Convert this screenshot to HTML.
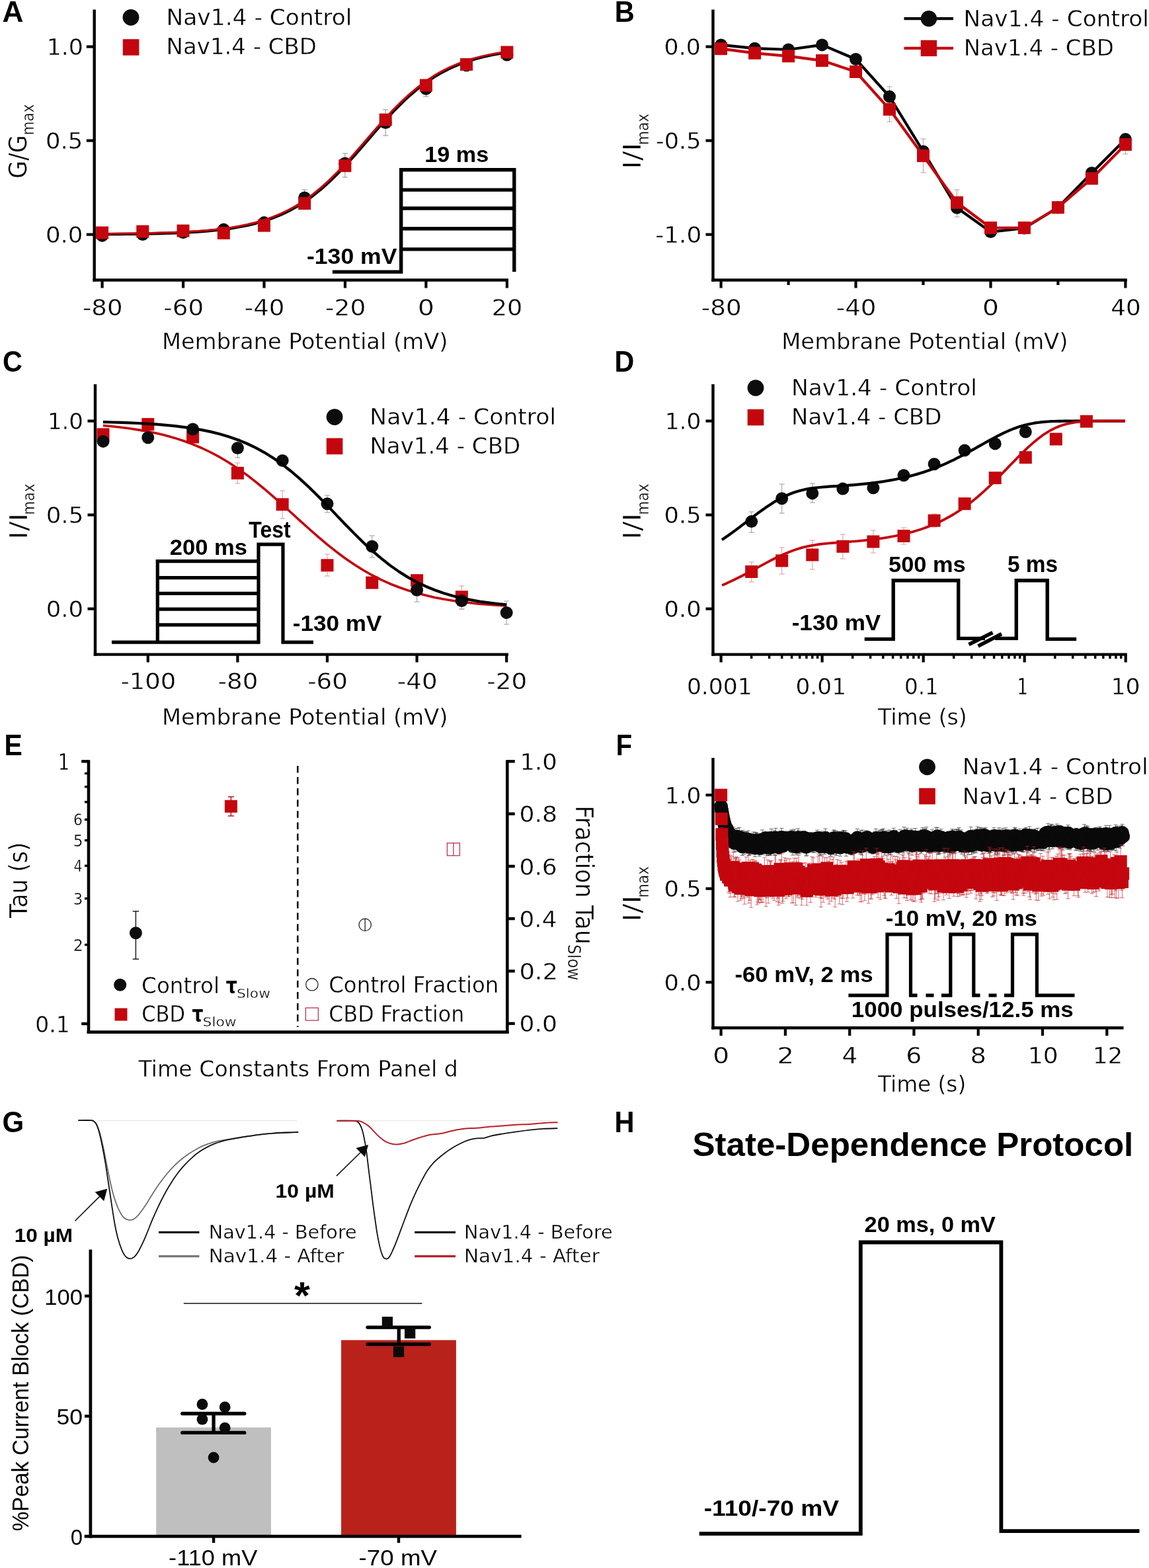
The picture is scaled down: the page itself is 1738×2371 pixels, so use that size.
<!DOCTYPE html>
<html lang="en"><head><meta charset="utf-8"><title>Figure</title>
<style>html,body{margin:0;padding:0;background:#fff}svg{display:block}text{white-space:pre}</style>
</head><body>
<svg width="1738" height="2371" viewBox="0 0 1738 2371">
<rect width="1738" height="2371" fill="#fff"/>
<text x="3.6" y="33.1" font-family='"Liberation Sans",sans-serif' font-size="43.93" font-weight="bold" textLength="31.9" lengthAdjust="spacingAndGlyphs" fill="#000">A</text>
<line x1="142.7" y1="14.5" x2="142.7" y2="425.7" stroke="#000" stroke-width="4.4" stroke-linecap="butt"/>
<line x1="140.5" y1="423.5" x2="769.0" y2="423.5" stroke="#000" stroke-width="4.4" stroke-linecap="butt"/>
<line x1="130.8" y1="70.6" x2="142.7" y2="70.6" stroke="#000" stroke-width="4.2" stroke-linecap="butt"/>
<line x1="130.8" y1="212.6" x2="142.7" y2="212.6" stroke="#000" stroke-width="4.2" stroke-linecap="butt"/>
<line x1="130.8" y1="354.6" x2="142.7" y2="354.6" stroke="#000" stroke-width="4.2" stroke-linecap="butt"/>
<line x1="154.6" y1="423.5" x2="154.6" y2="435.5" stroke="#000" stroke-width="4.2" stroke-linecap="butt"/>
<line x1="277.1" y1="423.5" x2="277.1" y2="435.5" stroke="#000" stroke-width="4.2" stroke-linecap="butt"/>
<line x1="399.5" y1="423.5" x2="399.5" y2="435.5" stroke="#000" stroke-width="4.2" stroke-linecap="butt"/>
<line x1="522.0" y1="423.5" x2="522.0" y2="435.5" stroke="#000" stroke-width="4.2" stroke-linecap="butt"/>
<line x1="644.4" y1="423.5" x2="644.4" y2="435.5" stroke="#000" stroke-width="4.2" stroke-linecap="butt"/>
<line x1="766.9" y1="423.5" x2="766.9" y2="435.5" stroke="#000" stroke-width="4.2" stroke-linecap="butt"/>
<text x="70.7" y="83.2" font-family='"DejaVu Sans","Liberation Sans",sans-serif' font-size="34.5" textLength="55.3" lengthAdjust="spacingAndGlyphs" fill="#000" stroke="#fff" stroke-width="0.4">1.0</text>
<text x="68.9" y="225.2" font-family='"DejaVu Sans","Liberation Sans",sans-serif' font-size="34.5" textLength="56.3" lengthAdjust="spacingAndGlyphs" fill="#000" stroke="#fff" stroke-width="0.4">0.5</text>
<text x="68.9" y="367.2" font-family='"DejaVu Sans","Liberation Sans",sans-serif' font-size="34.5" textLength="56.6" lengthAdjust="spacingAndGlyphs" fill="#000" stroke="#fff" stroke-width="0.4">0.0</text>
<text x="125.0" y="476.8" font-family='"DejaVu Sans","Liberation Sans",sans-serif' font-size="34.5" textLength="60.5" lengthAdjust="spacingAndGlyphs" fill="#000" stroke="#fff" stroke-width="0.4">-80</text>
<text x="247.3" y="476.8" font-family='"DejaVu Sans","Liberation Sans",sans-serif' font-size="34.5" textLength="60.8" lengthAdjust="spacingAndGlyphs" fill="#000" stroke="#fff" stroke-width="0.4">-60</text>
<text x="369.7" y="476.8" font-family='"DejaVu Sans","Liberation Sans",sans-serif' font-size="34.5" textLength="60.9" lengthAdjust="spacingAndGlyphs" fill="#000" stroke="#fff" stroke-width="0.4">-40</text>
<text x="491.9" y="476.8" font-family='"DejaVu Sans","Liberation Sans",sans-serif' font-size="34.5" textLength="61.5" lengthAdjust="spacingAndGlyphs" fill="#000" stroke="#fff" stroke-width="0.4">-20</text>
<text x="632.0" y="476.8" font-family='"DejaVu Sans","Liberation Sans",sans-serif' font-size="34.5" textLength="24.9" lengthAdjust="spacingAndGlyphs" fill="#000" stroke="#fff" stroke-width="0.4">0</text>
<text x="743.7" y="476.8" font-family='"DejaVu Sans","Liberation Sans",sans-serif' font-size="34.5" textLength="46.6" lengthAdjust="spacingAndGlyphs" fill="#000" stroke="#fff" stroke-width="0.4">20</text>
<text x="244.9" y="528.3" font-family='"DejaVu Sans","Liberation Sans",sans-serif' font-size="34" textLength="432.5" lengthAdjust="spacingAndGlyphs" fill="#000" stroke="#fff" stroke-width="0.4">Membrane Potential (mV)</text>
<text transform="translate(39.9 269.9) rotate(-90)" font-family='"DejaVu Sans","Liberation Sans",sans-serif' font-size="37.00" font-weight="normal" textLength="65.8" lengthAdjust="spacingAndGlyphs" fill="#000" stroke="#fff" stroke-width="0.4">G/G</text>
<text transform="translate(50.8 204.5) rotate(-90)" font-family='"DejaVu Sans","Liberation Sans",sans-serif' font-size="24.70" font-weight="normal" textLength="47.2" lengthAdjust="spacingAndGlyphs" fill="#000" stroke="#fff" stroke-width="0.4">max</text>
<circle cx="198.0" cy="26.3" r="12.4" fill="#0d0d0d" stroke="none" stroke-width="0"/>
<rect x="185.8" y="59.2" width="24.6" height="24.6" fill="#c4060e" stroke="none" stroke-width="0"/>
<text x="251.5" y="38.0" font-family='"DejaVu Sans","Liberation Sans",sans-serif' font-size="33.5" textLength="280.8" lengthAdjust="spacingAndGlyphs" fill="#000" stroke="#fff" stroke-width="0.4">Nav1.4 - Control</text>
<text x="251.6" y="82.2" font-family='"DejaVu Sans","Liberation Sans",sans-serif' font-size="33.5" textLength="227.4" lengthAdjust="spacingAndGlyphs" fill="#000" stroke="#fff" stroke-width="0.4">Nav1.4 - CBD</text>
<line x1="460.7" y1="287.0" x2="460.7" y2="311.0" stroke="#8a8a9a" stroke-width="1" stroke-linecap="butt"/>
<line x1="456.7" y1="287.0" x2="464.7" y2="287.0" stroke="#8a8a9a" stroke-width="1" stroke-linecap="butt"/>
<line x1="456.7" y1="311.0" x2="464.7" y2="311.0" stroke="#8a8a9a" stroke-width="1" stroke-linecap="butt"/>
<line x1="521.9" y1="232.0" x2="521.9" y2="268.0" stroke="#8a8a9a" stroke-width="1" stroke-linecap="butt"/>
<line x1="517.9" y1="232.0" x2="525.9" y2="232.0" stroke="#8a8a9a" stroke-width="1" stroke-linecap="butt"/>
<line x1="517.9" y1="268.0" x2="525.9" y2="268.0" stroke="#8a8a9a" stroke-width="1" stroke-linecap="butt"/>
<line x1="583.2" y1="166.0" x2="583.2" y2="205.0" stroke="#8a8a9a" stroke-width="1" stroke-linecap="butt"/>
<line x1="579.2" y1="166.0" x2="587.2" y2="166.0" stroke="#8a8a9a" stroke-width="1" stroke-linecap="butt"/>
<line x1="579.2" y1="205.0" x2="587.2" y2="205.0" stroke="#8a8a9a" stroke-width="1" stroke-linecap="butt"/>
<line x1="644.4" y1="124.0" x2="644.4" y2="146.0" stroke="#8a8a9a" stroke-width="1" stroke-linecap="butt"/>
<line x1="640.4" y1="124.0" x2="648.4" y2="124.0" stroke="#8a8a9a" stroke-width="1" stroke-linecap="butt"/>
<line x1="640.4" y1="146.0" x2="648.4" y2="146.0" stroke="#8a8a9a" stroke-width="1" stroke-linecap="butt"/>
<polyline points="154.6,354.2 166.8,354.1 179.1,354.0 191.3,353.9 203.6,353.7 215.8,353.5 228.1,353.3 240.3,353.0 252.6,352.6 264.8,352.2 277.0,351.6 289.3,351.0 301.5,350.2 313.8,349.2 326.0,348.1 338.3,346.7 350.5,345.0 362.8,342.9 375.0,340.5 387.3,337.5 399.5,334.0 411.7,329.9 424.0,325.0 436.2,319.2 448.5,312.6 460.7,304.9 473.0,296.1 485.2,286.3 497.5,275.4 509.7,263.5 521.9,250.7 534.2,237.2 546.4,223.2 558.7,209.1 570.9,194.9 583.2,181.2 595.4,168.0 607.7,155.6 619.9,144.2 632.2,133.8 644.4,124.6 656.6,116.4 668.9,109.2 681.1,103.0 693.4,97.7 705.6,93.2 717.9,89.3 730.1,86.1 742.4,83.4 754.6,81.2 766.9,79.3" fill="none" stroke="#000" stroke-width="4.4" stroke-linejoin="round" stroke-linecap="butt"/>
<circle cx="154.6" cy="356.4" r="9.5" fill="#0d0d0d" stroke="none" stroke-width="0"/>
<circle cx="215.8" cy="354.5" r="9.5" fill="#0d0d0d" stroke="none" stroke-width="0"/>
<circle cx="277.0" cy="351.6" r="9.5" fill="#0d0d0d" stroke="none" stroke-width="0"/>
<circle cx="338.3" cy="347.1" r="9.5" fill="#0d0d0d" stroke="none" stroke-width="0"/>
<circle cx="399.5" cy="336.6" r="9.5" fill="#0d0d0d" stroke="none" stroke-width="0"/>
<circle cx="460.7" cy="299.0" r="9.5" fill="#0d0d0d" stroke="none" stroke-width="0"/>
<circle cx="521.9" cy="247.0" r="9.5" fill="#0d0d0d" stroke="none" stroke-width="0"/>
<circle cx="583.2" cy="185.6" r="9.5" fill="#0d0d0d" stroke="none" stroke-width="0"/>
<circle cx="644.4" cy="134.3" r="9.5" fill="#0d0d0d" stroke="none" stroke-width="0"/>
<circle cx="705.6" cy="98.7" r="9.5" fill="#0d0d0d" stroke="none" stroke-width="0"/>
<circle cx="766.9" cy="83.0" r="9.5" fill="#0d0d0d" stroke="none" stroke-width="0"/>
<polyline points="154.6,353.4 166.8,353.3 179.1,353.2 191.3,353.0 203.6,352.9 215.8,352.7 228.1,352.4 240.3,352.1 252.6,351.7 264.8,351.3 277.0,350.7 289.3,350.1 301.5,349.3 313.8,348.3 326.0,347.1 338.3,345.6 350.5,343.9 362.8,341.8 375.0,339.3 387.3,336.2 399.5,332.7 411.7,328.4 424.0,323.4 436.2,317.5 448.5,310.7 460.7,302.8 473.0,293.9 485.2,283.9 497.5,272.9 509.7,260.8 521.9,247.9 534.2,234.3 546.4,220.3 558.7,206.1 570.9,192.0 583.2,178.4 595.4,165.3 607.7,153.1 619.9,141.8 632.2,131.6 644.4,122.5 656.6,114.4 668.9,107.4 681.1,101.3 693.4,96.2 705.6,91.7 717.9,88.0 730.1,84.9 742.4,82.3 754.6,80.1 766.9,78.3" fill="none" stroke="#c4060e" stroke-width="3" stroke-linejoin="round" stroke-linecap="butt"/>
<rect x="145.1" y="342.4" width="19" height="19" fill="#c4060e" stroke="none" stroke-width="0"/>
<rect x="206.3" y="340.5" width="19" height="19" fill="#c4060e" stroke="none" stroke-width="0"/>
<rect x="267.5" y="339.5" width="19" height="19" fill="#c4060e" stroke="none" stroke-width="0"/>
<rect x="328.8" y="342.9" width="19" height="19" fill="#c4060e" stroke="none" stroke-width="0"/>
<rect x="390.0" y="331.6" width="19" height="19" fill="#c4060e" stroke="none" stroke-width="0"/>
<rect x="451.2" y="298.1" width="19" height="19" fill="#c4060e" stroke="none" stroke-width="0"/>
<rect x="512.4" y="241.2" width="19" height="19" fill="#c4060e" stroke="none" stroke-width="0"/>
<rect x="573.7" y="171.6" width="19" height="19" fill="#c4060e" stroke="none" stroke-width="0"/>
<rect x="634.9" y="119.5" width="19" height="19" fill="#c4060e" stroke="none" stroke-width="0"/>
<rect x="696.1" y="87.9" width="19" height="19" fill="#c4060e" stroke="none" stroke-width="0"/>
<rect x="757.4" y="69.5" width="19" height="19" fill="#c4060e" stroke="none" stroke-width="0"/>
<polyline points="502.9,411.1 606.7,411.1 606.7,256.7 777.8,256.7 777.8,411.0" fill="none" stroke="#000" stroke-width="5.4" stroke-linejoin="miter" stroke-linecap="butt"/>
<line x1="606.7" y1="287.1" x2="777.8" y2="287.1" stroke="#000" stroke-width="5.4" stroke-linecap="butt"/>
<line x1="606.7" y1="315.0" x2="777.8" y2="315.0" stroke="#000" stroke-width="5.4" stroke-linecap="butt"/>
<line x1="606.7" y1="345.8" x2="777.8" y2="345.8" stroke="#000" stroke-width="5.4" stroke-linecap="butt"/>
<line x1="606.7" y1="376.9" x2="777.8" y2="376.9" stroke="#000" stroke-width="5.4" stroke-linecap="butt"/>
<text x="642.2" y="244.9" font-family='"Liberation Sans",sans-serif' font-size="33.98" font-weight="bold" textLength="97.0" lengthAdjust="spacingAndGlyphs" fill="#000">19 ms</text>
<text x="463.9" y="399.0" font-family='"Liberation Sans",sans-serif' font-size="33.98" font-weight="bold" textLength="136.7" lengthAdjust="spacingAndGlyphs" fill="#000">-130 mV</text>
<text x="929.7" y="33.1" font-family='"Liberation Sans",sans-serif' font-size="43.93" font-weight="bold" textLength="30.0" lengthAdjust="spacingAndGlyphs" fill="#000">B</text>
<line x1="1078.5" y1="14.5" x2="1078.5" y2="425.7" stroke="#000" stroke-width="4.4" stroke-linecap="butt"/>
<line x1="1076.3" y1="423.5" x2="1704.8" y2="423.5" stroke="#000" stroke-width="4.4" stroke-linecap="butt"/>
<line x1="1067.5" y1="70.6" x2="1078.5" y2="70.6" stroke="#000" stroke-width="4.2" stroke-linecap="butt"/>
<line x1="1067.5" y1="212.6" x2="1078.5" y2="212.6" stroke="#000" stroke-width="4.2" stroke-linecap="butt"/>
<line x1="1067.5" y1="354.6" x2="1078.5" y2="354.6" stroke="#000" stroke-width="4.2" stroke-linecap="butt"/>
<line x1="1090.6" y1="423.5" x2="1090.6" y2="435.5" stroke="#000" stroke-width="4.2" stroke-linecap="butt"/>
<line x1="1294.5" y1="423.5" x2="1294.5" y2="435.5" stroke="#000" stroke-width="4.2" stroke-linecap="butt"/>
<line x1="1498.5" y1="423.5" x2="1498.5" y2="435.5" stroke="#000" stroke-width="4.2" stroke-linecap="butt"/>
<line x1="1702.4" y1="423.5" x2="1702.4" y2="435.5" stroke="#000" stroke-width="4.2" stroke-linecap="butt"/>
<line x1="1192.6" y1="423.5" x2="1192.6" y2="431.0" stroke="#000" stroke-width="4.2" stroke-linecap="butt"/>
<line x1="1396.5" y1="423.5" x2="1396.5" y2="431.0" stroke="#000" stroke-width="4.2" stroke-linecap="butt"/>
<line x1="1600.4" y1="423.5" x2="1600.4" y2="431.0" stroke="#000" stroke-width="4.2" stroke-linecap="butt"/>
<text x="1004.6" y="83.2" font-family='"DejaVu Sans","Liberation Sans",sans-serif' font-size="34.5" textLength="55.1" lengthAdjust="spacingAndGlyphs" fill="#000" stroke="#fff" stroke-width="0.4">0.0</text>
<text x="992.0" y="225.2" font-family='"DejaVu Sans","Liberation Sans",sans-serif' font-size="34.5" textLength="68.5" lengthAdjust="spacingAndGlyphs" fill="#000" stroke="#fff" stroke-width="0.4">-0.5</text>
<text x="991.3" y="367.2" font-family='"DejaVu Sans","Liberation Sans",sans-serif' font-size="34.5" textLength="70.1" lengthAdjust="spacingAndGlyphs" fill="#000" stroke="#fff" stroke-width="0.4">-1.0</text>
<text x="1060.8" y="476.8" font-family='"DejaVu Sans","Liberation Sans",sans-serif' font-size="34.5" textLength="60.8" lengthAdjust="spacingAndGlyphs" fill="#000" stroke="#fff" stroke-width="0.4">-80</text>
<text x="1264.7" y="476.8" font-family='"DejaVu Sans","Liberation Sans",sans-serif' font-size="34.5" textLength="60.9" lengthAdjust="spacingAndGlyphs" fill="#000" stroke="#fff" stroke-width="0.4">-40</text>
<text x="1486.0" y="476.8" font-family='"DejaVu Sans","Liberation Sans",sans-serif' font-size="34.5" textLength="24.9" lengthAdjust="spacingAndGlyphs" fill="#000" stroke="#fff" stroke-width="0.4">0</text>
<text x="1680.3" y="476.8" font-family='"DejaVu Sans","Liberation Sans",sans-serif' font-size="34.5" textLength="45.4" lengthAdjust="spacingAndGlyphs" fill="#000" stroke="#fff" stroke-width="0.4">40</text>
<text x="1182.2" y="528.3" font-family='"DejaVu Sans","Liberation Sans",sans-serif' font-size="34" textLength="433.2" lengthAdjust="spacingAndGlyphs" fill="#000" stroke="#fff" stroke-width="0.4">Membrane Potential (mV)</text>
<text transform="translate(968.5 255.7) rotate(-90)" font-family='"DejaVu Sans","Liberation Sans",sans-serif' font-size="37.00" font-weight="normal" textLength="40.0" lengthAdjust="spacingAndGlyphs" fill="#000" stroke="#fff" stroke-width="0.4">I/I</text>
<text transform="translate(980.6 219.3) rotate(-90)" font-family='"DejaVu Sans","Liberation Sans",sans-serif' font-size="24.70" font-weight="normal" textLength="47.5" lengthAdjust="spacingAndGlyphs" fill="#000" stroke="#fff" stroke-width="0.4">max</text>
<line x1="1367.5" y1="28.2" x2="1442.0" y2="28.2" stroke="#000" stroke-width="4.2" stroke-linecap="butt"/>
<circle cx="1404.9" cy="28.2" r="12.2" fill="#0d0d0d" stroke="none" stroke-width="0"/>
<line x1="1367.5" y1="72.9" x2="1442.0" y2="72.9" stroke="#c4060e" stroke-width="4.2" stroke-linecap="butt"/>
<rect x="1392.7" y="60.7" width="24.4" height="24.4" fill="#c4060e" stroke="none" stroke-width="0"/>
<text x="1457.6" y="39.5" font-family='"DejaVu Sans","Liberation Sans",sans-serif' font-size="33.5" textLength="280.3" lengthAdjust="spacingAndGlyphs" fill="#000" stroke="#fff" stroke-width="0.4">Nav1.4 - Control</text>
<text x="1457.7" y="84.3" font-family='"DejaVu Sans","Liberation Sans",sans-serif' font-size="33.5" textLength="227.3" lengthAdjust="spacingAndGlyphs" fill="#000" stroke="#fff" stroke-width="0.4">Nav1.4 - CBD</text>
<line x1="1345.5" y1="131.0" x2="1345.5" y2="184.0" stroke="#b99" stroke-width="1" stroke-linecap="butt"/>
<line x1="1341.5" y1="131.0" x2="1349.5" y2="131.0" stroke="#b99" stroke-width="1" stroke-linecap="butt"/>
<line x1="1341.5" y1="184.0" x2="1349.5" y2="184.0" stroke="#b99" stroke-width="1" stroke-linecap="butt"/>
<line x1="1396.5" y1="210.0" x2="1396.5" y2="261.0" stroke="#b99" stroke-width="1" stroke-linecap="butt"/>
<line x1="1392.5" y1="210.0" x2="1400.5" y2="210.0" stroke="#b99" stroke-width="1" stroke-linecap="butt"/>
<line x1="1392.5" y1="261.0" x2="1400.5" y2="261.0" stroke="#b99" stroke-width="1" stroke-linecap="butt"/>
<line x1="1447.5" y1="287.0" x2="1447.5" y2="328.0" stroke="#b99" stroke-width="1" stroke-linecap="butt"/>
<line x1="1443.5" y1="287.0" x2="1451.5" y2="287.0" stroke="#b99" stroke-width="1" stroke-linecap="butt"/>
<line x1="1443.5" y1="328.0" x2="1451.5" y2="328.0" stroke="#b99" stroke-width="1" stroke-linecap="butt"/>
<line x1="1702.4" y1="205.0" x2="1702.4" y2="233.0" stroke="#b99" stroke-width="1" stroke-linecap="butt"/>
<line x1="1698.4" y1="205.0" x2="1706.4" y2="205.0" stroke="#b99" stroke-width="1" stroke-linecap="butt"/>
<line x1="1698.4" y1="233.0" x2="1706.4" y2="233.0" stroke="#b99" stroke-width="1" stroke-linecap="butt"/>
<polyline points="1090.6,67.9 1141.6,73.2 1192.6,75.0 1243.5,67.9 1294.5,89.5 1345.5,146.1 1396.5,229.0 1447.5,314.2 1498.5,350.6 1549.4,345.0 1600.4,313.7 1651.4,261.4 1702.4,210.6" fill="none" stroke="#000" stroke-width="4.2" stroke-linejoin="round" stroke-linecap="butt"/>
<circle cx="1090.6" cy="67.9" r="9.5" fill="#0d0d0d" stroke="none" stroke-width="0"/>
<circle cx="1141.6" cy="73.2" r="9.5" fill="#0d0d0d" stroke="none" stroke-width="0"/>
<circle cx="1192.6" cy="75.0" r="9.5" fill="#0d0d0d" stroke="none" stroke-width="0"/>
<circle cx="1243.5" cy="67.9" r="9.5" fill="#0d0d0d" stroke="none" stroke-width="0"/>
<circle cx="1294.5" cy="89.5" r="9.5" fill="#0d0d0d" stroke="none" stroke-width="0"/>
<circle cx="1345.5" cy="146.1" r="9.5" fill="#0d0d0d" stroke="none" stroke-width="0"/>
<circle cx="1396.5" cy="229.0" r="9.5" fill="#0d0d0d" stroke="none" stroke-width="0"/>
<circle cx="1447.5" cy="314.2" r="9.5" fill="#0d0d0d" stroke="none" stroke-width="0"/>
<circle cx="1498.5" cy="350.6" r="9.5" fill="#0d0d0d" stroke="none" stroke-width="0"/>
<circle cx="1549.4" cy="345.0" r="9.5" fill="#0d0d0d" stroke="none" stroke-width="0"/>
<circle cx="1600.4" cy="313.7" r="9.5" fill="#0d0d0d" stroke="none" stroke-width="0"/>
<circle cx="1651.4" cy="261.4" r="9.5" fill="#0d0d0d" stroke="none" stroke-width="0"/>
<circle cx="1702.4" cy="210.6" r="9.5" fill="#0d0d0d" stroke="none" stroke-width="0"/>
<polyline points="1090.6,73.7 1141.6,80.3 1192.6,84.8 1243.5,91.6 1294.5,108.5 1345.5,165.3 1396.5,235.6 1447.5,306.3 1498.5,344.5 1549.4,344.5 1600.4,313.7 1651.4,269.9 1702.4,218.5" fill="none" stroke="#c4060e" stroke-width="4.2" stroke-linejoin="round" stroke-linecap="butt"/>
<rect x="1081.1" y="64.2" width="19" height="19" fill="#c4060e" stroke="none" stroke-width="0"/>
<rect x="1132.1" y="70.8" width="19" height="19" fill="#c4060e" stroke="none" stroke-width="0"/>
<rect x="1183.1" y="75.3" width="19" height="19" fill="#c4060e" stroke="none" stroke-width="0"/>
<rect x="1234.0" y="82.1" width="19" height="19" fill="#c4060e" stroke="none" stroke-width="0"/>
<rect x="1285.0" y="99.0" width="19" height="19" fill="#c4060e" stroke="none" stroke-width="0"/>
<rect x="1336.0" y="155.8" width="19" height="19" fill="#c4060e" stroke="none" stroke-width="0"/>
<rect x="1387.0" y="226.1" width="19" height="19" fill="#c4060e" stroke="none" stroke-width="0"/>
<rect x="1438.0" y="296.8" width="19" height="19" fill="#c4060e" stroke="none" stroke-width="0"/>
<rect x="1489.0" y="335.0" width="19" height="19" fill="#c4060e" stroke="none" stroke-width="0"/>
<rect x="1539.9" y="335.0" width="19" height="19" fill="#c4060e" stroke="none" stroke-width="0"/>
<rect x="1590.9" y="304.2" width="19" height="19" fill="#c4060e" stroke="none" stroke-width="0"/>
<rect x="1641.9" y="260.4" width="19" height="19" fill="#c4060e" stroke="none" stroke-width="0"/>
<rect x="1692.9" y="209.0" width="19" height="19" fill="#c4060e" stroke="none" stroke-width="0"/>
<text x="4.1" y="561.9" font-family='"Liberation Sans",sans-serif' font-size="43.9" font-weight="bold" textLength="29.9" lengthAdjust="spacingAndGlyphs" fill="#000">C</text>
<line x1="144.0" y1="581.1" x2="144.0" y2="991.8" stroke="#000" stroke-width="4.4" stroke-linecap="butt"/>
<line x1="141.8" y1="989.6" x2="769.0" y2="989.6" stroke="#000" stroke-width="4.4" stroke-linecap="butt"/>
<line x1="132.5" y1="636.6" x2="144.0" y2="636.6" stroke="#000" stroke-width="4.2" stroke-linecap="butt"/>
<line x1="132.5" y1="778.6" x2="144.0" y2="778.6" stroke="#000" stroke-width="4.2" stroke-linecap="butt"/>
<line x1="132.5" y1="920.6" x2="144.0" y2="920.6" stroke="#000" stroke-width="4.2" stroke-linecap="butt"/>
<line x1="223.8" y1="989.6" x2="223.8" y2="1001.5" stroke="#000" stroke-width="4.2" stroke-linecap="butt"/>
<line x1="359.4" y1="989.6" x2="359.4" y2="1001.5" stroke="#000" stroke-width="4.2" stroke-linecap="butt"/>
<line x1="495.0" y1="989.6" x2="495.0" y2="1001.5" stroke="#000" stroke-width="4.2" stroke-linecap="butt"/>
<line x1="630.6" y1="989.6" x2="630.6" y2="1001.5" stroke="#000" stroke-width="4.2" stroke-linecap="butt"/>
<line x1="766.2" y1="989.6" x2="766.2" y2="1001.5" stroke="#000" stroke-width="4.2" stroke-linecap="butt"/>
<text x="71.9" y="649.2" font-family='"DejaVu Sans","Liberation Sans",sans-serif' font-size="34.5" textLength="54.1" lengthAdjust="spacingAndGlyphs" fill="#000" stroke="#fff" stroke-width="0.4">1.0</text>
<text x="69.7" y="791.2" font-family='"DejaVu Sans","Liberation Sans",sans-serif' font-size="34.5" textLength="56.7" lengthAdjust="spacingAndGlyphs" fill="#000" stroke="#fff" stroke-width="0.4">0.5</text>
<text x="69.7" y="933.2" font-family='"DejaVu Sans","Liberation Sans",sans-serif' font-size="34.5" textLength="56.4" lengthAdjust="spacingAndGlyphs" fill="#000" stroke="#fff" stroke-width="0.4">0.0</text>
<text x="182.4" y="1042.4" font-family='"DejaVu Sans","Liberation Sans",sans-serif' font-size="34.5" textLength="84.0" lengthAdjust="spacingAndGlyphs" fill="#000" stroke="#fff" stroke-width="0.4">-100</text>
<text x="329.6" y="1042.4" font-family='"DejaVu Sans","Liberation Sans",sans-serif' font-size="34.5" textLength="60.8" lengthAdjust="spacingAndGlyphs" fill="#000" stroke="#fff" stroke-width="0.4">-80</text>
<text x="465.2" y="1042.4" font-family='"DejaVu Sans","Liberation Sans",sans-serif' font-size="34.5" textLength="60.8" lengthAdjust="spacingAndGlyphs" fill="#000" stroke="#fff" stroke-width="0.4">-60</text>
<text x="600.8" y="1042.4" font-family='"DejaVu Sans","Liberation Sans",sans-serif' font-size="34.5" textLength="60.8" lengthAdjust="spacingAndGlyphs" fill="#000" stroke="#fff" stroke-width="0.4">-40</text>
<text x="736.3" y="1042.4" font-family='"DejaVu Sans","Liberation Sans",sans-serif' font-size="34.5" textLength="61.0" lengthAdjust="spacingAndGlyphs" fill="#000" stroke="#fff" stroke-width="0.4">-20</text>
<text x="244.9" y="1095.7" font-family='"DejaVu Sans","Liberation Sans",sans-serif' font-size="34" textLength="432.5" lengthAdjust="spacingAndGlyphs" fill="#000" stroke="#fff" stroke-width="0.4">Membrane Potential (mV)</text>
<text transform="translate(40.8 815.7) rotate(-90)" font-family='"DejaVu Sans","Liberation Sans",sans-serif' font-size="37.00" font-weight="normal" textLength="40.0" lengthAdjust="spacingAndGlyphs" fill="#000" stroke="#fff" stroke-width="0.4">I/I</text>
<text transform="translate(52.3 778.7) rotate(-90)" font-family='"DejaVu Sans","Liberation Sans",sans-serif' font-size="24.70" font-weight="normal" textLength="47.4" lengthAdjust="spacingAndGlyphs" fill="#000" stroke="#fff" stroke-width="0.4">max</text>
<circle cx="506.1" cy="630.6" r="12.4" fill="#0d0d0d" stroke="none" stroke-width="0"/>
<rect x="493.8" y="662.5" width="24.6" height="24.6" fill="#c4060e" stroke="none" stroke-width="0"/>
<text x="559.3" y="641.7" font-family='"DejaVu Sans","Liberation Sans",sans-serif' font-size="33.5" textLength="281.7" lengthAdjust="spacingAndGlyphs" fill="#000" stroke="#fff" stroke-width="0.4">Nav1.4 - Control</text>
<text x="559.4" y="686.4" font-family='"DejaVu Sans","Liberation Sans",sans-serif' font-size="33.5" textLength="227.8" lengthAdjust="spacingAndGlyphs" fill="#000" stroke="#fff" stroke-width="0.4">Nav1.4 - CBD</text>
<line x1="359.4" y1="664.0" x2="359.4" y2="692.0" stroke="#999" stroke-width="1" stroke-linecap="butt"/>
<line x1="355.4" y1="664.0" x2="363.4" y2="664.0" stroke="#999" stroke-width="1" stroke-linecap="butt"/>
<line x1="355.4" y1="692.0" x2="363.4" y2="692.0" stroke="#999" stroke-width="1" stroke-linecap="butt"/>
<line x1="495.0" y1="749.0" x2="495.0" y2="775.0" stroke="#999" stroke-width="1" stroke-linecap="butt"/>
<line x1="491.0" y1="749.0" x2="499.0" y2="749.0" stroke="#999" stroke-width="1" stroke-linecap="butt"/>
<line x1="491.0" y1="775.0" x2="499.0" y2="775.0" stroke="#999" stroke-width="1" stroke-linecap="butt"/>
<line x1="562.8" y1="810.0" x2="562.8" y2="843.0" stroke="#999" stroke-width="1" stroke-linecap="butt"/>
<line x1="558.8" y1="810.0" x2="566.8" y2="810.0" stroke="#999" stroke-width="1" stroke-linecap="butt"/>
<line x1="558.8" y1="843.0" x2="566.8" y2="843.0" stroke="#999" stroke-width="1" stroke-linecap="butt"/>
<line x1="630.6" y1="875.0" x2="630.6" y2="910.0" stroke="#999" stroke-width="1" stroke-linecap="butt"/>
<line x1="626.6" y1="875.0" x2="634.6" y2="875.0" stroke="#999" stroke-width="1" stroke-linecap="butt"/>
<line x1="626.6" y1="910.0" x2="634.6" y2="910.0" stroke="#999" stroke-width="1" stroke-linecap="butt"/>
<line x1="698.4" y1="896.0" x2="698.4" y2="921.0" stroke="#999" stroke-width="1" stroke-linecap="butt"/>
<line x1="694.4" y1="896.0" x2="702.4" y2="896.0" stroke="#999" stroke-width="1" stroke-linecap="butt"/>
<line x1="694.4" y1="921.0" x2="702.4" y2="921.0" stroke="#999" stroke-width="1" stroke-linecap="butt"/>
<line x1="766.2" y1="909.0" x2="766.2" y2="944.0" stroke="#999" stroke-width="1" stroke-linecap="butt"/>
<line x1="762.2" y1="909.0" x2="770.2" y2="909.0" stroke="#999" stroke-width="1" stroke-linecap="butt"/>
<line x1="762.2" y1="944.0" x2="770.2" y2="944.0" stroke="#999" stroke-width="1" stroke-linecap="butt"/>
<line x1="359.4" y1="700.0" x2="359.4" y2="731.0" stroke="#d99" stroke-width="1" stroke-linecap="butt"/>
<line x1="355.4" y1="700.0" x2="363.4" y2="700.0" stroke="#d99" stroke-width="1" stroke-linecap="butt"/>
<line x1="355.4" y1="731.0" x2="363.4" y2="731.0" stroke="#d99" stroke-width="1" stroke-linecap="butt"/>
<line x1="427.2" y1="742.0" x2="427.2" y2="784.0" stroke="#d99" stroke-width="1" stroke-linecap="butt"/>
<line x1="423.2" y1="742.0" x2="431.2" y2="742.0" stroke="#d99" stroke-width="1" stroke-linecap="butt"/>
<line x1="423.2" y1="784.0" x2="431.2" y2="784.0" stroke="#d99" stroke-width="1" stroke-linecap="butt"/>
<line x1="495.0" y1="838.0" x2="495.0" y2="871.0" stroke="#d99" stroke-width="1" stroke-linecap="butt"/>
<line x1="491.0" y1="838.0" x2="499.0" y2="838.0" stroke="#d99" stroke-width="1" stroke-linecap="butt"/>
<line x1="491.0" y1="871.0" x2="499.0" y2="871.0" stroke="#d99" stroke-width="1" stroke-linecap="butt"/>
<line x1="698.4" y1="886.0" x2="698.4" y2="921.0" stroke="#d99" stroke-width="1" stroke-linecap="butt"/>
<line x1="694.4" y1="886.0" x2="702.4" y2="886.0" stroke="#d99" stroke-width="1" stroke-linecap="butt"/>
<line x1="694.4" y1="921.0" x2="702.4" y2="921.0" stroke="#d99" stroke-width="1" stroke-linecap="butt"/>
<rect x="146.5" y="647.4" width="19" height="19" fill="#c4060e" stroke="none" stroke-width="0"/>
<rect x="214.3" y="632.1" width="19" height="19" fill="#c4060e" stroke="none" stroke-width="0"/>
<rect x="282.1" y="651.4" width="19" height="19" fill="#c4060e" stroke="none" stroke-width="0"/>
<rect x="349.9" y="705.9" width="19" height="19" fill="#c4060e" stroke="none" stroke-width="0"/>
<rect x="417.7" y="753.3" width="19" height="19" fill="#c4060e" stroke="none" stroke-width="0"/>
<rect x="485.5" y="845.3" width="19" height="19" fill="#c4060e" stroke="none" stroke-width="0"/>
<rect x="553.3" y="871.6" width="19" height="19" fill="#c4060e" stroke="none" stroke-width="0"/>
<rect x="621.1" y="868.2" width="19" height="19" fill="#c4060e" stroke="none" stroke-width="0"/>
<rect x="688.9" y="893.2" width="19" height="19" fill="#c4060e" stroke="none" stroke-width="0"/>
<polyline points="156.0,643.5 169.6,644.8 183.1,646.2 196.7,648.0 210.2,650.1 223.8,652.5 237.4,655.3 250.9,658.6 264.5,662.4 278.0,666.8 291.6,671.8 305.2,677.5 318.7,684.0 332.3,691.2 345.8,699.3 359.4,708.2 373.0,717.9 386.5,728.4 400.1,739.5 413.6,751.2 427.2,763.2 440.8,775.5 454.3,787.8 467.9,800.0 481.4,811.9 495.0,823.3 508.6,834.1 522.1,844.2 535.7,853.5 549.2,862.0 562.8,869.7 576.4,876.6 589.9,882.7 603.5,888.0 617.0,892.7 630.6,896.8 644.2,900.3 657.7,903.4 671.3,906.0 684.8,908.2 698.4,910.1 712.0,911.7 725.5,913.1 739.1,914.3 752.6,915.3 766.2,916.1" fill="none" stroke="#c4060e" stroke-width="3.6" stroke-linejoin="round" stroke-linecap="butt"/>
<circle cx="156.0" cy="667.4" r="9.5" fill="#0d0d0d" stroke="none" stroke-width="0"/>
<circle cx="223.8" cy="661.7" r="9.5" fill="#0d0d0d" stroke="none" stroke-width="0"/>
<circle cx="291.6" cy="649.0" r="9.5" fill="#0d0d0d" stroke="none" stroke-width="0"/>
<circle cx="359.4" cy="677.5" r="9.5" fill="#0d0d0d" stroke="none" stroke-width="0"/>
<circle cx="427.2" cy="696.4" r="9.5" fill="#0d0d0d" stroke="none" stroke-width="0"/>
<circle cx="495.0" cy="761.7" r="9.5" fill="#0d0d0d" stroke="none" stroke-width="0"/>
<circle cx="562.8" cy="826.3" r="9.5" fill="#0d0d0d" stroke="none" stroke-width="0"/>
<circle cx="630.6" cy="892.2" r="9.5" fill="#0d0d0d" stroke="none" stroke-width="0"/>
<circle cx="698.4" cy="908.5" r="9.5" fill="#0d0d0d" stroke="none" stroke-width="0"/>
<circle cx="766.2" cy="926.4" r="9.5" fill="#0d0d0d" stroke="none" stroke-width="0"/>
<polyline points="156.0,638.2 169.6,638.5 183.1,638.9 196.7,639.4 210.2,640.0 223.8,640.8 237.4,641.7 250.9,642.8 264.5,644.2 278.0,645.8 291.6,647.7 305.2,650.1 318.7,652.9 332.3,656.2 345.8,660.2 359.4,664.9 373.0,670.5 386.5,676.9 400.1,684.3 413.6,692.8 427.2,702.3 440.8,713.0 454.3,724.6 467.9,737.2 481.4,750.6 495.0,764.4 508.6,778.6 522.1,792.8 535.7,806.6 549.2,820.0 562.8,832.6 576.4,844.2 589.9,854.9 603.5,864.4 617.0,872.9 630.6,880.3 644.2,886.7 657.7,892.3 671.3,897.0 684.8,901.0 698.4,904.3 712.0,907.1 725.5,909.5 739.1,911.4 752.6,913.0 766.2,914.4" fill="none" stroke="#000" stroke-width="4.2" stroke-linejoin="round" stroke-linecap="butt"/>
<polyline points="169.0,971.1 389.7,971.1" fill="none" stroke="#000" stroke-width="5.2" stroke-linejoin="miter" stroke-linecap="butt"/>
<polyline points="238.3,971.1 238.3,848.7 391.0,848.7" fill="none" stroke="#000" stroke-width="5.2" stroke-linejoin="miter" stroke-linecap="butt"/>
<line x1="238.3" y1="873.7" x2="391.0" y2="873.7" stroke="#000" stroke-width="5.2" stroke-linecap="butt"/>
<line x1="238.3" y1="897.4" x2="391.0" y2="897.4" stroke="#000" stroke-width="5.2" stroke-linecap="butt"/>
<line x1="238.3" y1="921.1" x2="391.0" y2="921.1" stroke="#000" stroke-width="5.2" stroke-linecap="butt"/>
<line x1="238.3" y1="944.8" x2="391.0" y2="944.8" stroke="#000" stroke-width="5.2" stroke-linecap="butt"/>
<polyline points="391.0,973.7 391.0,823.2 428.0,823.2 428.0,971.1 474.0,971.1" fill="none" stroke="#000" stroke-width="5.2" stroke-linejoin="miter" stroke-linecap="butt"/>
<text x="256.8" y="839.0" font-family='"Liberation Sans",sans-serif' font-size="33.98" font-weight="bold" textLength="117.3" lengthAdjust="spacingAndGlyphs" fill="#000">200 ms</text>
<text x="376.3" y="812.8" font-family='"Liberation Sans",sans-serif' font-size="34.47" font-weight="bold" textLength="63.5" lengthAdjust="spacingAndGlyphs" fill="#000">Test</text>
<text x="442.8" y="953.5" font-family='"Liberation Sans",sans-serif' font-size="33.98" font-weight="bold" textLength="134.7" lengthAdjust="spacingAndGlyphs" fill="#000">-130 mV</text>
<text x="929.6" y="561.9" font-family='"Liberation Sans",sans-serif' font-size="43.9" font-weight="bold" textLength="29.8" lengthAdjust="spacingAndGlyphs" fill="#000">D</text>
<line x1="1078.5" y1="581.1" x2="1078.5" y2="991.8" stroke="#000" stroke-width="4.4" stroke-linecap="butt"/>
<line x1="1076.3" y1="989.6" x2="1704.8" y2="989.6" stroke="#000" stroke-width="4.4" stroke-linecap="butt"/>
<line x1="1067.5" y1="636.6" x2="1078.5" y2="636.6" stroke="#000" stroke-width="4.2" stroke-linecap="butt"/>
<line x1="1067.5" y1="778.6" x2="1078.5" y2="778.6" stroke="#000" stroke-width="4.2" stroke-linecap="butt"/>
<line x1="1067.5" y1="920.6" x2="1078.5" y2="920.6" stroke="#000" stroke-width="4.2" stroke-linecap="butt"/>
<line x1="1090.6" y1="989.6" x2="1090.6" y2="1001.5" stroke="#000" stroke-width="4.2" stroke-linecap="butt"/>
<line x1="1136.7" y1="989.6" x2="1136.7" y2="996.0" stroke="#000" stroke-width="3.4" stroke-linecap="butt"/>
<line x1="1163.6" y1="989.6" x2="1163.6" y2="996.0" stroke="#000" stroke-width="3.4" stroke-linecap="butt"/>
<line x1="1182.7" y1="989.6" x2="1182.7" y2="996.0" stroke="#000" stroke-width="3.4" stroke-linecap="butt"/>
<line x1="1197.6" y1="989.6" x2="1197.6" y2="996.0" stroke="#000" stroke-width="3.4" stroke-linecap="butt"/>
<line x1="1209.7" y1="989.6" x2="1209.7" y2="996.0" stroke="#000" stroke-width="3.4" stroke-linecap="butt"/>
<line x1="1219.9" y1="989.6" x2="1219.9" y2="996.0" stroke="#000" stroke-width="3.4" stroke-linecap="butt"/>
<line x1="1228.8" y1="989.6" x2="1228.8" y2="996.0" stroke="#000" stroke-width="3.4" stroke-linecap="butt"/>
<line x1="1236.6" y1="989.6" x2="1236.6" y2="996.0" stroke="#000" stroke-width="3.4" stroke-linecap="butt"/>
<line x1="1243.6" y1="989.6" x2="1243.6" y2="1001.5" stroke="#000" stroke-width="4.2" stroke-linecap="butt"/>
<line x1="1289.7" y1="989.6" x2="1289.7" y2="996.0" stroke="#000" stroke-width="3.4" stroke-linecap="butt"/>
<line x1="1316.6" y1="989.6" x2="1316.6" y2="996.0" stroke="#000" stroke-width="3.4" stroke-linecap="butt"/>
<line x1="1335.8" y1="989.6" x2="1335.8" y2="996.0" stroke="#000" stroke-width="3.4" stroke-linecap="butt"/>
<line x1="1350.6" y1="989.6" x2="1350.6" y2="996.0" stroke="#000" stroke-width="3.4" stroke-linecap="butt"/>
<line x1="1362.7" y1="989.6" x2="1362.7" y2="996.0" stroke="#000" stroke-width="3.4" stroke-linecap="butt"/>
<line x1="1373.0" y1="989.6" x2="1373.0" y2="996.0" stroke="#000" stroke-width="3.4" stroke-linecap="butt"/>
<line x1="1381.8" y1="989.6" x2="1381.8" y2="996.0" stroke="#000" stroke-width="3.4" stroke-linecap="butt"/>
<line x1="1389.7" y1="989.6" x2="1389.7" y2="996.0" stroke="#000" stroke-width="3.4" stroke-linecap="butt"/>
<line x1="1396.7" y1="989.6" x2="1396.7" y2="1001.5" stroke="#000" stroke-width="4.2" stroke-linecap="butt"/>
<line x1="1442.7" y1="989.6" x2="1442.7" y2="996.0" stroke="#000" stroke-width="3.4" stroke-linecap="butt"/>
<line x1="1469.7" y1="989.6" x2="1469.7" y2="996.0" stroke="#000" stroke-width="3.4" stroke-linecap="butt"/>
<line x1="1488.8" y1="989.6" x2="1488.8" y2="996.0" stroke="#000" stroke-width="3.4" stroke-linecap="butt"/>
<line x1="1503.6" y1="989.6" x2="1503.6" y2="996.0" stroke="#000" stroke-width="3.4" stroke-linecap="butt"/>
<line x1="1515.7" y1="989.6" x2="1515.7" y2="996.0" stroke="#000" stroke-width="3.4" stroke-linecap="butt"/>
<line x1="1526.0" y1="989.6" x2="1526.0" y2="996.0" stroke="#000" stroke-width="3.4" stroke-linecap="butt"/>
<line x1="1534.9" y1="989.6" x2="1534.9" y2="996.0" stroke="#000" stroke-width="3.4" stroke-linecap="butt"/>
<line x1="1542.7" y1="989.6" x2="1542.7" y2="996.0" stroke="#000" stroke-width="3.4" stroke-linecap="butt"/>
<line x1="1549.7" y1="989.6" x2="1549.7" y2="1001.5" stroke="#000" stroke-width="4.2" stroke-linecap="butt"/>
<line x1="1595.8" y1="989.6" x2="1595.8" y2="996.0" stroke="#000" stroke-width="3.4" stroke-linecap="butt"/>
<line x1="1622.7" y1="989.6" x2="1622.7" y2="996.0" stroke="#000" stroke-width="3.4" stroke-linecap="butt"/>
<line x1="1641.8" y1="989.6" x2="1641.8" y2="996.0" stroke="#000" stroke-width="3.4" stroke-linecap="butt"/>
<line x1="1656.7" y1="989.6" x2="1656.7" y2="996.0" stroke="#000" stroke-width="3.4" stroke-linecap="butt"/>
<line x1="1668.8" y1="989.6" x2="1668.8" y2="996.0" stroke="#000" stroke-width="3.4" stroke-linecap="butt"/>
<line x1="1679.0" y1="989.6" x2="1679.0" y2="996.0" stroke="#000" stroke-width="3.4" stroke-linecap="butt"/>
<line x1="1687.9" y1="989.6" x2="1687.9" y2="996.0" stroke="#000" stroke-width="3.4" stroke-linecap="butt"/>
<line x1="1695.7" y1="989.6" x2="1695.7" y2="996.0" stroke="#000" stroke-width="3.4" stroke-linecap="butt"/>
<line x1="1702.7" y1="989.6" x2="1702.7" y2="1001.5" stroke="#000" stroke-width="4.2" stroke-linecap="butt"/>
<text x="1005.7" y="649.2" font-family='"DejaVu Sans","Liberation Sans",sans-serif' font-size="34.5" textLength="54.8" lengthAdjust="spacingAndGlyphs" fill="#000" stroke="#fff" stroke-width="0.4">1.0</text>
<text x="1004.6" y="791.2" font-family='"DejaVu Sans","Liberation Sans",sans-serif' font-size="34.5" textLength="56.1" lengthAdjust="spacingAndGlyphs" fill="#000" stroke="#fff" stroke-width="0.4">0.5</text>
<text x="1004.6" y="933.2" font-family='"DejaVu Sans","Liberation Sans",sans-serif' font-size="34.5" textLength="56.0" lengthAdjust="spacingAndGlyphs" fill="#000" stroke="#fff" stroke-width="0.4">0.0</text>
<text x="1038.9" y="1050.3" font-family='"DejaVu Sans","Liberation Sans",sans-serif' font-size="34.5" textLength="98.9" lengthAdjust="spacingAndGlyphs" fill="#000" stroke="#fff" stroke-width="0.4">0.001</text>
<text x="1203.5" y="1050.3" font-family='"DejaVu Sans","Liberation Sans",sans-serif' font-size="34.5" textLength="76.5" lengthAdjust="spacingAndGlyphs" fill="#000" stroke="#fff" stroke-width="0.4">0.01</text>
<text x="1368.0" y="1050.3" font-family='"DejaVu Sans","Liberation Sans",sans-serif' font-size="34.5" textLength="51.6" lengthAdjust="spacingAndGlyphs" fill="#000" stroke="#fff" stroke-width="0.4">0.1</text>
<text x="1538.4" y="1050.3" font-family='"DejaVu Sans","Liberation Sans",sans-serif' font-size="34.5" textLength="16.5" lengthAdjust="spacingAndGlyphs" fill="#000" stroke="#fff" stroke-width="0.4">1</text>
<text x="1680.4" y="1050.3" font-family='"DejaVu Sans","Liberation Sans",sans-serif' font-size="34.5" textLength="44.1" lengthAdjust="spacingAndGlyphs" fill="#000" stroke="#fff" stroke-width="0.4">10</text>
<text x="1328.1" y="1095.7" font-family='"DejaVu Sans","Liberation Sans",sans-serif' font-size="34" textLength="134.7" lengthAdjust="spacingAndGlyphs" fill="#000" stroke="#fff" stroke-width="0.4">Time (s)</text>
<text transform="translate(968.5 815.7) rotate(-90)" font-family='"DejaVu Sans","Liberation Sans",sans-serif' font-size="37.00" font-weight="normal" textLength="40.0" lengthAdjust="spacingAndGlyphs" fill="#000" stroke="#fff" stroke-width="0.4">I/I</text>
<text transform="translate(980.6 778.7) rotate(-90)" font-family='"DejaVu Sans","Liberation Sans",sans-serif' font-size="24.70" font-weight="normal" textLength="47.4" lengthAdjust="spacingAndGlyphs" fill="#000" stroke="#fff" stroke-width="0.4">max</text>
<circle cx="1143.0" cy="586.6" r="12.4" fill="#0d0d0d" stroke="none" stroke-width="0"/>
<rect x="1130.7" y="618.8" width="24.6" height="24.6" fill="#c4060e" stroke="none" stroke-width="0"/>
<text x="1197.0" y="597.7" font-family='"DejaVu Sans","Liberation Sans",sans-serif' font-size="33.5" textLength="280.8" lengthAdjust="spacingAndGlyphs" fill="#000" stroke="#fff" stroke-width="0.4">Nav1.4 - Control</text>
<text x="1197.1" y="642.4" font-family='"DejaVu Sans","Liberation Sans",sans-serif' font-size="33.5" textLength="227.2" lengthAdjust="spacingAndGlyphs" fill="#000" stroke="#fff" stroke-width="0.4">Nav1.4 - CBD</text>
<line x1="1136.7" y1="774.0" x2="1136.7" y2="805.0" stroke="#999" stroke-width="1" stroke-linecap="butt"/>
<line x1="1132.7" y1="774.0" x2="1140.7" y2="774.0" stroke="#999" stroke-width="1" stroke-linecap="butt"/>
<line x1="1132.7" y1="805.0" x2="1140.7" y2="805.0" stroke="#999" stroke-width="1" stroke-linecap="butt"/>
<line x1="1182.7" y1="732.0" x2="1182.7" y2="776.0" stroke="#999" stroke-width="1" stroke-linecap="butt"/>
<line x1="1178.7" y1="732.0" x2="1186.7" y2="732.0" stroke="#999" stroke-width="1" stroke-linecap="butt"/>
<line x1="1178.7" y1="776.0" x2="1186.7" y2="776.0" stroke="#999" stroke-width="1" stroke-linecap="butt"/>
<line x1="1228.8" y1="731.0" x2="1228.8" y2="760.0" stroke="#999" stroke-width="1" stroke-linecap="butt"/>
<line x1="1224.8" y1="731.0" x2="1232.8" y2="731.0" stroke="#999" stroke-width="1" stroke-linecap="butt"/>
<line x1="1224.8" y1="760.0" x2="1232.8" y2="760.0" stroke="#999" stroke-width="1" stroke-linecap="butt"/>
<line x1="1136.7" y1="850.0" x2="1136.7" y2="880.0" stroke="#d99" stroke-width="1" stroke-linecap="butt"/>
<line x1="1132.7" y1="850.0" x2="1140.7" y2="850.0" stroke="#d99" stroke-width="1" stroke-linecap="butt"/>
<line x1="1132.7" y1="880.0" x2="1140.7" y2="880.0" stroke="#d99" stroke-width="1" stroke-linecap="butt"/>
<line x1="1182.7" y1="828.0" x2="1182.7" y2="868.0" stroke="#d99" stroke-width="1" stroke-linecap="butt"/>
<line x1="1178.7" y1="828.0" x2="1186.7" y2="828.0" stroke="#d99" stroke-width="1" stroke-linecap="butt"/>
<line x1="1178.7" y1="868.0" x2="1186.7" y2="868.0" stroke="#d99" stroke-width="1" stroke-linecap="butt"/>
<line x1="1228.8" y1="817.0" x2="1228.8" y2="861.0" stroke="#d99" stroke-width="1" stroke-linecap="butt"/>
<line x1="1224.8" y1="817.0" x2="1232.8" y2="817.0" stroke="#d99" stroke-width="1" stroke-linecap="butt"/>
<line x1="1224.8" y1="861.0" x2="1232.8" y2="861.0" stroke="#d99" stroke-width="1" stroke-linecap="butt"/>
<line x1="1274.9" y1="808.0" x2="1274.9" y2="845.0" stroke="#d99" stroke-width="1" stroke-linecap="butt"/>
<line x1="1270.9" y1="808.0" x2="1278.9" y2="808.0" stroke="#d99" stroke-width="1" stroke-linecap="butt"/>
<line x1="1270.9" y1="845.0" x2="1278.9" y2="845.0" stroke="#d99" stroke-width="1" stroke-linecap="butt"/>
<line x1="1320.9" y1="802.0" x2="1320.9" y2="836.0" stroke="#d99" stroke-width="1" stroke-linecap="butt"/>
<line x1="1316.9" y1="802.0" x2="1324.9" y2="802.0" stroke="#d99" stroke-width="1" stroke-linecap="butt"/>
<line x1="1316.9" y1="836.0" x2="1324.9" y2="836.0" stroke="#d99" stroke-width="1" stroke-linecap="butt"/>
<line x1="1367.0" y1="798.0" x2="1367.0" y2="823.0" stroke="#d99" stroke-width="1" stroke-linecap="butt"/>
<line x1="1363.0" y1="798.0" x2="1371.0" y2="798.0" stroke="#d99" stroke-width="1" stroke-linecap="butt"/>
<line x1="1363.0" y1="823.0" x2="1371.0" y2="823.0" stroke="#d99" stroke-width="1" stroke-linecap="butt"/>
<line x1="1413.1" y1="777.0" x2="1413.1" y2="797.0" stroke="#d99" stroke-width="1" stroke-linecap="butt"/>
<line x1="1409.1" y1="777.0" x2="1417.1" y2="777.0" stroke="#d99" stroke-width="1" stroke-linecap="butt"/>
<line x1="1409.1" y1="797.0" x2="1417.1" y2="797.0" stroke="#d99" stroke-width="1" stroke-linecap="butt"/>
<circle cx="1136.7" cy="788.6" r="9.5" fill="#0d0d0d" stroke="none" stroke-width="0"/>
<circle cx="1182.7" cy="753.8" r="9.5" fill="#0d0d0d" stroke="none" stroke-width="0"/>
<circle cx="1228.8" cy="745.9" r="9.5" fill="#0d0d0d" stroke="none" stroke-width="0"/>
<circle cx="1274.9" cy="739.1" r="9.5" fill="#0d0d0d" stroke="none" stroke-width="0"/>
<circle cx="1320.9" cy="737.7" r="9.5" fill="#0d0d0d" stroke="none" stroke-width="0"/>
<circle cx="1367.0" cy="718.8" r="9.5" fill="#0d0d0d" stroke="none" stroke-width="0"/>
<circle cx="1413.1" cy="701.7" r="9.5" fill="#0d0d0d" stroke="none" stroke-width="0"/>
<circle cx="1459.1" cy="681.1" r="9.5" fill="#0d0d0d" stroke="none" stroke-width="0"/>
<circle cx="1505.2" cy="670.9" r="9.5" fill="#0d0d0d" stroke="none" stroke-width="0"/>
<circle cx="1551.3" cy="653.0" r="9.5" fill="#0d0d0d" stroke="none" stroke-width="0"/>
<polyline points="1092.0,816.3 1097.1,812.8 1102.2,809.3 1107.2,805.6 1112.3,801.9 1117.4,798.1 1122.5,794.2 1127.6,790.3 1132.7,786.5 1137.7,782.6 1142.8,778.7 1147.9,774.9 1153.0,771.2 1158.1,767.6 1163.2,764.2 1168.2,760.9 1173.3,757.8 1178.4,754.9 1183.5,752.2 1188.6,749.7 1193.7,747.5 1198.7,745.5 1203.8,743.8 1208.9,742.3 1214.0,741.0 1219.1,739.8 1224.1,738.9 1229.2,738.1 1234.3,737.5 1239.4,737.0 1244.5,736.5 1249.6,736.1 1254.6,735.7 1259.7,735.4 1264.8,735.1 1269.9,734.7 1275.0,734.4 1280.1,734.1 1285.1,733.7 1290.2,733.3 1295.3,732.8 1300.4,732.4 1305.5,731.9 1310.5,731.4 1315.6,730.8 1320.7,730.2 1325.8,729.5 1330.9,728.8 1336.0,728.1 1341.0,727.3 1346.1,726.4 1351.2,725.5 1356.3,724.5 1361.4,723.4 1366.5,722.3 1371.5,721.1 1376.6,719.9 1381.7,718.5 1386.8,717.1 1391.9,715.6 1397.0,713.9 1402.0,712.3 1407.1,710.5 1412.2,708.6 1417.3,706.6 1422.4,704.5 1427.4,702.4 1432.5,700.1 1437.6,697.7 1442.7,695.3 1447.8,692.7 1452.9,690.1 1457.9,687.4 1463.0,684.7 1468.1,681.9 1473.2,679.1 1478.3,676.2 1483.4,673.3 1488.4,670.5 1493.5,667.6 1498.6,664.8 1503.7,662.1 1508.8,659.4 1513.8,656.8 1518.9,654.4 1524.0,652.1 1529.1,649.9 1534.2,647.9 1539.3,646.1 1544.3,644.5 1549.4,643.0 1554.5,641.8 1559.6,640.7 1564.7,639.7 1569.8,639.0 1574.8,638.4 1579.9,637.9 1585.0,637.5 1590.1,637.2 1595.2,637.0 1600.2,636.9 1605.3,636.8 1610.4,636.7 1615.5,636.7 1620.6,636.6 1625.7,636.6 1630.7,636.6 1635.8,636.6 1640.9,636.6 1646.0,636.6 1651.1,636.6 1656.2,636.6 1661.2,636.6 1666.3,636.6 1671.4,636.6 1676.5,636.6 1681.6,636.6 1686.7,636.6 1691.7,636.6 1696.8,636.6 1701.9,636.6" fill="none" stroke="#000" stroke-width="4.2" stroke-linejoin="round" stroke-linecap="butt"/>
<rect x="1127.2" y="855.0" width="19" height="19" fill="#c4060e" stroke="none" stroke-width="0"/>
<rect x="1173.2" y="838.4" width="19" height="19" fill="#c4060e" stroke="none" stroke-width="0"/>
<rect x="1219.3" y="829.5" width="19" height="19" fill="#c4060e" stroke="none" stroke-width="0"/>
<rect x="1265.4" y="816.8" width="19" height="19" fill="#c4060e" stroke="none" stroke-width="0"/>
<rect x="1311.4" y="809.5" width="19" height="19" fill="#c4060e" stroke="none" stroke-width="0"/>
<rect x="1357.5" y="801.0" width="19" height="19" fill="#c4060e" stroke="none" stroke-width="0"/>
<rect x="1403.6" y="777.7" width="19" height="19" fill="#c4060e" stroke="none" stroke-width="0"/>
<rect x="1449.6" y="752.2" width="19" height="19" fill="#c4060e" stroke="none" stroke-width="0"/>
<rect x="1495.7" y="713.2" width="19" height="19" fill="#c4060e" stroke="none" stroke-width="0"/>
<rect x="1541.8" y="682.2" width="19" height="19" fill="#c4060e" stroke="none" stroke-width="0"/>
<rect x="1587.8" y="654.5" width="19" height="19" fill="#c4060e" stroke="none" stroke-width="0"/>
<rect x="1633.9" y="627.7" width="19" height="19" fill="#c4060e" stroke="none" stroke-width="0"/>
<polyline points="1092.0,885.1 1097.1,882.9 1102.2,880.6 1107.2,878.3 1112.3,875.8 1117.4,873.3 1122.5,870.7 1127.6,868.0 1132.7,865.4 1137.7,862.6 1142.8,859.9 1147.9,857.1 1153.0,854.4 1158.1,851.6 1163.2,848.9 1168.2,846.3 1173.3,843.8 1178.4,841.3 1183.5,839.0 1188.6,836.7 1193.7,834.7 1198.7,832.7 1203.8,831.0 1208.9,829.4 1214.0,827.9 1219.1,826.7 1224.1,825.6 1229.2,824.6 1234.3,823.8 1239.4,823.0 1244.5,822.4 1249.6,821.9 1254.6,821.4 1259.7,821.0 1264.8,820.6 1269.9,820.2 1275.0,819.9 1280.1,819.5 1285.1,819.1 1290.2,818.7 1295.3,818.3 1300.4,817.9 1305.5,817.4 1310.5,816.9 1315.6,816.3 1320.7,815.7 1325.8,815.0 1330.9,814.3 1336.0,813.6 1341.0,812.8 1346.1,811.9 1351.2,811.0 1356.3,810.0 1361.4,808.9 1366.5,807.8 1371.5,806.6 1376.6,805.2 1381.7,803.8 1386.8,802.3 1391.9,800.7 1397.0,799.0 1402.0,797.1 1407.1,795.2 1412.2,793.1 1417.3,790.9 1422.4,788.5 1427.4,786.0 1432.5,783.3 1437.6,780.5 1442.7,777.5 1447.8,774.3 1452.9,771.0 1457.9,767.5 1463.0,763.8 1468.1,759.9 1473.2,755.9 1478.3,751.7 1483.4,747.3 1488.4,742.8 1493.5,738.1 1498.6,733.3 1503.7,728.3 1508.8,723.2 1513.8,718.1 1518.9,712.9 1524.0,707.6 1529.1,702.3 1534.2,697.1 1539.3,691.9 1544.3,686.8 1549.4,681.8 1554.5,676.9 1559.6,672.3 1564.7,667.9 1569.8,663.8 1574.8,659.9 1579.9,656.3 1585.0,653.1 1590.1,650.2 1595.2,647.6 1600.2,645.4 1605.3,643.5 1610.4,641.9 1615.5,640.6 1620.6,639.6 1625.7,638.7 1630.7,638.1 1635.8,637.6 1640.9,637.3 1646.0,637.0 1651.1,636.9 1656.2,636.8 1661.2,636.7 1666.3,636.6 1671.4,636.6 1676.5,636.6 1681.6,636.6 1686.7,636.6 1691.7,636.6 1696.8,636.6 1701.9,636.6" fill="none" stroke="#c4060e" stroke-width="3.8" stroke-linejoin="round" stroke-linecap="butt"/>
<polyline points="1307.7,966.4 1351.2,966.4 1351.2,877.7 1449.7,877.7 1449.7,965.4 1490.0,965.4" fill="none" stroke="#000" stroke-width="5.4" stroke-linejoin="miter" stroke-linecap="butt"/>
<polyline points="1505.0,965.4 1537.3,965.4 1537.3,877.7 1584.2,877.7 1584.2,966.4 1628.2,966.4" fill="none" stroke="#000" stroke-width="5.4" stroke-linejoin="miter" stroke-linecap="butt"/>
<line x1="1465.5" y1="974.5" x2="1501.5" y2="956.5" stroke="#000" stroke-width="5.5" stroke-linecap="butt"/>
<line x1="1479.5" y1="977.0" x2="1515.0" y2="958.5" stroke="#000" stroke-width="5.5" stroke-linecap="butt"/>
<text x="1197.7" y="952.7" font-family='"Liberation Sans",sans-serif' font-size="33.98" font-weight="bold" textLength="134.6" lengthAdjust="spacingAndGlyphs" fill="#000">-130 mV</text>
<text x="1344.1" y="865.3" font-family='"Liberation Sans",sans-serif' font-size="33.98" font-weight="bold" textLength="116.5" lengthAdjust="spacingAndGlyphs" fill="#000">500 ms</text>
<text x="1524.0" y="865.3" font-family='"Liberation Sans",sans-serif' font-size="34.47" font-weight="bold" textLength="76.1" lengthAdjust="spacingAndGlyphs" fill="#000">5 ms</text>
<text x="6.4" y="1141.5" font-family='"Liberation Sans",sans-serif' font-size="43.9" font-weight="bold" textLength="27.3" lengthAdjust="spacingAndGlyphs" fill="#000">E</text>
<line x1="134.0" y1="1149.2" x2="134.0" y2="1562.8" stroke="#000" stroke-width="4.6" stroke-linecap="butt"/>
<line x1="131.7" y1="1560.6" x2="769.6" y2="1560.6" stroke="#000" stroke-width="4.6" stroke-linecap="butt"/>
<line x1="767.3" y1="1149.2" x2="767.3" y2="1562.8" stroke="#000" stroke-width="4.6" stroke-linecap="butt"/>
<line x1="123.2" y1="1151.3" x2="134.0" y2="1151.3" stroke="#000" stroke-width="4.4" stroke-linecap="butt"/>
<line x1="123.2" y1="1548.0" x2="134.0" y2="1548.0" stroke="#000" stroke-width="4.4" stroke-linecap="butt"/>
<line x1="128.0" y1="1428.6" x2="134.0" y2="1428.6" stroke="#000" stroke-width="3.4" stroke-linecap="butt"/>
<line x1="128.0" y1="1358.7" x2="134.0" y2="1358.7" stroke="#000" stroke-width="3.4" stroke-linecap="butt"/>
<line x1="128.0" y1="1309.2" x2="134.0" y2="1309.2" stroke="#000" stroke-width="3.4" stroke-linecap="butt"/>
<line x1="128.0" y1="1270.7" x2="134.0" y2="1270.7" stroke="#000" stroke-width="3.4" stroke-linecap="butt"/>
<line x1="128.0" y1="1239.3" x2="134.0" y2="1239.3" stroke="#000" stroke-width="3.4" stroke-linecap="butt"/>
<line x1="128.0" y1="1212.7" x2="134.0" y2="1212.7" stroke="#000" stroke-width="3.4" stroke-linecap="butt"/>
<line x1="128.0" y1="1189.7" x2="134.0" y2="1189.7" stroke="#000" stroke-width="3.4" stroke-linecap="butt"/>
<line x1="128.0" y1="1169.5" x2="134.0" y2="1169.5" stroke="#000" stroke-width="3.4" stroke-linecap="butt"/>
<text x="87.8" y="1163.9" font-family='"DejaVu Sans","Liberation Sans",sans-serif' font-size="34.5" textLength="17.4" lengthAdjust="spacingAndGlyphs" fill="#000" stroke="#fff" stroke-width="0.4">1</text>
<text x="53.2" y="1560.6" font-family='"DejaVu Sans","Liberation Sans",sans-serif' font-size="34.5" textLength="52.5" lengthAdjust="spacingAndGlyphs" fill="#000" stroke="#fff" stroke-width="0.4">0.1</text>
<text x="111.0" y="1248.3" font-family='"DejaVu Sans","Liberation Sans",sans-serif' font-size="24.5" textLength="13.9" lengthAdjust="spacingAndGlyphs" fill="#000" stroke="#fff" stroke-width="0.4">6</text>
<text x="110.7" y="1279.7" font-family='"DejaVu Sans","Liberation Sans",sans-serif' font-size="24.5" textLength="14.8" lengthAdjust="spacingAndGlyphs" fill="#000" stroke="#fff" stroke-width="0.4">5</text>
<text x="111.5" y="1318.2" font-family='"DejaVu Sans","Liberation Sans",sans-serif' font-size="24.5" textLength="13.1" lengthAdjust="spacingAndGlyphs" fill="#000" stroke="#fff" stroke-width="0.4">4</text>
<text x="110.8" y="1367.7" font-family='"DejaVu Sans","Liberation Sans",sans-serif' font-size="24.5" textLength="14.5" lengthAdjust="spacingAndGlyphs" fill="#000" stroke="#fff" stroke-width="0.4">3</text>
<text x="110.8" y="1437.6" font-family='"DejaVu Sans","Liberation Sans",sans-serif' font-size="24.5" textLength="15.1" lengthAdjust="spacingAndGlyphs" fill="#000" stroke="#fff" stroke-width="0.4">2</text>
<line x1="767.3" y1="1547.7" x2="778.8" y2="1547.7" stroke="#000" stroke-width="4.4" stroke-linecap="butt"/>
<text x="785.5" y="1560.3" font-family='"DejaVu Sans","Liberation Sans",sans-serif' font-size="34.5" textLength="57.4" lengthAdjust="spacingAndGlyphs" fill="#000" stroke="#fff" stroke-width="0.4">0.0</text>
<line x1="767.3" y1="1468.4" x2="778.8" y2="1468.4" stroke="#000" stroke-width="4.4" stroke-linecap="butt"/>
<text x="785.4" y="1481.0" font-family='"DejaVu Sans","Liberation Sans",sans-serif' font-size="34.5" textLength="58.7" lengthAdjust="spacingAndGlyphs" fill="#000" stroke="#fff" stroke-width="0.4">0.2</text>
<line x1="767.3" y1="1389.1" x2="778.8" y2="1389.1" stroke="#000" stroke-width="4.4" stroke-linecap="butt"/>
<text x="785.5" y="1401.7" font-family='"DejaVu Sans","Liberation Sans",sans-serif' font-size="34.5" textLength="57.0" lengthAdjust="spacingAndGlyphs" fill="#000" stroke="#fff" stroke-width="0.4">0.4</text>
<line x1="767.3" y1="1309.9" x2="778.8" y2="1309.9" stroke="#000" stroke-width="4.4" stroke-linecap="butt"/>
<text x="785.5" y="1322.5" font-family='"DejaVu Sans","Liberation Sans",sans-serif' font-size="34.5" textLength="57.3" lengthAdjust="spacingAndGlyphs" fill="#000" stroke="#fff" stroke-width="0.4">0.6</text>
<line x1="767.3" y1="1230.6" x2="778.8" y2="1230.6" stroke="#000" stroke-width="4.4" stroke-linecap="butt"/>
<text x="785.4" y="1243.2" font-family='"DejaVu Sans","Liberation Sans",sans-serif' font-size="34.5" textLength="57.5" lengthAdjust="spacingAndGlyphs" fill="#000" stroke="#fff" stroke-width="0.4">0.8</text>
<line x1="767.3" y1="1151.3" x2="778.8" y2="1151.3" stroke="#000" stroke-width="4.4" stroke-linecap="butt"/>
<text x="786.6" y="1163.9" font-family='"DejaVu Sans","Liberation Sans",sans-serif' font-size="34.5" textLength="56.2" lengthAdjust="spacingAndGlyphs" fill="#000" stroke="#fff" stroke-width="0.4">1.0</text>
<text transform="translate(40.6 1387.9) rotate(-90)" font-family='"DejaVu Sans","Liberation Sans",sans-serif' font-size="37.00" font-weight="normal" textLength="114.5" lengthAdjust="spacingAndGlyphs" fill="#000" stroke="#fff" stroke-width="0.4">Tau (s)</text>
<text transform="translate(870.7 1217.9) rotate(90)" font-family='"DejaVu Sans","Liberation Sans",sans-serif' font-size="36.50" font-weight="normal" textLength="210.3" lengthAdjust="spacingAndGlyphs" fill="#000" stroke="#fff" stroke-width="0.4">Fraction Tau</text>
<text transform="translate(859.0 1428.2) rotate(90)" font-family='"DejaVu Sans","Liberation Sans",sans-serif' font-size="26.00" font-weight="normal" textLength="54.4" lengthAdjust="spacingAndGlyphs" fill="#000" stroke="#fff" stroke-width="0.4">Slow</text>
<text x="209.4" y="1627.5" font-family='"DejaVu Sans","Liberation Sans",sans-serif' font-size="34" textLength="483.5" lengthAdjust="spacingAndGlyphs" fill="#000" stroke="#fff" stroke-width="0.4">Time Constants From Panel d</text>
<line x1="450.3" y1="1157.9" x2="450.3" y2="1553.0" stroke="#111" stroke-width="2.6" stroke-linecap="butt" stroke-dasharray="10.5 6.6"/>
<line x1="205.4" y1="1378.0" x2="205.4" y2="1450.3" stroke="#111" stroke-width="1.4" stroke-linecap="butt"/>
<line x1="200.7" y1="1378.0" x2="210.1" y2="1378.0" stroke="#111" stroke-width="1.4" stroke-linecap="butt"/>
<line x1="200.7" y1="1450.3" x2="210.1" y2="1450.3" stroke="#111" stroke-width="1.4" stroke-linecap="butt"/>
<circle cx="205.4" cy="1410.8" r="9.5" fill="#0d0d0d" stroke="none" stroke-width="0"/>
<line x1="349.4" y1="1204.8" x2="349.4" y2="1233.8" stroke="#c4060e" stroke-width="1.4" stroke-linecap="butt"/>
<line x1="344.7" y1="1204.8" x2="354.1" y2="1204.8" stroke="#c4060e" stroke-width="1.4" stroke-linecap="butt"/>
<line x1="344.7" y1="1233.8" x2="354.1" y2="1233.8" stroke="#c4060e" stroke-width="1.4" stroke-linecap="butt"/>
<rect x="339.9" y="1209.8" width="19" height="19" fill="#c4060e" stroke="none" stroke-width="0"/>
<circle cx="552.2" cy="1398.4" r="9.2" fill="none" stroke="#222" stroke-width="1.3"/>
<line x1="552.2" y1="1389.0" x2="552.2" y2="1408.0" stroke="#222" stroke-width="1.3" stroke-linecap="butt"/>
<rect x="676.4" y="1274.8" width="19" height="19" fill="none" stroke="#c4304a" stroke-width="1.3"/>
<line x1="685.9" y1="1275.0" x2="685.9" y2="1294.0" stroke="#c4304a" stroke-width="1.3" stroke-linecap="butt"/>
<circle cx="181.7" cy="1489.3" r="9.5" fill="#0d0d0d" stroke="none" stroke-width="0"/>
<rect x="173.5" y="1524.5" width="19" height="19" fill="#c4060e" stroke="none" stroke-width="0"/>
<text x="214.1" y="1501.6" font-family='"DejaVu Sans","Liberation Sans",sans-serif' font-size="33" textLength="118.0" lengthAdjust="spacingAndGlyphs" fill="#000" stroke="#fff" stroke-width="0.4">Control</text>
<text x="341.8" y="1501.6" font-family='"DejaVu Sans","Liberation Sans",sans-serif' font-size="33" font-weight="bold" textLength="17.0" lengthAdjust="spacingAndGlyphs" fill="#000">τ</text>
<text x="358.0" y="1508.5" font-family='"DejaVu Sans","Liberation Sans",sans-serif' font-size="20" textLength="51.0" lengthAdjust="spacingAndGlyphs" fill="#000" stroke="#fff" stroke-width="0.4">Slow</text>
<text x="214.2" y="1545.3" font-family='"DejaVu Sans","Liberation Sans",sans-serif' font-size="33" textLength="65.9" lengthAdjust="spacingAndGlyphs" fill="#000" stroke="#fff" stroke-width="0.4">CBD</text>
<text x="290.4" y="1545.3" font-family='"DejaVu Sans","Liberation Sans",sans-serif' font-size="33" font-weight="bold" textLength="17.0" lengthAdjust="spacingAndGlyphs" fill="#000">τ</text>
<text x="306.6" y="1551.7" font-family='"DejaVu Sans","Liberation Sans",sans-serif' font-size="20" textLength="51.1" lengthAdjust="spacingAndGlyphs" fill="#000" stroke="#fff" stroke-width="0.4">Slow</text>
<circle cx="471.9" cy="1488.7" r="9.2" fill="none" stroke="#222" stroke-width="1.3"/>
<rect x="462.4" y="1524.0" width="19" height="19" fill="none" stroke="#c4304a" stroke-width="1.3"/>
<text x="497.2" y="1501.1" font-family='"DejaVu Sans","Liberation Sans",sans-serif' font-size="33" textLength="257.2" lengthAdjust="spacingAndGlyphs" fill="#000" stroke="#fff" stroke-width="0.4">Control Fraction</text>
<text x="497.3" y="1545.3" font-family='"DejaVu Sans","Liberation Sans",sans-serif' font-size="33" textLength="205.0" lengthAdjust="spacingAndGlyphs" fill="#000" stroke="#fff" stroke-width="0.4">CBD Fraction</text>
<text x="931.8" y="1141.5" font-family='"Liberation Sans",sans-serif' font-size="43.9" font-weight="bold" textLength="24.4" lengthAdjust="spacingAndGlyphs" fill="#000">F</text>
<line x1="1078.5" y1="1146.1" x2="1078.5" y2="1556.6" stroke="#000" stroke-width="4.4" stroke-linecap="butt"/>
<line x1="1076.3" y1="1554.3" x2="1699.5" y2="1554.3" stroke="#000" stroke-width="4.4" stroke-linecap="butt"/>
<line x1="1067.5" y1="1202.2" x2="1078.5" y2="1202.2" stroke="#000" stroke-width="4.2" stroke-linecap="butt"/>
<line x1="1067.5" y1="1343.7" x2="1078.5" y2="1343.7" stroke="#000" stroke-width="4.2" stroke-linecap="butt"/>
<line x1="1067.5" y1="1485.3" x2="1078.5" y2="1485.3" stroke="#000" stroke-width="4.2" stroke-linecap="butt"/>
<line x1="1090.6" y1="1554.3" x2="1090.6" y2="1566.2" stroke="#000" stroke-width="4.2" stroke-linecap="butt"/>
<line x1="1187.9" y1="1554.3" x2="1187.9" y2="1566.2" stroke="#000" stroke-width="4.2" stroke-linecap="butt"/>
<line x1="1285.2" y1="1554.3" x2="1285.2" y2="1566.2" stroke="#000" stroke-width="4.2" stroke-linecap="butt"/>
<line x1="1382.4" y1="1554.3" x2="1382.4" y2="1566.2" stroke="#000" stroke-width="4.2" stroke-linecap="butt"/>
<line x1="1479.7" y1="1554.3" x2="1479.7" y2="1566.2" stroke="#000" stroke-width="4.2" stroke-linecap="butt"/>
<line x1="1577.0" y1="1554.3" x2="1577.0" y2="1566.2" stroke="#000" stroke-width="4.2" stroke-linecap="butt"/>
<line x1="1674.3" y1="1554.3" x2="1674.3" y2="1566.2" stroke="#000" stroke-width="4.2" stroke-linecap="butt"/>
<text x="1005.7" y="1214.8" font-family='"DejaVu Sans","Liberation Sans",sans-serif' font-size="34.5" textLength="54.8" lengthAdjust="spacingAndGlyphs" fill="#000" stroke="#fff" stroke-width="0.4">1.0</text>
<text x="1004.6" y="1356.3" font-family='"DejaVu Sans","Liberation Sans",sans-serif' font-size="34.5" textLength="56.1" lengthAdjust="spacingAndGlyphs" fill="#000" stroke="#fff" stroke-width="0.4">0.5</text>
<text x="1004.6" y="1497.9" font-family='"DejaVu Sans","Liberation Sans",sans-serif' font-size="34.5" textLength="56.0" lengthAdjust="spacingAndGlyphs" fill="#000" stroke="#fff" stroke-width="0.4">0.0</text>
<text x="1078.2" y="1607.5" font-family='"DejaVu Sans","Liberation Sans",sans-serif' font-size="34.5" textLength="24.9" lengthAdjust="spacingAndGlyphs" fill="#000" stroke="#fff" stroke-width="0.4">0</text>
<text x="1175.6" y="1607.5" font-family='"DejaVu Sans","Liberation Sans",sans-serif' font-size="34.5" textLength="25.6" lengthAdjust="spacingAndGlyphs" fill="#000" stroke="#fff" stroke-width="0.4">2</text>
<text x="1273.5" y="1607.5" font-family='"DejaVu Sans","Liberation Sans",sans-serif' font-size="34.5" textLength="23.7" lengthAdjust="spacingAndGlyphs" fill="#000" stroke="#fff" stroke-width="0.4">4</text>
<text x="1370.3" y="1607.5" font-family='"DejaVu Sans","Liberation Sans",sans-serif' font-size="34.5" textLength="24.1" lengthAdjust="spacingAndGlyphs" fill="#000" stroke="#fff" stroke-width="0.4">6</text>
<text x="1467.5" y="1607.5" font-family='"DejaVu Sans","Liberation Sans",sans-serif' font-size="34.5" textLength="24.4" lengthAdjust="spacingAndGlyphs" fill="#000" stroke="#fff" stroke-width="0.4">8</text>
<text x="1554.8" y="1607.5" font-family='"DejaVu Sans","Liberation Sans",sans-serif' font-size="34.5" textLength="45.8" lengthAdjust="spacingAndGlyphs" fill="#000" stroke="#fff" stroke-width="0.4">10</text>
<text x="1652.7" y="1607.5" font-family='"DejaVu Sans","Liberation Sans",sans-serif' font-size="34.5" textLength="45.6" lengthAdjust="spacingAndGlyphs" fill="#000" stroke="#fff" stroke-width="0.4">12</text>
<text x="1328.1" y="1651.2" font-family='"DejaVu Sans","Liberation Sans",sans-serif' font-size="34" textLength="133.1" lengthAdjust="spacingAndGlyphs" fill="#000" stroke="#fff" stroke-width="0.4">Time (s)</text>
<text transform="translate(968.5 1393.8) rotate(-90)" font-family='"DejaVu Sans","Liberation Sans",sans-serif' font-size="37.00" font-weight="normal" textLength="40.0" lengthAdjust="spacingAndGlyphs" fill="#000" stroke="#fff" stroke-width="0.4">I/I</text>
<text transform="translate(980.6 1357.4) rotate(-90)" font-family='"DejaVu Sans","Liberation Sans",sans-serif' font-size="24.70" font-weight="normal" textLength="47.5" lengthAdjust="spacingAndGlyphs" fill="#000" stroke="#fff" stroke-width="0.4">max</text>
<circle cx="1402.5" cy="1159.8" r="12.4" fill="#0d0d0d" stroke="none" stroke-width="0"/>
<rect x="1390.2" y="1191.7" width="24.6" height="24.6" fill="#c4060e" stroke="none" stroke-width="0"/>
<text x="1455.7" y="1171.1" font-family='"DejaVu Sans","Liberation Sans",sans-serif' font-size="33.5" textLength="280.9" lengthAdjust="spacingAndGlyphs" fill="#000" stroke="#fff" stroke-width="0.4">Nav1.4 - Control</text>
<text x="1455.8" y="1215.8" font-family='"DejaVu Sans","Liberation Sans",sans-serif' font-size="33.5" textLength="227.6" lengthAdjust="spacingAndGlyphs" fill="#000" stroke="#fff" stroke-width="0.4">Nav1.4 - CBD</text>
<path d="M1090.6 1207.9V1230.2M1087.6 1207.9h6M1087.6 1230.2h6M1091.2 1212.8V1233.4M1088.2 1212.8h6M1088.2 1233.4h6M1091.8 1212.7V1240.5M1088.8 1212.7h6M1088.8 1240.5h6M1092.4 1220.5V1240.6M1089.4 1220.5h6M1089.4 1240.6h6M1093.0 1220.4V1245.9M1090.0 1220.4h6M1090.0 1245.9h6M1093.6 1221.7V1251.1M1090.6 1221.7h6M1090.6 1251.1h6M1094.2 1229.2V1250.6M1091.2 1229.2h6M1091.2 1250.6h6M1094.9 1230.4V1252.4M1091.9 1230.4h6M1091.9 1252.4h6M1095.5 1232.1V1258.2M1092.5 1232.1h6M1092.5 1258.2h6M1096.1 1233.7V1258.8M1093.1 1233.7h6M1093.1 1258.8h6M1096.7 1236.4V1262.8M1093.7 1236.4h6M1093.7 1262.8h6M1097.3 1237.5V1265.7M1094.3 1237.5h6M1094.3 1265.7h6M1097.9 1241.2V1262.9M1094.9 1241.2h6M1094.9 1262.9h6M1098.5 1240.2V1263.3M1095.5 1240.2h6M1095.5 1263.3h6M1099.1 1244.8V1267.8M1096.1 1244.8h6M1096.1 1267.8h6M1099.7 1243.6V1264.1M1096.7 1243.6h6M1096.7 1264.1h6M1100.3 1243.8V1272.7M1097.3 1243.8h6M1097.3 1272.7h6M1100.9 1247.8V1275.6M1097.9 1247.8h6M1097.9 1275.6h6M1101.5 1247.8V1274.9M1098.5 1247.8h6M1098.5 1274.9h6M1102.2 1253.7V1273.7M1099.2 1253.7h6M1099.2 1273.7h6M1102.8 1245.5V1273.9M1099.8 1245.5h6M1099.8 1273.9h6M1103.4 1248.6V1276.0M1100.4 1248.6h6M1100.4 1276.0h6M1104.0 1252.5V1277.1M1101.0 1252.5h6M1101.0 1277.1h6M1104.6 1254.6V1282.0M1101.6 1254.6h6M1101.6 1282.0h6M1105.2 1255.6V1280.2M1102.2 1255.6h6M1102.2 1280.2h6M1105.8 1255.5V1277.8M1102.8 1255.5h6M1102.8 1277.8h6M1106.4 1255.3V1276.3M1103.4 1255.3h6M1103.4 1276.3h6M1107.0 1258.1V1280.4M1104.0 1258.1h6M1104.0 1280.4h6M1107.6 1255.5V1275.9M1104.6 1255.5h6M1104.6 1275.9h6M1108.2 1255.8V1279.2M1105.2 1255.8h6M1105.2 1279.2h6M1108.8 1250.9V1278.4M1105.8 1250.9h6M1105.8 1278.4h6M1109.4 1258.2V1285.1M1106.4 1258.2h6M1106.4 1285.1h6M1110.1 1259.9V1288.4M1107.1 1259.9h6M1107.1 1288.4h6M1110.7 1253.4V1280.5M1107.7 1253.4h6M1107.7 1280.5h6M1111.3 1259.2V1281.9M1108.3 1259.2h6M1108.3 1281.9h6M1111.9 1255.8V1281.3M1108.9 1255.8h6M1108.9 1281.3h6M1112.5 1257.9V1282.3M1109.5 1257.9h6M1109.5 1282.3h6M1113.1 1259.9V1287.8M1110.1 1259.9h6M1110.1 1287.8h6M1113.7 1257.7V1282.9M1110.7 1257.7h6M1110.7 1282.9h6M1114.3 1261.2V1283.8M1111.3 1261.2h6M1111.3 1283.8h6M1114.9 1252.4V1278.8M1111.9 1252.4h6M1111.9 1278.8h6M1116.0 1255.3V1284.9M1113.0 1255.3h6M1113.0 1284.9h6M1117.2 1258.8V1281.0M1114.2 1258.8h6M1114.2 1281.0h6M1118.3 1251.5V1280.3M1115.3 1251.5h6M1115.3 1280.3h6M1119.4 1266.6V1286.7M1116.4 1266.6h6M1116.4 1286.7h6M1120.5 1259.9V1282.5M1117.5 1259.9h6M1117.5 1282.5h6M1121.7 1263.3V1285.7M1118.7 1263.3h6M1118.7 1285.7h6M1122.8 1266.0V1293.5M1119.8 1266.0h6M1119.8 1293.5h6M1123.9 1255.6V1285.1M1120.9 1255.6h6M1120.9 1285.1h6M1125.0 1264.4V1291.9M1122.0 1264.4h6M1122.0 1291.9h6M1126.1 1257.5V1280.7M1123.1 1257.5h6M1123.1 1280.7h6M1127.3 1261.0V1289.8M1124.3 1261.0h6M1124.3 1289.8h6M1128.4 1257.5V1280.8M1125.4 1257.5h6M1125.4 1280.8h6M1129.5 1258.3V1280.7M1126.5 1258.3h6M1126.5 1280.7h6M1130.6 1261.7V1290.8M1127.6 1261.7h6M1127.6 1290.8h6M1131.8 1256.2V1282.5M1128.8 1256.2h6M1128.8 1282.5h6M1132.9 1266.8V1293.7M1129.9 1266.8h6M1129.9 1293.7h6M1134.0 1265.8V1292.4M1131.0 1265.8h6M1131.0 1292.4h6M1135.1 1260.5V1290.3M1132.1 1260.5h6M1132.1 1290.3h6M1136.2 1266.4V1291.1M1133.2 1266.4h6M1133.2 1291.1h6M1137.4 1262.3V1290.7M1134.4 1262.3h6M1134.4 1290.7h6M1138.5 1260.8V1287.8M1135.5 1260.8h6M1135.5 1287.8h6M1139.6 1258.2V1286.8M1136.6 1258.2h6M1136.6 1286.8h6M1140.7 1261.4V1285.8M1137.7 1261.4h6M1137.7 1285.8h6M1141.9 1268.3V1295.5M1138.9 1268.3h6M1138.9 1295.5h6M1143.0 1258.4V1284.1M1140.0 1258.4h6M1140.0 1284.1h6M1144.1 1259.4V1282.5M1141.1 1259.4h6M1141.1 1282.5h6M1145.2 1265.8V1287.9M1142.2 1265.8h6M1142.2 1287.9h6M1146.3 1260.2V1286.5M1143.3 1260.2h6M1143.3 1286.5h6M1147.5 1271.3V1292.1M1144.5 1271.3h6M1144.5 1292.1h6M1148.6 1265.7V1294.8M1145.6 1265.7h6M1145.6 1294.8h6M1149.7 1271.1V1292.6M1146.7 1271.1h6M1146.7 1292.6h6M1150.8 1270.3V1290.5M1147.8 1270.3h6M1147.8 1290.5h6M1152.0 1266.7V1287.8M1149.0 1266.7h6M1149.0 1287.8h6M1153.1 1255.0V1284.3M1150.1 1255.0h6M1150.1 1284.3h6M1154.2 1268.6V1292.1M1151.2 1268.6h6M1151.2 1292.1h6M1155.3 1266.7V1288.1M1152.3 1266.7h6M1152.3 1288.1h6M1156.5 1270.5V1290.8M1153.5 1270.5h6M1153.5 1290.8h6M1157.6 1257.6V1278.0M1154.6 1257.6h6M1154.6 1278.0h6M1158.7 1261.8V1288.7M1155.7 1261.8h6M1155.7 1288.7h6M1159.8 1267.6V1294.0M1156.8 1267.6h6M1156.8 1294.0h6M1160.9 1264.9V1291.8M1157.9 1264.9h6M1157.9 1291.8h6M1162.1 1266.1V1293.5M1159.1 1266.1h6M1159.1 1293.5h6M1163.2 1257.8V1278.5M1160.2 1257.8h6M1160.2 1278.5h6M1164.3 1267.0V1292.9M1161.3 1267.0h6M1161.3 1292.9h6M1165.4 1269.8V1293.4M1162.4 1269.8h6M1162.4 1293.4h6M1166.6 1253.5V1281.6M1163.6 1253.5h6M1163.6 1281.6h6M1167.7 1257.5V1285.7M1164.7 1257.5h6M1164.7 1285.7h6M1168.8 1262.0V1290.9M1165.8 1262.0h6M1165.8 1290.9h6M1169.9 1260.1V1280.7M1166.9 1260.1h6M1166.9 1280.7h6M1171.0 1255.9V1284.6M1168.0 1255.9h6M1168.0 1284.6h6M1172.2 1263.8V1292.9M1169.2 1263.8h6M1169.2 1292.9h6M1173.3 1252.4V1281.8M1170.3 1252.4h6M1170.3 1281.8h6M1174.4 1259.1V1280.2M1171.4 1259.1h6M1171.4 1280.2h6M1175.5 1259.5V1281.6M1172.5 1259.5h6M1172.5 1281.6h6M1176.7 1263.2V1284.3M1173.7 1263.2h6M1173.7 1284.3h6M1177.8 1270.7V1291.1M1174.8 1270.7h6M1174.8 1291.1h6M1178.9 1262.9V1291.4M1175.9 1262.9h6M1175.9 1291.4h6M1180.0 1256.9V1285.1M1177.0 1256.9h6M1177.0 1285.1h6M1181.1 1261.4V1287.7M1178.1 1261.4h6M1178.1 1287.7h6M1182.3 1252.4V1280.7M1179.3 1252.4h6M1179.3 1280.7h6M1183.4 1262.5V1288.8M1180.4 1262.5h6M1180.4 1288.8h6M1184.5 1266.2V1289.1M1181.5 1266.2h6M1181.5 1289.1h6M1185.6 1267.4V1288.4M1182.6 1267.4h6M1182.6 1288.4h6M1186.8 1257.1V1278.1M1183.8 1257.1h6M1183.8 1278.1h6M1187.9 1260.0V1287.6M1184.9 1260.0h6M1184.9 1287.6h6M1189.0 1258.0V1280.0M1186.0 1258.0h6M1186.0 1280.0h6M1190.1 1259.4V1282.6M1187.1 1259.4h6M1187.1 1282.6h6M1191.2 1257.1V1281.3M1188.2 1257.1h6M1188.2 1281.3h6M1192.4 1263.5V1283.8M1189.4 1263.5h6M1189.4 1283.8h6M1193.5 1257.8V1280.3M1190.5 1257.8h6M1190.5 1280.3h6M1194.6 1257.4V1280.2M1191.6 1257.4h6M1191.6 1280.2h6M1195.7 1261.2V1288.4M1192.7 1261.2h6M1192.7 1288.4h6M1196.9 1254.8V1278.5M1193.9 1254.8h6M1193.9 1278.5h6M1198.0 1266.5V1289.7M1195.0 1266.5h6M1195.0 1289.7h6M1199.1 1263.5V1293.1M1196.1 1263.5h6M1196.1 1293.1h6M1200.2 1256.1V1281.2M1197.2 1256.1h6M1197.2 1281.2h6M1201.3 1254.1V1282.6M1198.3 1254.1h6M1198.3 1282.6h6M1202.5 1257.8V1283.9M1199.5 1257.8h6M1199.5 1283.9h6M1203.6 1262.3V1282.6M1200.6 1262.3h6M1200.6 1282.6h6M1204.7 1268.2V1292.4M1201.7 1268.2h6M1201.7 1292.4h6M1205.8 1258.8V1283.1M1202.8 1258.8h6M1202.8 1283.1h6M1207.0 1252.9V1280.7M1204.0 1252.9h6M1204.0 1280.7h6M1208.1 1256.0V1279.4M1205.1 1256.0h6M1205.1 1279.4h6M1209.2 1263.9V1291.0M1206.2 1263.9h6M1206.2 1291.0h6M1210.3 1263.6V1289.0M1207.3 1263.6h6M1207.3 1289.0h6M1211.5 1260.9V1283.1M1208.5 1260.9h6M1208.5 1283.1h6M1212.6 1260.1V1288.8M1209.6 1260.1h6M1209.6 1288.8h6M1213.7 1256.8V1277.7M1210.7 1256.8h6M1210.7 1277.7h6M1214.8 1259.8V1288.0M1211.8 1259.8h6M1211.8 1288.0h6M1215.9 1256.5V1278.3M1212.9 1256.5h6M1212.9 1278.3h6M1217.1 1257.2V1277.2M1214.1 1257.2h6M1214.1 1277.2h6M1218.2 1261.9V1284.0M1215.2 1261.9h6M1215.2 1284.0h6M1219.3 1266.7V1294.4M1216.3 1266.7h6M1216.3 1294.4h6M1220.4 1263.3V1293.1M1217.4 1263.3h6M1217.4 1293.1h6M1221.6 1259.1V1279.2M1218.6 1259.1h6M1218.6 1279.2h6M1222.7 1261.5V1286.4M1219.7 1261.5h6M1219.7 1286.4h6M1223.8 1260.3V1285.3M1220.8 1260.3h6M1220.8 1285.3h6M1224.9 1259.4V1287.4M1221.9 1259.4h6M1221.9 1287.4h6M1226.0 1258.6V1280.5M1223.0 1258.6h6M1223.0 1280.5h6M1227.2 1260.4V1285.4M1224.2 1260.4h6M1224.2 1285.4h6M1228.3 1265.4V1288.8M1225.3 1265.4h6M1225.3 1288.8h6M1229.4 1259.6V1287.9M1226.4 1259.6h6M1226.4 1287.9h6M1230.5 1258.8V1281.4M1227.5 1258.8h6M1227.5 1281.4h6M1231.7 1260.1V1289.5M1228.7 1260.1h6M1228.7 1289.5h6M1232.8 1262.5V1285.3M1229.8 1262.5h6M1229.8 1285.3h6M1233.9 1260.1V1282.3M1230.9 1260.1h6M1230.9 1282.3h6M1235.0 1260.1V1287.1M1232.0 1260.1h6M1232.0 1287.1h6M1236.1 1255.2V1280.1M1233.1 1255.2h6M1233.1 1280.1h6M1237.3 1258.1V1279.2M1234.3 1258.1h6M1234.3 1279.2h6M1238.4 1264.6V1291.0M1235.4 1264.6h6M1235.4 1291.0h6M1239.5 1257.4V1278.2M1236.5 1257.4h6M1236.5 1278.2h6M1240.6 1265.7V1293.6M1237.6 1265.7h6M1237.6 1293.6h6M1241.8 1261.7V1288.7M1238.8 1261.7h6M1238.8 1288.7h6M1242.9 1264.3V1292.2M1239.9 1264.3h6M1239.9 1292.2h6M1244.0 1258.8V1285.1M1241.0 1258.8h6M1241.0 1285.1h6M1245.1 1256.9V1280.4M1242.1 1256.9h6M1242.1 1280.4h6M1246.2 1259.3V1283.4M1243.2 1259.3h6M1243.2 1283.4h6M1247.4 1267.8V1291.8M1244.4 1267.8h6M1244.4 1291.8h6M1248.5 1253.3V1282.2M1245.5 1253.3h6M1245.5 1282.2h6M1249.6 1257.5V1278.4M1246.6 1257.5h6M1246.6 1278.4h6M1250.7 1260.4V1289.3M1247.7 1260.4h6M1247.7 1289.3h6M1251.9 1259.7V1279.9M1248.9 1259.7h6M1248.9 1279.9h6M1253.0 1264.7V1286.7M1250.0 1264.7h6M1250.0 1286.7h6M1254.1 1265.8V1288.4M1251.1 1265.8h6M1251.1 1288.4h6M1255.2 1262.9V1291.9M1252.2 1262.9h6M1252.2 1291.9h6M1256.4 1269.3V1294.3M1253.4 1269.3h6M1253.4 1294.3h6M1257.5 1263.8V1287.5M1254.5 1263.8h6M1254.5 1287.5h6M1258.6 1262.8V1291.7M1255.6 1262.8h6M1255.6 1291.7h6M1259.7 1263.4V1285.8M1256.7 1263.4h6M1256.7 1285.8h6M1260.8 1255.4V1280.0M1257.8 1255.4h6M1257.8 1280.0h6M1262.0 1255.2V1280.5M1259.0 1255.2h6M1259.0 1280.5h6M1263.1 1264.5V1292.0M1260.1 1264.5h6M1260.1 1292.0h6M1264.2 1256.9V1284.5M1261.2 1256.9h6M1261.2 1284.5h6M1265.3 1267.0V1293.5M1262.3 1267.0h6M1262.3 1293.5h6M1266.5 1257.0V1280.5M1263.5 1257.0h6M1263.5 1280.5h6M1267.6 1266.7V1290.0M1264.6 1266.7h6M1264.6 1290.0h6M1268.7 1257.8V1279.4M1265.7 1257.8h6M1265.7 1279.4h6M1269.8 1257.6V1286.0M1266.8 1257.6h6M1266.8 1286.0h6M1270.9 1268.0V1294.6M1267.9 1268.0h6M1267.9 1294.6h6M1272.1 1262.1V1289.6M1269.1 1262.1h6M1269.1 1289.6h6M1273.2 1257.4V1279.1M1270.2 1257.4h6M1270.2 1279.1h6M1274.3 1258.1V1282.5M1271.3 1258.1h6M1271.3 1282.5h6M1275.4 1255.6V1283.3M1272.4 1255.6h6M1272.4 1283.3h6M1276.6 1256.5V1282.2M1273.6 1256.5h6M1273.6 1282.2h6M1277.7 1266.4V1287.7M1274.7 1266.4h6M1274.7 1287.7h6M1278.8 1256.1V1280.7M1275.8 1256.1h6M1275.8 1280.7h6M1279.9 1265.7V1294.5M1276.9 1265.7h6M1276.9 1294.5h6M1281.0 1267.3V1289.6M1278.0 1267.3h6M1278.0 1289.6h6M1282.2 1268.6V1290.5M1279.2 1268.6h6M1279.2 1290.5h6M1283.3 1267.4V1290.4M1280.3 1267.4h6M1280.3 1290.4h6M1284.4 1263.9V1290.9M1281.4 1263.9h6M1281.4 1290.9h6M1285.5 1263.4V1291.8M1282.5 1263.4h6M1282.5 1291.8h6M1286.7 1268.4V1290.0M1283.7 1268.4h6M1283.7 1290.0h6M1287.8 1270.7V1292.3M1284.8 1270.7h6M1284.8 1292.3h6M1288.9 1270.3V1292.8M1285.9 1270.3h6M1285.9 1292.8h6M1290.0 1262.0V1285.3M1287.0 1262.0h6M1287.0 1285.3h6M1291.1 1262.1V1287.3M1288.1 1262.1h6M1288.1 1287.3h6M1292.3 1269.3V1290.9M1289.3 1269.3h6M1289.3 1290.9h6M1293.4 1263.6V1286.9M1290.4 1263.6h6M1290.4 1286.9h6M1294.5 1258.4V1280.3M1291.5 1258.4h6M1291.5 1280.3h6M1295.6 1259.2V1289.0M1292.6 1259.2h6M1292.6 1289.0h6M1296.8 1253.4V1280.7M1293.8 1253.4h6M1293.8 1280.7h6M1297.9 1258.8V1279.8M1294.9 1258.8h6M1294.9 1279.8h6M1299.0 1257.3V1286.9M1296.0 1257.3h6M1296.0 1286.9h6M1300.1 1265.8V1286.8M1297.1 1265.8h6M1297.1 1286.8h6M1301.2 1267.6V1291.4M1298.2 1267.6h6M1298.2 1291.4h6M1302.4 1255.6V1285.4M1299.4 1255.6h6M1299.4 1285.4h6M1303.5 1265.0V1292.9M1300.5 1265.0h6M1300.5 1292.9h6M1304.6 1255.3V1282.6M1301.6 1255.3h6M1301.6 1282.6h6M1305.7 1259.2V1283.6M1302.7 1259.2h6M1302.7 1283.6h6M1306.9 1266.7V1288.7M1303.9 1266.7h6M1303.9 1288.7h6M1308.0 1261.3V1287.7M1305.0 1261.3h6M1305.0 1287.7h6M1309.1 1264.1V1285.2M1306.1 1264.1h6M1306.1 1285.2h6M1310.2 1256.0V1278.0M1307.2 1256.0h6M1307.2 1278.0h6M1311.4 1261.1V1285.0M1308.4 1261.1h6M1308.4 1285.0h6M1312.5 1256.7V1277.1M1309.5 1256.7h6M1309.5 1277.1h6M1313.6 1263.8V1287.8M1310.6 1263.8h6M1310.6 1287.8h6M1314.7 1261.5V1289.4M1311.7 1261.5h6M1311.7 1289.4h6M1315.8 1260.1V1287.1M1312.8 1260.1h6M1312.8 1287.1h6M1317.0 1261.0V1286.0M1314.0 1261.0h6M1314.0 1286.0h6M1318.1 1263.9V1290.2M1315.1 1263.9h6M1315.1 1290.2h6M1319.2 1262.7V1287.3M1316.2 1262.7h6M1316.2 1287.3h6M1320.3 1269.8V1291.3M1317.3 1269.8h6M1317.3 1291.3h6M1321.5 1264.4V1290.4M1318.5 1264.4h6M1318.5 1290.4h6M1322.6 1261.0V1285.0M1319.6 1261.0h6M1319.6 1285.0h6M1323.7 1257.4V1284.8M1320.7 1257.4h6M1320.7 1284.8h6M1324.8 1253.3V1282.3M1321.8 1253.3h6M1321.8 1282.3h6M1325.9 1263.8V1288.1M1322.9 1263.8h6M1322.9 1288.1h6M1327.1 1265.6V1291.3M1324.1 1265.6h6M1324.1 1291.3h6M1328.2 1257.4V1284.9M1325.2 1257.4h6M1325.2 1284.9h6M1329.3 1256.2V1280.4M1326.3 1256.2h6M1326.3 1280.4h6M1330.4 1260.2V1282.5M1327.4 1260.2h6M1327.4 1282.5h6M1331.6 1255.0V1282.2M1328.6 1255.0h6M1328.6 1282.2h6M1332.7 1258.4V1287.2M1329.7 1258.4h6M1329.7 1287.2h6M1333.8 1254.3V1282.0M1330.8 1254.3h6M1330.8 1282.0h6M1334.9 1254.7V1281.7M1331.9 1254.7h6M1331.9 1281.7h6M1336.0 1253.0V1281.5M1333.0 1253.0h6M1333.0 1281.5h6M1337.2 1256.7V1283.5M1334.2 1256.7h6M1334.2 1283.5h6M1338.3 1266.6V1293.0M1335.3 1266.6h6M1335.3 1293.0h6M1339.4 1262.7V1287.2M1336.4 1262.7h6M1336.4 1287.2h6M1340.5 1256.3V1279.5M1337.5 1256.3h6M1337.5 1279.5h6M1341.7 1257.8V1284.0M1338.7 1257.8h6M1338.7 1284.0h6M1342.8 1259.6V1280.6M1339.8 1259.6h6M1339.8 1280.6h6M1343.9 1267.9V1292.1M1340.9 1267.9h6M1340.9 1292.1h6M1345.0 1255.1V1282.9M1342.0 1255.1h6M1342.0 1282.9h6M1346.1 1258.5V1285.6M1343.1 1258.5h6M1343.1 1285.6h6M1347.3 1265.8V1292.1M1344.3 1265.8h6M1344.3 1292.1h6M1348.4 1264.9V1287.4M1345.4 1264.9h6M1345.4 1287.4h6M1349.5 1263.8V1288.0M1346.5 1263.8h6M1346.5 1288.0h6M1350.6 1264.5V1289.0M1347.6 1264.5h6M1347.6 1289.0h6M1351.8 1252.3V1278.5M1348.8 1252.3h6M1348.8 1278.5h6M1352.9 1262.0V1286.1M1349.9 1262.0h6M1349.9 1286.1h6M1354.0 1256.2V1282.9M1351.0 1256.2h6M1351.0 1282.9h6M1355.1 1255.8V1285.1M1352.1 1255.8h6M1352.1 1285.1h6M1356.2 1267.5V1289.3M1353.2 1267.5h6M1353.2 1289.3h6M1357.4 1262.5V1289.0M1354.4 1262.5h6M1354.4 1289.0h6M1358.5 1261.1V1288.8M1355.5 1261.1h6M1355.5 1288.8h6M1359.6 1267.3V1291.2M1356.6 1267.3h6M1356.6 1291.2h6M1360.7 1262.9V1287.8M1357.7 1262.9h6M1357.7 1287.8h6M1361.9 1254.2V1284.0M1358.9 1254.2h6M1358.9 1284.0h6M1363.0 1264.8V1285.2M1360.0 1264.8h6M1360.0 1285.2h6M1364.1 1259.7V1285.1M1361.1 1259.7h6M1361.1 1285.1h6M1365.2 1266.6V1288.2M1362.2 1266.6h6M1362.2 1288.2h6M1366.4 1262.3V1290.1M1363.4 1262.3h6M1363.4 1290.1h6M1367.5 1250.6V1280.0M1364.5 1250.6h6M1364.5 1280.0h6M1368.6 1259.7V1284.9M1365.6 1259.7h6M1365.6 1284.9h6M1369.7 1254.3V1275.3M1366.7 1254.3h6M1366.7 1275.3h6M1370.8 1262.1V1287.9M1367.8 1262.1h6M1367.8 1287.9h6M1372.0 1252.3V1277.7M1369.0 1252.3h6M1369.0 1277.7h6M1373.1 1256.8V1283.9M1370.1 1256.8h6M1370.1 1283.9h6M1374.2 1258.6V1283.7M1371.2 1258.6h6M1371.2 1283.7h6M1375.3 1263.7V1290.1M1372.3 1263.7h6M1372.3 1290.1h6M1376.5 1257.2V1285.5M1373.5 1257.2h6M1373.5 1285.5h6M1377.6 1255.8V1281.1M1374.6 1255.8h6M1374.6 1281.1h6M1378.7 1253.5V1277.6M1375.7 1253.5h6M1375.7 1277.6h6M1379.8 1263.7V1293.1M1376.8 1263.7h6M1376.8 1293.1h6M1380.9 1260.5V1282.6M1377.9 1260.5h6M1377.9 1282.6h6M1382.1 1260.9V1287.7M1379.1 1260.9h6M1379.1 1287.7h6M1383.2 1261.7V1285.6M1380.2 1261.7h6M1380.2 1285.6h6M1384.3 1252.5V1280.2M1381.3 1252.5h6M1381.3 1280.2h6M1385.4 1257.0V1278.3M1382.4 1257.0h6M1382.4 1278.3h6M1386.6 1262.0V1291.9M1383.6 1262.0h6M1383.6 1291.9h6M1387.7 1256.4V1280.0M1384.7 1256.4h6M1384.7 1280.0h6M1388.8 1264.1V1284.7M1385.8 1264.1h6M1385.8 1284.7h6M1389.9 1261.5V1284.3M1386.9 1261.5h6M1386.9 1284.3h6M1391.0 1258.0V1282.0M1388.0 1258.0h6M1388.0 1282.0h6M1392.2 1262.3V1282.5M1389.2 1262.3h6M1389.2 1282.5h6M1393.3 1265.9V1290.1M1390.3 1265.9h6M1390.3 1290.1h6M1394.4 1254.3V1278.6M1391.4 1254.3h6M1391.4 1278.6h6M1395.5 1251.5V1278.5M1392.5 1251.5h6M1392.5 1278.5h6M1396.7 1263.1V1286.6M1393.7 1263.1h6M1393.7 1286.6h6M1397.8 1264.7V1287.3M1394.8 1264.7h6M1394.8 1287.3h6M1398.9 1253.6V1275.9M1395.9 1253.6h6M1395.9 1275.9h6M1400.0 1253.2V1280.6M1397.0 1253.2h6M1397.0 1280.6h6M1401.1 1250.7V1280.1M1398.1 1250.7h6M1398.1 1280.1h6M1402.3 1258.2V1283.4M1399.3 1258.2h6M1399.3 1283.4h6M1403.4 1267.1V1289.3M1400.4 1267.1h6M1400.4 1289.3h6M1404.5 1258.3V1286.3M1401.5 1258.3h6M1401.5 1286.3h6M1405.6 1257.5V1281.5M1402.6 1257.5h6M1402.6 1281.5h6M1406.8 1267.2V1289.4M1403.8 1267.2h6M1403.8 1289.4h6M1407.9 1266.5V1287.8M1404.9 1266.5h6M1404.9 1287.8h6M1409.0 1260.1V1287.9M1406.0 1260.1h6M1406.0 1287.9h6M1410.1 1254.2V1282.3M1407.1 1254.2h6M1407.1 1282.3h6M1411.2 1262.2V1288.5M1408.2 1262.2h6M1408.2 1288.5h6M1412.4 1262.4V1287.1M1409.4 1262.4h6M1409.4 1287.1h6M1413.5 1260.6V1286.2M1410.5 1260.6h6M1410.5 1286.2h6M1414.6 1265.8V1288.0M1411.6 1265.8h6M1411.6 1288.0h6M1415.7 1251.1V1280.8M1412.7 1251.1h6M1412.7 1280.8h6M1416.9 1264.3V1287.9M1413.9 1264.3h6M1413.9 1287.9h6M1418.0 1251.5V1277.9M1415.0 1251.5h6M1415.0 1277.9h6M1419.1 1263.3V1291.4M1416.1 1263.3h6M1416.1 1291.4h6M1420.2 1264.0V1292.2M1417.2 1264.0h6M1417.2 1292.2h6M1421.4 1265.8V1290.5M1418.4 1265.8h6M1418.4 1290.5h6M1422.5 1264.2V1287.2M1419.5 1264.2h6M1419.5 1287.2h6M1423.6 1253.7V1279.2M1420.6 1253.7h6M1420.6 1279.2h6M1424.7 1262.9V1284.1M1421.7 1262.9h6M1421.7 1284.1h6M1425.8 1257.7V1286.0M1422.8 1257.7h6M1422.8 1286.0h6M1427.0 1262.9V1286.4M1424.0 1262.9h6M1424.0 1286.4h6M1428.1 1261.3V1289.8M1425.1 1261.3h6M1425.1 1289.8h6M1429.2 1266.5V1289.2M1426.2 1266.5h6M1426.2 1289.2h6M1430.3 1258.5V1282.3M1427.3 1258.5h6M1427.3 1282.3h6M1431.5 1265.3V1287.8M1428.5 1265.3h6M1428.5 1287.8h6M1432.6 1263.9V1288.2M1429.6 1263.9h6M1429.6 1288.2h6M1433.7 1262.2V1284.1M1430.7 1262.2h6M1430.7 1284.1h6M1434.8 1257.2V1277.3M1431.8 1257.2h6M1431.8 1277.3h6M1435.9 1265.8V1293.0M1432.9 1265.8h6M1432.9 1293.0h6M1437.1 1257.9V1280.7M1434.1 1257.9h6M1434.1 1280.7h6M1438.2 1261.6V1284.0M1435.2 1261.6h6M1435.2 1284.0h6M1439.3 1268.2V1291.2M1436.3 1268.2h6M1436.3 1291.2h6M1440.4 1253.7V1278.5M1437.4 1253.7h6M1437.4 1278.5h6M1441.6 1255.0V1279.3M1438.6 1255.0h6M1438.6 1279.3h6M1442.7 1262.9V1289.2M1439.7 1262.9h6M1439.7 1289.2h6M1443.8 1264.1V1290.7M1440.8 1264.1h6M1440.8 1290.7h6M1444.9 1257.8V1281.4M1441.9 1257.8h6M1441.9 1281.4h6M1446.0 1254.4V1283.7M1443.0 1254.4h6M1443.0 1283.7h6M1447.2 1254.1V1282.6M1444.2 1254.1h6M1444.2 1282.6h6M1448.3 1261.2V1281.8M1445.3 1261.2h6M1445.3 1281.8h6M1449.4 1253.9V1282.2M1446.4 1253.9h6M1446.4 1282.2h6M1450.5 1251.5V1280.5M1447.5 1251.5h6M1447.5 1280.5h6M1451.7 1261.1V1289.0M1448.7 1261.1h6M1448.7 1289.0h6M1452.8 1265.1V1286.5M1449.8 1265.1h6M1449.8 1286.5h6M1453.9 1255.0V1283.3M1450.9 1255.0h6M1450.9 1283.3h6M1455.0 1265.2V1291.5M1452.0 1265.2h6M1452.0 1291.5h6M1456.1 1260.7V1280.8M1453.1 1260.7h6M1453.1 1280.8h6M1457.3 1266.0V1286.1M1454.3 1266.0h6M1454.3 1286.1h6M1458.4 1264.3V1293.9M1455.4 1264.3h6M1455.4 1293.9h6M1459.5 1259.1V1285.7M1456.5 1259.1h6M1456.5 1285.7h6M1460.6 1258.4V1280.9M1457.6 1258.4h6M1457.6 1280.9h6M1461.8 1261.6V1282.6M1458.8 1261.6h6M1458.8 1282.6h6M1462.9 1264.7V1286.1M1459.9 1264.7h6M1459.9 1286.1h6M1464.0 1257.5V1279.8M1461.0 1257.5h6M1461.0 1279.8h6M1465.1 1264.7V1292.5M1462.1 1264.7h6M1462.1 1292.5h6M1466.3 1257.2V1280.7M1463.3 1257.2h6M1463.3 1280.7h6M1467.4 1264.3V1285.8M1464.4 1264.3h6M1464.4 1285.8h6M1468.5 1250.6V1279.7M1465.5 1250.6h6M1465.5 1279.7h6M1469.6 1264.3V1292.2M1466.6 1264.3h6M1466.6 1292.2h6M1470.7 1261.6V1283.3M1467.7 1261.6h6M1467.7 1283.3h6M1471.9 1261.3V1290.2M1468.9 1261.3h6M1468.9 1290.2h6M1473.0 1254.6V1280.7M1470.0 1254.6h6M1470.0 1280.7h6M1474.1 1261.6V1289.4M1471.1 1261.6h6M1471.1 1289.4h6M1475.2 1260.5V1287.2M1472.2 1260.5h6M1472.2 1287.2h6M1476.4 1260.6V1289.5M1473.4 1260.6h6M1473.4 1289.5h6M1477.5 1253.2V1281.1M1474.5 1253.2h6M1474.5 1281.1h6M1478.6 1250.1V1278.5M1475.6 1250.1h6M1475.6 1278.5h6M1479.7 1264.5V1286.5M1476.7 1264.5h6M1476.7 1286.5h6M1480.8 1258.6V1285.6M1477.8 1258.6h6M1477.8 1285.6h6M1482.0 1251.6V1276.9M1479.0 1251.6h6M1479.0 1276.9h6M1483.1 1258.7V1286.1M1480.1 1258.7h6M1480.1 1286.1h6M1484.2 1251.6V1276.0M1481.2 1251.6h6M1481.2 1276.0h6M1485.3 1262.9V1291.8M1482.3 1262.9h6M1482.3 1291.8h6M1486.5 1259.5V1285.1M1483.5 1259.5h6M1483.5 1285.1h6M1487.6 1253.7V1276.4M1484.6 1253.7h6M1484.6 1276.4h6M1488.7 1252.2V1274.5M1485.7 1252.2h6M1485.7 1274.5h6M1489.8 1262.5V1283.9M1486.8 1262.5h6M1486.8 1283.9h6M1490.9 1251.8V1276.7M1487.9 1251.8h6M1487.9 1276.7h6M1492.1 1267.2V1287.8M1489.1 1267.2h6M1489.1 1287.8h6M1493.2 1260.1V1284.7M1490.2 1260.1h6M1490.2 1284.7h6M1494.3 1262.4V1283.8M1491.3 1262.4h6M1491.3 1283.8h6M1495.4 1265.5V1290.4M1492.4 1265.5h6M1492.4 1290.4h6M1496.6 1260.3V1285.3M1493.6 1260.3h6M1493.6 1285.3h6M1497.7 1263.5V1288.8M1494.7 1263.5h6M1494.7 1288.8h6M1498.8 1260.6V1289.2M1495.8 1260.6h6M1495.8 1289.2h6M1499.9 1255.9V1275.9M1496.9 1255.9h6M1496.9 1275.9h6M1501.0 1257.4V1285.8M1498.0 1257.4h6M1498.0 1285.8h6M1502.2 1258.7V1283.4M1499.2 1258.7h6M1499.2 1283.4h6M1503.3 1251.7V1277.3M1500.3 1251.7h6M1500.3 1277.3h6M1504.4 1259.3V1286.0M1501.4 1259.3h6M1501.4 1286.0h6M1505.5 1263.4V1291.8M1502.5 1263.4h6M1502.5 1291.8h6M1506.7 1254.2V1278.0M1503.7 1254.2h6M1503.7 1278.0h6M1507.8 1265.4V1289.6M1504.8 1265.4h6M1504.8 1289.6h6M1508.9 1262.4V1292.0M1505.9 1262.4h6M1505.9 1292.0h6M1510.0 1264.0V1284.7M1507.0 1264.0h6M1507.0 1284.7h6M1511.1 1251.8V1278.1M1508.1 1251.8h6M1508.1 1278.1h6M1512.3 1261.0V1287.4M1509.3 1261.0h6M1509.3 1287.4h6M1513.4 1259.0V1279.3M1510.4 1259.0h6M1510.4 1279.3h6M1514.5 1254.7V1280.7M1511.5 1254.7h6M1511.5 1280.7h6M1515.6 1260.8V1287.6M1512.6 1260.8h6M1512.6 1287.6h6M1516.8 1252.5V1281.8M1513.8 1252.5h6M1513.8 1281.8h6M1517.9 1257.3V1280.6M1514.9 1257.3h6M1514.9 1280.6h6M1519.0 1263.1V1292.9M1516.0 1263.1h6M1516.0 1292.9h6M1520.1 1258.8V1283.9M1517.1 1258.8h6M1517.1 1283.9h6M1521.3 1251.9V1276.8M1518.3 1251.9h6M1518.3 1276.8h6M1522.4 1260.2V1289.2M1519.4 1260.2h6M1519.4 1289.2h6M1523.5 1261.0V1281.3M1520.5 1261.0h6M1520.5 1281.3h6M1524.6 1262.2V1289.4M1521.6 1262.2h6M1521.6 1289.4h6M1525.7 1254.5V1280.7M1522.7 1254.5h6M1522.7 1280.7h6M1526.9 1255.4V1278.8M1523.9 1255.4h6M1523.9 1278.8h6M1528.0 1259.4V1288.0M1525.0 1259.4h6M1525.0 1288.0h6M1529.1 1261.3V1285.0M1526.1 1261.3h6M1526.1 1285.0h6M1530.2 1265.0V1289.7M1527.2 1265.0h6M1527.2 1289.7h6M1531.4 1254.8V1280.0M1528.4 1254.8h6M1528.4 1280.0h6M1532.5 1263.7V1291.4M1529.5 1263.7h6M1529.5 1291.4h6M1533.6 1259.3V1281.4M1530.6 1259.3h6M1530.6 1281.4h6M1534.7 1251.8V1276.2M1531.7 1251.8h6M1531.7 1276.2h6M1535.8 1251.8V1276.0M1532.8 1251.8h6M1532.8 1276.0h6M1537.0 1264.4V1289.9M1534.0 1264.4h6M1534.0 1289.9h6M1538.1 1256.9V1285.2M1535.1 1256.9h6M1535.1 1285.2h6M1539.2 1260.3V1283.2M1536.2 1260.3h6M1536.2 1283.2h6M1540.3 1258.0V1286.3M1537.3 1258.0h6M1537.3 1286.3h6M1541.5 1256.3V1280.3M1538.5 1256.3h6M1538.5 1280.3h6M1542.6 1253.2V1278.3M1539.6 1253.2h6M1539.6 1278.3h6M1543.7 1265.0V1287.7M1540.7 1265.0h6M1540.7 1287.7h6M1544.8 1261.2V1286.3M1541.8 1261.2h6M1541.8 1286.3h6M1545.9 1257.6V1287.4M1542.9 1257.6h6M1542.9 1287.4h6M1547.1 1261.7V1288.3M1544.1 1261.7h6M1544.1 1288.3h6M1548.2 1260.3V1288.2M1545.2 1260.3h6M1545.2 1288.2h6M1549.3 1253.1V1276.4M1546.3 1253.1h6M1546.3 1276.4h6M1550.4 1261.3V1284.5M1547.4 1261.3h6M1547.4 1284.5h6M1551.6 1251.5V1274.5M1548.6 1251.5h6M1548.6 1274.5h6M1552.7 1261.2V1287.0M1549.7 1261.2h6M1549.7 1287.0h6M1553.8 1254.6V1281.0M1550.8 1254.6h6M1550.8 1281.0h6M1554.9 1261.9V1289.7M1551.9 1261.9h6M1551.9 1289.7h6M1556.0 1254.9V1275.3M1553.0 1254.9h6M1553.0 1275.3h6M1557.2 1250.0V1277.2M1554.2 1250.0h6M1554.2 1277.2h6M1558.3 1258.2V1287.0M1555.3 1258.2h6M1555.3 1287.0h6M1559.4 1261.3V1286.8M1556.4 1261.3h6M1556.4 1286.8h6M1560.5 1257.9V1278.4M1557.5 1257.9h6M1557.5 1278.4h6M1561.7 1259.6V1282.6M1558.7 1259.6h6M1558.7 1282.6h6M1562.8 1259.8V1279.8M1559.8 1259.8h6M1559.8 1279.8h6M1563.9 1253.9V1275.8M1560.9 1253.9h6M1560.9 1275.8h6M1565.0 1260.0V1289.2M1562.0 1260.0h6M1562.0 1289.2h6M1566.1 1253.8V1279.9M1563.1 1253.8h6M1563.1 1279.9h6M1567.3 1257.2V1283.7M1564.3 1257.2h6M1564.3 1283.7h6M1568.4 1258.8V1286.7M1565.4 1258.8h6M1565.4 1286.7h6M1569.5 1252.2V1281.3M1566.5 1252.2h6M1566.5 1281.3h6M1570.6 1259.4V1285.5M1567.6 1259.4h6M1567.6 1285.5h6M1571.8 1257.4V1283.6M1568.8 1257.4h6M1568.8 1283.6h6M1572.9 1259.3V1285.6M1569.9 1259.3h6M1569.9 1285.6h6M1574.0 1258.5V1285.5M1571.0 1258.5h6M1571.0 1285.5h6M1575.1 1253.8V1279.8M1572.1 1253.8h6M1572.1 1279.8h6M1576.3 1259.8V1286.6M1573.3 1259.8h6M1573.3 1286.6h6M1577.4 1255.4V1277.6M1574.4 1255.4h6M1574.4 1277.6h6M1578.5 1259.8V1286.4M1575.5 1259.8h6M1575.5 1286.4h6M1579.6 1251.8V1276.4M1576.6 1251.8h6M1576.6 1276.4h6M1580.7 1256.2V1283.8M1577.7 1256.2h6M1577.7 1283.8h6M1581.9 1249.5V1270.5M1578.9 1249.5h6M1578.9 1270.5h6M1583.0 1254.7V1276.5M1580.0 1254.7h6M1580.0 1276.5h6M1584.1 1257.5V1277.9M1581.1 1257.5h6M1581.1 1277.9h6M1585.2 1245.2V1272.9M1582.2 1245.2h6M1582.2 1272.9h6M1586.4 1256.1V1285.3M1583.4 1256.1h6M1583.4 1285.3h6M1587.5 1257.2V1283.8M1584.5 1257.2h6M1584.5 1283.8h6M1588.6 1248.3V1272.0M1585.6 1248.3h6M1585.6 1272.0h6M1589.7 1247.1V1275.4M1586.7 1247.1h6M1586.7 1275.4h6M1590.8 1246.3V1274.2M1587.8 1246.3h6M1587.8 1274.2h6M1592.0 1257.9V1283.6M1589.0 1257.9h6M1589.0 1283.6h6M1593.1 1253.7V1276.3M1590.1 1253.7h6M1590.1 1276.3h6M1594.2 1248.1V1271.1M1591.2 1248.1h6M1591.2 1271.1h6M1595.3 1251.7V1275.9M1592.3 1251.7h6M1592.3 1275.9h6M1596.5 1253.9V1277.1M1593.5 1253.9h6M1593.5 1277.1h6M1597.6 1256.5V1280.8M1594.6 1256.5h6M1594.6 1280.8h6M1598.7 1246.0V1272.4M1595.7 1246.0h6M1595.7 1272.4h6M1599.8 1250.9V1280.3M1596.8 1250.9h6M1596.8 1280.3h6M1600.9 1248.3V1268.8M1597.9 1248.3h6M1597.9 1268.8h6M1602.1 1258.1V1283.7M1599.1 1258.1h6M1599.1 1283.7h6M1603.2 1248.2V1268.6M1600.2 1248.2h6M1600.2 1268.6h6M1604.3 1261.4V1282.6M1601.3 1261.4h6M1601.3 1282.6h6M1605.4 1253.0V1281.1M1602.4 1253.0h6M1602.4 1281.1h6M1606.6 1250.8V1276.5M1603.6 1250.8h6M1603.6 1276.5h6M1607.7 1255.9V1285.1M1604.7 1255.9h6M1604.7 1285.1h6M1608.8 1257.4V1281.8M1605.8 1257.4h6M1605.8 1281.8h6M1609.9 1250.4V1270.5M1606.9 1250.4h6M1606.9 1270.5h6M1611.0 1258.3V1282.2M1608.0 1258.3h6M1608.0 1282.2h6M1612.2 1254.1V1280.1M1609.2 1254.1h6M1609.2 1280.1h6M1613.3 1252.7V1282.1M1610.3 1252.7h6M1610.3 1282.1h6M1614.4 1254.6V1284.4M1611.4 1254.6h6M1611.4 1284.4h6M1615.5 1247.6V1272.4M1612.5 1247.6h6M1612.5 1272.4h6M1616.7 1252.9V1277.1M1613.7 1252.9h6M1613.7 1277.1h6M1617.8 1262.3V1283.3M1614.8 1262.3h6M1614.8 1283.3h6M1618.9 1258.5V1284.9M1615.9 1258.5h6M1615.9 1284.9h6M1620.0 1254.4V1276.5M1617.0 1254.4h6M1617.0 1276.5h6M1621.2 1258.4V1279.9M1618.2 1258.4h6M1618.2 1279.9h6M1622.3 1255.1V1275.2M1619.3 1255.1h6M1619.3 1275.2h6M1623.4 1254.1V1274.2M1620.4 1254.1h6M1620.4 1274.2h6M1624.5 1254.1V1280.9M1621.5 1254.1h6M1621.5 1280.9h6M1625.6 1254.3V1275.6M1622.6 1254.3h6M1622.6 1275.6h6M1626.8 1255.9V1285.5M1623.8 1255.9h6M1623.8 1285.5h6M1627.9 1252.4V1273.3M1624.9 1252.4h6M1624.9 1273.3h6M1629.0 1257.4V1286.1M1626.0 1257.4h6M1626.0 1286.1h6M1630.1 1262.3V1283.6M1627.1 1262.3h6M1627.1 1283.6h6M1631.3 1258.2V1278.4M1628.3 1258.2h6M1628.3 1278.4h6M1632.4 1254.7V1281.9M1629.4 1254.7h6M1629.4 1281.9h6M1633.5 1263.1V1285.5M1630.5 1263.1h6M1630.5 1285.5h6M1634.6 1260.1V1287.5M1631.6 1260.1h6M1631.6 1287.5h6M1635.7 1252.7V1274.6M1632.7 1252.7h6M1632.7 1274.6h6M1636.9 1264.2V1284.7M1633.9 1264.2h6M1633.9 1284.7h6M1638.0 1255.9V1283.6M1635.0 1255.9h6M1635.0 1283.6h6M1639.1 1259.9V1287.0M1636.1 1259.9h6M1636.1 1287.0h6M1640.2 1246.6V1275.2M1637.2 1246.6h6M1637.2 1275.2h6M1641.4 1250.0V1277.3M1638.4 1250.0h6M1638.4 1277.3h6M1642.5 1250.9V1271.7M1639.5 1250.9h6M1639.5 1271.7h6M1643.6 1248.6V1274.9M1640.6 1248.6h6M1640.6 1274.9h6M1644.7 1260.0V1287.0M1641.7 1260.0h6M1641.7 1287.0h6M1645.8 1250.0V1274.6M1642.8 1250.0h6M1642.8 1274.6h6M1647.0 1256.3V1285.6M1644.0 1256.3h6M1644.0 1285.6h6M1648.1 1262.6V1285.1M1645.1 1262.6h6M1645.1 1285.1h6M1649.2 1257.4V1287.0M1646.2 1257.4h6M1646.2 1287.0h6M1650.3 1260.6V1287.8M1647.3 1260.6h6M1647.3 1287.8h6M1651.5 1252.7V1272.8M1648.5 1252.7h6M1648.5 1272.8h6M1652.6 1262.4V1282.6M1649.6 1262.4h6M1649.6 1282.6h6M1653.7 1258.5V1285.0M1650.7 1258.5h6M1650.7 1285.0h6M1654.8 1259.7V1287.8M1651.8 1259.7h6M1651.8 1287.8h6M1655.9 1252.3V1273.1M1652.9 1252.3h6M1652.9 1273.1h6M1657.1 1251.7V1274.9M1654.1 1251.7h6M1654.1 1274.9h6M1658.2 1251.3V1278.6M1655.2 1251.3h6M1655.2 1278.6h6M1659.3 1257.8V1279.5M1656.3 1257.8h6M1656.3 1279.5h6M1660.4 1256.9V1285.5M1657.4 1256.9h6M1657.4 1285.5h6M1661.6 1255.8V1280.7M1658.6 1255.8h6M1658.6 1280.7h6M1662.7 1253.1V1273.7M1659.7 1253.1h6M1659.7 1273.7h6M1663.8 1249.9V1273.6M1660.8 1249.9h6M1660.8 1273.6h6M1664.9 1257.7V1283.4M1661.9 1257.7h6M1661.9 1283.4h6M1666.0 1260.2V1284.6M1663.0 1260.2h6M1663.0 1284.6h6M1667.2 1254.4V1281.1M1664.2 1254.4h6M1664.2 1281.1h6M1668.3 1254.2V1275.6M1665.3 1254.2h6M1665.3 1275.6h6M1669.4 1259.5V1287.5M1666.4 1259.5h6M1666.4 1287.5h6M1670.5 1263.5V1287.1M1667.5 1263.5h6M1667.5 1287.1h6M1671.7 1259.0V1285.4M1668.7 1259.0h6M1668.7 1285.4h6M1672.8 1248.2V1274.5M1669.8 1248.2h6M1669.8 1274.5h6M1673.9 1253.9V1278.1M1670.9 1253.9h6M1670.9 1278.1h6M1675.0 1263.7V1287.5M1672.0 1263.7h6M1672.0 1287.5h6M1676.2 1259.4V1287.2M1673.2 1259.4h6M1673.2 1287.2h6M1677.3 1254.3V1283.8M1674.3 1254.3h6M1674.3 1283.8h6M1678.4 1248.2V1276.0M1675.4 1248.2h6M1675.4 1276.0h6M1679.5 1259.0V1284.6M1676.5 1259.0h6M1676.5 1284.6h6M1680.6 1263.2V1286.1M1677.6 1263.2h6M1677.6 1286.1h6M1681.8 1259.3V1279.9M1678.8 1259.3h6M1678.8 1279.9h6M1682.9 1254.6V1284.3M1679.9 1254.6h6M1679.9 1284.3h6M1684.0 1252.5V1279.5M1681.0 1252.5h6M1681.0 1279.5h6M1685.1 1257.3V1285.6M1682.1 1257.3h6M1682.1 1285.6h6M1686.3 1255.6V1278.9M1683.3 1255.6h6M1683.3 1278.9h6M1687.4 1247.3V1273.4M1684.4 1247.3h6M1684.4 1273.4h6M1688.5 1256.9V1286.7M1685.5 1256.9h6M1685.5 1286.7h6M1689.6 1250.3V1278.6M1686.6 1250.3h6M1686.6 1278.6h6M1690.7 1249.1V1275.1M1687.7 1249.1h6M1687.7 1275.1h6M1691.9 1258.1V1281.1M1688.9 1258.1h6M1688.9 1281.1h6M1693.0 1251.7V1276.0M1690.0 1251.7h6M1690.0 1276.0h6M1694.1 1253.6V1282.4M1691.1 1253.6h6M1691.1 1282.4h6M1695.2 1254.6V1278.4M1692.2 1254.6h6M1692.2 1278.4h6M1696.4 1248.6V1275.5M1693.4 1248.6h6M1693.4 1275.5h6M1697.5 1246.4V1272.4M1694.5 1246.4h6M1694.5 1272.4h6M1698.6 1250.2V1279.2M1695.6 1250.2h6M1695.6 1279.2h6" stroke="#222" stroke-width="0.9" fill="none" opacity="0.7"/>
<g fill="#0a0a0a"><circle cx="1090.6" cy="1219.1" r="10.5"/><circle cx="1091.2" cy="1223.1" r="10.5"/><circle cx="1091.8" cy="1226.6" r="10.5"/><circle cx="1092.4" cy="1230.6" r="10.5"/><circle cx="1093.0" cy="1233.2" r="10.5"/><circle cx="1093.6" cy="1236.4" r="10.5"/><circle cx="1094.2" cy="1239.9" r="10.5"/><circle cx="1094.9" cy="1241.4" r="10.5"/><circle cx="1095.5" cy="1245.2" r="10.5"/><circle cx="1096.1" cy="1246.2" r="10.5"/><circle cx="1096.7" cy="1249.6" r="10.5"/><circle cx="1097.3" cy="1251.6" r="10.5"/><circle cx="1097.9" cy="1252.0" r="10.5"/><circle cx="1098.5" cy="1251.8" r="10.5"/><circle cx="1099.1" cy="1256.3" r="10.5"/><circle cx="1099.7" cy="1253.8" r="10.5"/><circle cx="1100.3" cy="1258.2" r="10.5"/><circle cx="1100.9" cy="1261.7" r="10.5"/><circle cx="1101.5" cy="1261.4" r="10.5"/><circle cx="1102.2" cy="1263.7" r="10.5"/><circle cx="1102.8" cy="1259.7" r="10.5"/><circle cx="1103.4" cy="1262.3" r="10.5"/><circle cx="1104.0" cy="1264.8" r="10.5"/><circle cx="1104.6" cy="1268.3" r="10.5"/><circle cx="1105.2" cy="1267.9" r="10.5"/><circle cx="1105.8" cy="1266.7" r="10.5"/><circle cx="1106.4" cy="1265.8" r="10.5"/><circle cx="1107.0" cy="1269.2" r="10.5"/><circle cx="1107.6" cy="1265.7" r="10.5"/><circle cx="1108.2" cy="1267.5" r="10.5"/><circle cx="1108.8" cy="1264.6" r="10.5"/><circle cx="1109.4" cy="1271.6" r="10.5"/><circle cx="1110.1" cy="1274.1" r="10.5"/><circle cx="1110.7" cy="1266.9" r="10.5"/><circle cx="1111.3" cy="1270.5" r="10.5"/><circle cx="1111.9" cy="1268.6" r="10.5"/><circle cx="1112.5" cy="1270.1" r="10.5"/><circle cx="1113.1" cy="1273.9" r="10.5"/><circle cx="1113.7" cy="1270.3" r="10.5"/><circle cx="1114.3" cy="1272.5" r="10.5"/><circle cx="1114.9" cy="1265.6" r="10.5"/><circle cx="1116.0" cy="1270.1" r="10.5"/><circle cx="1117.2" cy="1269.9" r="10.5"/><circle cx="1118.3" cy="1265.9" r="10.5"/><circle cx="1119.4" cy="1276.6" r="10.5"/><circle cx="1120.5" cy="1271.2" r="10.5"/><circle cx="1121.7" cy="1274.5" r="10.5"/><circle cx="1122.8" cy="1279.8" r="10.5"/><circle cx="1123.9" cy="1270.3" r="10.5"/><circle cx="1125.0" cy="1278.2" r="10.5"/><circle cx="1126.1" cy="1269.1" r="10.5"/><circle cx="1127.3" cy="1275.4" r="10.5"/><circle cx="1128.4" cy="1269.2" r="10.5"/><circle cx="1129.5" cy="1269.5" r="10.5"/><circle cx="1130.6" cy="1276.2" r="10.5"/><circle cx="1131.8" cy="1269.4" r="10.5"/><circle cx="1132.9" cy="1280.2" r="10.5"/><circle cx="1134.0" cy="1279.1" r="10.5"/><circle cx="1135.1" cy="1275.4" r="10.5"/><circle cx="1136.2" cy="1278.7" r="10.5"/><circle cx="1137.4" cy="1276.5" r="10.5"/><circle cx="1138.5" cy="1274.3" r="10.5"/><circle cx="1139.6" cy="1272.5" r="10.5"/><circle cx="1140.7" cy="1273.6" r="10.5"/><circle cx="1141.9" cy="1281.9" r="10.5"/><circle cx="1143.0" cy="1271.2" r="10.5"/><circle cx="1144.1" cy="1271.0" r="10.5"/><circle cx="1145.2" cy="1276.8" r="10.5"/><circle cx="1146.3" cy="1273.4" r="10.5"/><circle cx="1147.5" cy="1281.7" r="10.5"/><circle cx="1148.6" cy="1280.3" r="10.5"/><circle cx="1149.7" cy="1281.9" r="10.5"/><circle cx="1150.8" cy="1280.4" r="10.5"/><circle cx="1152.0" cy="1277.2" r="10.5"/><circle cx="1153.1" cy="1269.7" r="10.5"/><circle cx="1154.2" cy="1280.3" r="10.5"/><circle cx="1155.3" cy="1277.4" r="10.5"/><circle cx="1156.5" cy="1280.6" r="10.5"/><circle cx="1157.6" cy="1267.8" r="10.5"/><circle cx="1158.7" cy="1275.2" r="10.5"/><circle cx="1159.8" cy="1280.8" r="10.5"/><circle cx="1160.9" cy="1278.3" r="10.5"/><circle cx="1162.1" cy="1279.8" r="10.5"/><circle cx="1163.2" cy="1268.1" r="10.5"/><circle cx="1164.3" cy="1279.9" r="10.5"/><circle cx="1165.4" cy="1281.6" r="10.5"/><circle cx="1166.6" cy="1267.5" r="10.5"/><circle cx="1167.7" cy="1271.6" r="10.5"/><circle cx="1168.8" cy="1276.4" r="10.5"/><circle cx="1169.9" cy="1270.4" r="10.5"/><circle cx="1171.0" cy="1270.2" r="10.5"/><circle cx="1172.2" cy="1278.4" r="10.5"/><circle cx="1173.3" cy="1267.1" r="10.5"/><circle cx="1174.4" cy="1269.6" r="10.5"/><circle cx="1175.5" cy="1270.6" r="10.5"/><circle cx="1176.7" cy="1273.8" r="10.5"/><circle cx="1177.8" cy="1280.9" r="10.5"/><circle cx="1178.9" cy="1277.1" r="10.5"/><circle cx="1180.0" cy="1271.0" r="10.5"/><circle cx="1181.1" cy="1274.6" r="10.5"/><circle cx="1182.3" cy="1266.5" r="10.5"/><circle cx="1183.4" cy="1275.7" r="10.5"/><circle cx="1184.5" cy="1277.6" r="10.5"/><circle cx="1185.6" cy="1277.9" r="10.5"/><circle cx="1186.8" cy="1267.6" r="10.5"/><circle cx="1187.9" cy="1273.8" r="10.5"/><circle cx="1189.0" cy="1269.0" r="10.5"/><circle cx="1190.1" cy="1271.0" r="10.5"/><circle cx="1191.2" cy="1269.2" r="10.5"/><circle cx="1192.4" cy="1273.6" r="10.5"/><circle cx="1193.5" cy="1269.0" r="10.5"/><circle cx="1194.6" cy="1268.8" r="10.5"/><circle cx="1195.7" cy="1274.8" r="10.5"/><circle cx="1196.9" cy="1266.6" r="10.5"/><circle cx="1198.0" cy="1278.1" r="10.5"/><circle cx="1199.1" cy="1278.3" r="10.5"/><circle cx="1200.2" cy="1268.7" r="10.5"/><circle cx="1201.3" cy="1268.4" r="10.5"/><circle cx="1202.5" cy="1270.8" r="10.5"/><circle cx="1203.6" cy="1272.4" r="10.5"/><circle cx="1204.7" cy="1280.3" r="10.5"/><circle cx="1205.8" cy="1271.0" r="10.5"/><circle cx="1207.0" cy="1266.8" r="10.5"/><circle cx="1208.1" cy="1267.7" r="10.5"/><circle cx="1209.2" cy="1277.5" r="10.5"/><circle cx="1210.3" cy="1276.3" r="10.5"/><circle cx="1211.5" cy="1272.0" r="10.5"/><circle cx="1212.6" cy="1274.5" r="10.5"/><circle cx="1213.7" cy="1267.3" r="10.5"/><circle cx="1214.8" cy="1273.9" r="10.5"/><circle cx="1215.9" cy="1267.4" r="10.5"/><circle cx="1217.1" cy="1267.2" r="10.5"/><circle cx="1218.2" cy="1273.0" r="10.5"/><circle cx="1219.3" cy="1280.5" r="10.5"/><circle cx="1220.4" cy="1278.2" r="10.5"/><circle cx="1221.6" cy="1269.1" r="10.5"/><circle cx="1222.7" cy="1274.0" r="10.5"/><circle cx="1223.8" cy="1272.8" r="10.5"/><circle cx="1224.9" cy="1273.4" r="10.5"/><circle cx="1226.0" cy="1269.5" r="10.5"/><circle cx="1227.2" cy="1272.9" r="10.5"/><circle cx="1228.3" cy="1277.1" r="10.5"/><circle cx="1229.4" cy="1273.7" r="10.5"/><circle cx="1230.5" cy="1270.1" r="10.5"/><circle cx="1231.7" cy="1274.8" r="10.5"/><circle cx="1232.8" cy="1273.9" r="10.5"/><circle cx="1233.9" cy="1271.2" r="10.5"/><circle cx="1235.0" cy="1273.6" r="10.5"/><circle cx="1236.1" cy="1267.7" r="10.5"/><circle cx="1237.3" cy="1268.7" r="10.5"/><circle cx="1238.4" cy="1277.8" r="10.5"/><circle cx="1239.5" cy="1267.8" r="10.5"/><circle cx="1240.6" cy="1279.7" r="10.5"/><circle cx="1241.8" cy="1275.2" r="10.5"/><circle cx="1242.9" cy="1278.2" r="10.5"/><circle cx="1244.0" cy="1272.0" r="10.5"/><circle cx="1245.1" cy="1268.7" r="10.5"/><circle cx="1246.2" cy="1271.3" r="10.5"/><circle cx="1247.4" cy="1279.8" r="10.5"/><circle cx="1248.5" cy="1267.7" r="10.5"/><circle cx="1249.6" cy="1268.0" r="10.5"/><circle cx="1250.7" cy="1274.8" r="10.5"/><circle cx="1251.9" cy="1269.8" r="10.5"/><circle cx="1253.0" cy="1275.7" r="10.5"/><circle cx="1254.1" cy="1277.1" r="10.5"/><circle cx="1255.2" cy="1277.4" r="10.5"/><circle cx="1256.4" cy="1281.8" r="10.5"/><circle cx="1257.5" cy="1275.7" r="10.5"/><circle cx="1258.6" cy="1277.3" r="10.5"/><circle cx="1259.7" cy="1274.6" r="10.5"/><circle cx="1260.8" cy="1267.7" r="10.5"/><circle cx="1262.0" cy="1267.9" r="10.5"/><circle cx="1263.1" cy="1278.3" r="10.5"/><circle cx="1264.2" cy="1270.7" r="10.5"/><circle cx="1265.3" cy="1280.3" r="10.5"/><circle cx="1266.5" cy="1268.8" r="10.5"/><circle cx="1267.6" cy="1278.4" r="10.5"/><circle cx="1268.7" cy="1268.6" r="10.5"/><circle cx="1269.8" cy="1271.8" r="10.5"/><circle cx="1270.9" cy="1281.3" r="10.5"/><circle cx="1272.1" cy="1275.9" r="10.5"/><circle cx="1273.2" cy="1268.3" r="10.5"/><circle cx="1274.3" cy="1270.3" r="10.5"/><circle cx="1275.4" cy="1269.5" r="10.5"/><circle cx="1276.6" cy="1269.3" r="10.5"/><circle cx="1277.7" cy="1277.0" r="10.5"/><circle cx="1278.8" cy="1268.4" r="10.5"/><circle cx="1279.9" cy="1280.1" r="10.5"/><circle cx="1281.0" cy="1278.4" r="10.5"/><circle cx="1282.2" cy="1279.6" r="10.5"/><circle cx="1283.3" cy="1278.9" r="10.5"/><circle cx="1284.4" cy="1277.4" r="10.5"/><circle cx="1285.5" cy="1277.6" r="10.5"/><circle cx="1286.7" cy="1279.2" r="10.5"/><circle cx="1287.8" cy="1281.5" r="10.5"/><circle cx="1288.9" cy="1281.5" r="10.5"/><circle cx="1290.0" cy="1273.6" r="10.5"/><circle cx="1291.1" cy="1274.7" r="10.5"/><circle cx="1292.3" cy="1280.1" r="10.5"/><circle cx="1293.4" cy="1275.3" r="10.5"/><circle cx="1294.5" cy="1269.3" r="10.5"/><circle cx="1295.6" cy="1274.1" r="10.5"/><circle cx="1296.8" cy="1267.1" r="10.5"/><circle cx="1297.9" cy="1269.3" r="10.5"/><circle cx="1299.0" cy="1272.1" r="10.5"/><circle cx="1300.1" cy="1276.3" r="10.5"/><circle cx="1301.2" cy="1279.5" r="10.5"/><circle cx="1302.4" cy="1270.5" r="10.5"/><circle cx="1303.5" cy="1278.9" r="10.5"/><circle cx="1304.6" cy="1268.9" r="10.5"/><circle cx="1305.7" cy="1271.4" r="10.5"/><circle cx="1306.9" cy="1277.7" r="10.5"/><circle cx="1308.0" cy="1274.5" r="10.5"/><circle cx="1309.1" cy="1274.6" r="10.5"/><circle cx="1310.2" cy="1267.0" r="10.5"/><circle cx="1311.4" cy="1273.1" r="10.5"/><circle cx="1312.5" cy="1266.9" r="10.5"/><circle cx="1313.6" cy="1275.8" r="10.5"/><circle cx="1314.7" cy="1275.4" r="10.5"/><circle cx="1315.8" cy="1273.6" r="10.5"/><circle cx="1317.0" cy="1273.5" r="10.5"/><circle cx="1318.1" cy="1277.1" r="10.5"/><circle cx="1319.2" cy="1275.0" r="10.5"/><circle cx="1320.3" cy="1280.5" r="10.5"/><circle cx="1321.5" cy="1277.4" r="10.5"/><circle cx="1322.6" cy="1273.0" r="10.5"/><circle cx="1323.7" cy="1271.1" r="10.5"/><circle cx="1324.8" cy="1267.8" r="10.5"/><circle cx="1325.9" cy="1275.9" r="10.5"/><circle cx="1327.1" cy="1278.5" r="10.5"/><circle cx="1328.2" cy="1271.2" r="10.5"/><circle cx="1329.3" cy="1268.3" r="10.5"/><circle cx="1330.4" cy="1271.3" r="10.5"/><circle cx="1331.6" cy="1268.6" r="10.5"/><circle cx="1332.7" cy="1272.8" r="10.5"/><circle cx="1333.8" cy="1268.1" r="10.5"/><circle cx="1334.9" cy="1268.2" r="10.5"/><circle cx="1336.0" cy="1267.2" r="10.5"/><circle cx="1337.2" cy="1270.1" r="10.5"/><circle cx="1338.3" cy="1279.8" r="10.5"/><circle cx="1339.4" cy="1274.9" r="10.5"/><circle cx="1340.5" cy="1267.9" r="10.5"/><circle cx="1341.7" cy="1270.9" r="10.5"/><circle cx="1342.8" cy="1270.1" r="10.5"/><circle cx="1343.9" cy="1280.0" r="10.5"/><circle cx="1345.0" cy="1269.0" r="10.5"/><circle cx="1346.1" cy="1272.1" r="10.5"/><circle cx="1347.3" cy="1278.9" r="10.5"/><circle cx="1348.4" cy="1276.2" r="10.5"/><circle cx="1349.5" cy="1275.9" r="10.5"/><circle cx="1350.6" cy="1276.8" r="10.5"/><circle cx="1351.8" cy="1265.4" r="10.5"/><circle cx="1352.9" cy="1274.0" r="10.5"/><circle cx="1354.0" cy="1269.6" r="10.5"/><circle cx="1355.1" cy="1270.5" r="10.5"/><circle cx="1356.2" cy="1278.4" r="10.5"/><circle cx="1357.4" cy="1275.7" r="10.5"/><circle cx="1358.5" cy="1275.0" r="10.5"/><circle cx="1359.6" cy="1279.2" r="10.5"/><circle cx="1360.7" cy="1275.4" r="10.5"/><circle cx="1361.9" cy="1269.1" r="10.5"/><circle cx="1363.0" cy="1275.0" r="10.5"/><circle cx="1364.1" cy="1272.4" r="10.5"/><circle cx="1365.2" cy="1277.4" r="10.5"/><circle cx="1366.4" cy="1276.2" r="10.5"/><circle cx="1367.5" cy="1265.3" r="10.5"/><circle cx="1368.6" cy="1272.3" r="10.5"/><circle cx="1369.7" cy="1264.8" r="10.5"/><circle cx="1370.8" cy="1275.0" r="10.5"/><circle cx="1372.0" cy="1265.0" r="10.5"/><circle cx="1373.1" cy="1270.4" r="10.5"/><circle cx="1374.2" cy="1271.2" r="10.5"/><circle cx="1375.3" cy="1276.9" r="10.5"/><circle cx="1376.5" cy="1271.3" r="10.5"/><circle cx="1377.6" cy="1268.4" r="10.5"/><circle cx="1378.7" cy="1265.6" r="10.5"/><circle cx="1379.8" cy="1278.4" r="10.5"/><circle cx="1380.9" cy="1271.5" r="10.5"/><circle cx="1382.1" cy="1274.3" r="10.5"/><circle cx="1383.2" cy="1273.7" r="10.5"/><circle cx="1384.3" cy="1266.3" r="10.5"/><circle cx="1385.4" cy="1267.6" r="10.5"/><circle cx="1386.6" cy="1276.9" r="10.5"/><circle cx="1387.7" cy="1268.2" r="10.5"/><circle cx="1388.8" cy="1274.4" r="10.5"/><circle cx="1389.9" cy="1272.9" r="10.5"/><circle cx="1391.0" cy="1270.0" r="10.5"/><circle cx="1392.2" cy="1272.4" r="10.5"/><circle cx="1393.3" cy="1278.0" r="10.5"/><circle cx="1394.4" cy="1266.4" r="10.5"/><circle cx="1395.5" cy="1265.0" r="10.5"/><circle cx="1396.7" cy="1274.9" r="10.5"/><circle cx="1397.8" cy="1276.0" r="10.5"/><circle cx="1398.9" cy="1264.7" r="10.5"/><circle cx="1400.0" cy="1266.9" r="10.5"/><circle cx="1401.1" cy="1265.4" r="10.5"/><circle cx="1402.3" cy="1270.8" r="10.5"/><circle cx="1403.4" cy="1278.2" r="10.5"/><circle cx="1404.5" cy="1272.3" r="10.5"/><circle cx="1405.6" cy="1269.5" r="10.5"/><circle cx="1406.8" cy="1278.3" r="10.5"/><circle cx="1407.9" cy="1277.2" r="10.5"/><circle cx="1409.0" cy="1274.0" r="10.5"/><circle cx="1410.1" cy="1268.2" r="10.5"/><circle cx="1411.2" cy="1275.3" r="10.5"/><circle cx="1412.4" cy="1274.8" r="10.5"/><circle cx="1413.5" cy="1273.4" r="10.5"/><circle cx="1414.6" cy="1276.9" r="10.5"/><circle cx="1415.7" cy="1266.0" r="10.5"/><circle cx="1416.9" cy="1276.1" r="10.5"/><circle cx="1418.0" cy="1264.7" r="10.5"/><circle cx="1419.1" cy="1277.4" r="10.5"/><circle cx="1420.2" cy="1278.1" r="10.5"/><circle cx="1421.4" cy="1278.1" r="10.5"/><circle cx="1422.5" cy="1275.7" r="10.5"/><circle cx="1423.6" cy="1266.5" r="10.5"/><circle cx="1424.7" cy="1273.5" r="10.5"/><circle cx="1425.8" cy="1271.9" r="10.5"/><circle cx="1427.0" cy="1274.6" r="10.5"/><circle cx="1428.1" cy="1275.6" r="10.5"/><circle cx="1429.2" cy="1277.8" r="10.5"/><circle cx="1430.3" cy="1270.4" r="10.5"/><circle cx="1431.5" cy="1276.5" r="10.5"/><circle cx="1432.6" cy="1276.1" r="10.5"/><circle cx="1433.7" cy="1273.2" r="10.5"/><circle cx="1434.8" cy="1267.2" r="10.5"/><circle cx="1435.9" cy="1279.4" r="10.5"/><circle cx="1437.1" cy="1269.3" r="10.5"/><circle cx="1438.2" cy="1272.8" r="10.5"/><circle cx="1439.3" cy="1279.7" r="10.5"/><circle cx="1440.4" cy="1266.1" r="10.5"/><circle cx="1441.6" cy="1267.1" r="10.5"/><circle cx="1442.7" cy="1276.1" r="10.5"/><circle cx="1443.8" cy="1277.4" r="10.5"/><circle cx="1444.9" cy="1269.6" r="10.5"/><circle cx="1446.0" cy="1269.0" r="10.5"/><circle cx="1447.2" cy="1268.4" r="10.5"/><circle cx="1448.3" cy="1271.5" r="10.5"/><circle cx="1449.4" cy="1268.1" r="10.5"/><circle cx="1450.5" cy="1266.0" r="10.5"/><circle cx="1451.7" cy="1275.0" r="10.5"/><circle cx="1452.8" cy="1275.8" r="10.5"/><circle cx="1453.9" cy="1269.1" r="10.5"/><circle cx="1455.0" cy="1278.4" r="10.5"/><circle cx="1456.1" cy="1270.8" r="10.5"/><circle cx="1457.3" cy="1276.0" r="10.5"/><circle cx="1458.4" cy="1279.1" r="10.5"/><circle cx="1459.5" cy="1272.4" r="10.5"/><circle cx="1460.6" cy="1269.7" r="10.5"/><circle cx="1461.8" cy="1272.1" r="10.5"/><circle cx="1462.9" cy="1275.4" r="10.5"/><circle cx="1464.0" cy="1268.6" r="10.5"/><circle cx="1465.1" cy="1278.6" r="10.5"/><circle cx="1466.3" cy="1269.0" r="10.5"/><circle cx="1467.4" cy="1275.1" r="10.5"/><circle cx="1468.5" cy="1265.2" r="10.5"/><circle cx="1469.6" cy="1278.2" r="10.5"/><circle cx="1470.7" cy="1272.5" r="10.5"/><circle cx="1471.9" cy="1275.7" r="10.5"/><circle cx="1473.0" cy="1267.7" r="10.5"/><circle cx="1474.1" cy="1275.5" r="10.5"/><circle cx="1475.2" cy="1273.9" r="10.5"/><circle cx="1476.4" cy="1275.0" r="10.5"/><circle cx="1477.5" cy="1267.2" r="10.5"/><circle cx="1478.6" cy="1264.3" r="10.5"/><circle cx="1479.7" cy="1275.5" r="10.5"/><circle cx="1480.8" cy="1272.1" r="10.5"/><circle cx="1482.0" cy="1264.2" r="10.5"/><circle cx="1483.1" cy="1272.4" r="10.5"/><circle cx="1484.2" cy="1263.8" r="10.5"/><circle cx="1485.3" cy="1277.4" r="10.5"/><circle cx="1486.5" cy="1272.3" r="10.5"/><circle cx="1487.6" cy="1265.1" r="10.5"/><circle cx="1488.7" cy="1263.4" r="10.5"/><circle cx="1489.8" cy="1273.2" r="10.5"/><circle cx="1490.9" cy="1264.2" r="10.5"/><circle cx="1492.1" cy="1277.5" r="10.5"/><circle cx="1493.2" cy="1272.4" r="10.5"/><circle cx="1494.3" cy="1273.1" r="10.5"/><circle cx="1495.4" cy="1277.9" r="10.5"/><circle cx="1496.6" cy="1272.8" r="10.5"/><circle cx="1497.7" cy="1276.2" r="10.5"/><circle cx="1498.8" cy="1274.9" r="10.5"/><circle cx="1499.9" cy="1265.9" r="10.5"/><circle cx="1501.0" cy="1271.6" r="10.5"/><circle cx="1502.2" cy="1271.0" r="10.5"/><circle cx="1503.3" cy="1264.5" r="10.5"/><circle cx="1504.4" cy="1272.7" r="10.5"/><circle cx="1505.5" cy="1277.6" r="10.5"/><circle cx="1506.7" cy="1266.1" r="10.5"/><circle cx="1507.8" cy="1277.5" r="10.5"/><circle cx="1508.9" cy="1277.2" r="10.5"/><circle cx="1510.0" cy="1274.4" r="10.5"/><circle cx="1511.1" cy="1264.9" r="10.5"/><circle cx="1512.3" cy="1274.2" r="10.5"/><circle cx="1513.4" cy="1269.1" r="10.5"/><circle cx="1514.5" cy="1267.7" r="10.5"/><circle cx="1515.6" cy="1274.2" r="10.5"/><circle cx="1516.8" cy="1267.2" r="10.5"/><circle cx="1517.9" cy="1269.0" r="10.5"/><circle cx="1519.0" cy="1278.0" r="10.5"/><circle cx="1520.1" cy="1271.4" r="10.5"/><circle cx="1521.3" cy="1264.4" r="10.5"/><circle cx="1522.4" cy="1274.7" r="10.5"/><circle cx="1523.5" cy="1271.2" r="10.5"/><circle cx="1524.6" cy="1275.8" r="10.5"/><circle cx="1525.7" cy="1267.6" r="10.5"/><circle cx="1526.9" cy="1267.1" r="10.5"/><circle cx="1528.0" cy="1273.7" r="10.5"/><circle cx="1529.1" cy="1273.2" r="10.5"/><circle cx="1530.2" cy="1277.3" r="10.5"/><circle cx="1531.4" cy="1267.4" r="10.5"/><circle cx="1532.5" cy="1277.5" r="10.5"/><circle cx="1533.6" cy="1270.3" r="10.5"/><circle cx="1534.7" cy="1264.0" r="10.5"/><circle cx="1535.8" cy="1263.9" r="10.5"/><circle cx="1537.0" cy="1277.2" r="10.5"/><circle cx="1538.1" cy="1271.0" r="10.5"/><circle cx="1539.2" cy="1271.8" r="10.5"/><circle cx="1540.3" cy="1272.2" r="10.5"/><circle cx="1541.5" cy="1268.3" r="10.5"/><circle cx="1542.6" cy="1265.7" r="10.5"/><circle cx="1543.7" cy="1276.4" r="10.5"/><circle cx="1544.8" cy="1273.8" r="10.5"/><circle cx="1545.9" cy="1272.5" r="10.5"/><circle cx="1547.1" cy="1275.0" r="10.5"/><circle cx="1548.2" cy="1274.3" r="10.5"/><circle cx="1549.3" cy="1264.8" r="10.5"/><circle cx="1550.4" cy="1272.9" r="10.5"/><circle cx="1551.6" cy="1263.0" r="10.5"/><circle cx="1552.7" cy="1274.1" r="10.5"/><circle cx="1553.8" cy="1267.8" r="10.5"/><circle cx="1554.9" cy="1275.8" r="10.5"/><circle cx="1556.0" cy="1265.1" r="10.5"/><circle cx="1557.2" cy="1263.6" r="10.5"/><circle cx="1558.3" cy="1272.6" r="10.5"/><circle cx="1559.4" cy="1274.0" r="10.5"/><circle cx="1560.5" cy="1268.1" r="10.5"/><circle cx="1561.7" cy="1271.1" r="10.5"/><circle cx="1562.8" cy="1269.8" r="10.5"/><circle cx="1563.9" cy="1264.8" r="10.5"/><circle cx="1565.0" cy="1274.6" r="10.5"/><circle cx="1566.1" cy="1266.9" r="10.5"/><circle cx="1567.3" cy="1270.4" r="10.5"/><circle cx="1568.4" cy="1272.7" r="10.5"/><circle cx="1569.5" cy="1266.8" r="10.5"/><circle cx="1570.6" cy="1272.4" r="10.5"/><circle cx="1571.8" cy="1270.5" r="10.5"/><circle cx="1572.9" cy="1272.4" r="10.5"/><circle cx="1574.0" cy="1272.0" r="10.5"/><circle cx="1575.1" cy="1266.8" r="10.5"/><circle cx="1576.3" cy="1273.2" r="10.5"/><circle cx="1577.4" cy="1266.5" r="10.5"/><circle cx="1578.5" cy="1273.1" r="10.5"/><circle cx="1579.6" cy="1264.1" r="10.5"/><circle cx="1580.7" cy="1270.0" r="10.5"/><circle cx="1581.9" cy="1260.0" r="10.5"/><circle cx="1583.0" cy="1265.6" r="10.5"/><circle cx="1584.1" cy="1267.7" r="10.5"/><circle cx="1585.2" cy="1259.0" r="10.5"/><circle cx="1586.4" cy="1270.7" r="10.5"/><circle cx="1587.5" cy="1270.5" r="10.5"/><circle cx="1588.6" cy="1260.1" r="10.5"/><circle cx="1589.7" cy="1261.2" r="10.5"/><circle cx="1590.8" cy="1260.2" r="10.5"/><circle cx="1592.0" cy="1270.8" r="10.5"/><circle cx="1593.1" cy="1265.0" r="10.5"/><circle cx="1594.2" cy="1259.6" r="10.5"/><circle cx="1595.3" cy="1263.8" r="10.5"/><circle cx="1596.5" cy="1265.5" r="10.5"/><circle cx="1597.6" cy="1268.7" r="10.5"/><circle cx="1598.7" cy="1259.2" r="10.5"/><circle cx="1599.8" cy="1265.6" r="10.5"/><circle cx="1600.9" cy="1258.5" r="10.5"/><circle cx="1602.1" cy="1270.9" r="10.5"/><circle cx="1603.2" cy="1258.4" r="10.5"/><circle cx="1604.3" cy="1272.0" r="10.5"/><circle cx="1605.4" cy="1267.1" r="10.5"/><circle cx="1606.6" cy="1263.7" r="10.5"/><circle cx="1607.7" cy="1270.5" r="10.5"/><circle cx="1608.8" cy="1269.6" r="10.5"/><circle cx="1609.9" cy="1260.4" r="10.5"/><circle cx="1611.0" cy="1270.2" r="10.5"/><circle cx="1612.2" cy="1267.1" r="10.5"/><circle cx="1613.3" cy="1267.4" r="10.5"/><circle cx="1614.4" cy="1269.5" r="10.5"/><circle cx="1615.5" cy="1260.0" r="10.5"/><circle cx="1616.7" cy="1265.0" r="10.5"/><circle cx="1617.8" cy="1272.8" r="10.5"/><circle cx="1618.9" cy="1271.7" r="10.5"/><circle cx="1620.0" cy="1265.4" r="10.5"/><circle cx="1621.2" cy="1269.1" r="10.5"/><circle cx="1622.3" cy="1265.2" r="10.5"/><circle cx="1623.4" cy="1264.1" r="10.5"/><circle cx="1624.5" cy="1267.5" r="10.5"/><circle cx="1625.6" cy="1265.0" r="10.5"/><circle cx="1626.8" cy="1270.7" r="10.5"/><circle cx="1627.9" cy="1262.8" r="10.5"/><circle cx="1629.0" cy="1271.8" r="10.5"/><circle cx="1630.1" cy="1273.0" r="10.5"/><circle cx="1631.3" cy="1268.3" r="10.5"/><circle cx="1632.4" cy="1268.3" r="10.5"/><circle cx="1633.5" cy="1274.3" r="10.5"/><circle cx="1634.6" cy="1273.8" r="10.5"/><circle cx="1635.7" cy="1263.7" r="10.5"/><circle cx="1636.9" cy="1274.4" r="10.5"/><circle cx="1638.0" cy="1269.8" r="10.5"/><circle cx="1639.1" cy="1273.4" r="10.5"/><circle cx="1640.2" cy="1260.9" r="10.5"/><circle cx="1641.4" cy="1263.7" r="10.5"/><circle cx="1642.5" cy="1261.3" r="10.5"/><circle cx="1643.6" cy="1261.8" r="10.5"/><circle cx="1644.7" cy="1273.5" r="10.5"/><circle cx="1645.8" cy="1262.3" r="10.5"/><circle cx="1647.0" cy="1270.9" r="10.5"/><circle cx="1648.1" cy="1273.8" r="10.5"/><circle cx="1649.2" cy="1272.2" r="10.5"/><circle cx="1650.3" cy="1274.2" r="10.5"/><circle cx="1651.5" cy="1262.8" r="10.5"/><circle cx="1652.6" cy="1272.5" r="10.5"/><circle cx="1653.7" cy="1271.7" r="10.5"/><circle cx="1654.8" cy="1273.8" r="10.5"/><circle cx="1655.9" cy="1262.7" r="10.5"/><circle cx="1657.1" cy="1263.3" r="10.5"/><circle cx="1658.2" cy="1264.9" r="10.5"/><circle cx="1659.3" cy="1268.7" r="10.5"/><circle cx="1660.4" cy="1271.2" r="10.5"/><circle cx="1661.6" cy="1268.3" r="10.5"/><circle cx="1662.7" cy="1263.4" r="10.5"/><circle cx="1663.8" cy="1261.8" r="10.5"/><circle cx="1664.9" cy="1270.5" r="10.5"/><circle cx="1666.0" cy="1272.4" r="10.5"/><circle cx="1667.2" cy="1267.7" r="10.5"/><circle cx="1668.3" cy="1264.9" r="10.5"/><circle cx="1669.4" cy="1273.5" r="10.5"/><circle cx="1670.5" cy="1275.3" r="10.5"/><circle cx="1671.7" cy="1272.2" r="10.5"/><circle cx="1672.8" cy="1261.3" r="10.5"/><circle cx="1673.9" cy="1266.0" r="10.5"/><circle cx="1675.0" cy="1275.6" r="10.5"/><circle cx="1676.2" cy="1273.3" r="10.5"/><circle cx="1677.3" cy="1269.0" r="10.5"/><circle cx="1678.4" cy="1262.1" r="10.5"/><circle cx="1679.5" cy="1271.8" r="10.5"/><circle cx="1680.6" cy="1274.7" r="10.5"/><circle cx="1681.8" cy="1269.6" r="10.5"/><circle cx="1682.9" cy="1269.5" r="10.5"/><circle cx="1684.0" cy="1266.0" r="10.5"/><circle cx="1685.1" cy="1271.4" r="10.5"/><circle cx="1686.3" cy="1267.3" r="10.5"/><circle cx="1687.4" cy="1260.3" r="10.5"/><circle cx="1688.5" cy="1271.8" r="10.5"/><circle cx="1689.6" cy="1264.4" r="10.5"/><circle cx="1690.7" cy="1262.1" r="10.5"/><circle cx="1691.9" cy="1269.6" r="10.5"/><circle cx="1693.0" cy="1263.8" r="10.5"/><circle cx="1694.1" cy="1268.0" r="10.5"/><circle cx="1695.2" cy="1266.5" r="10.5"/><circle cx="1696.4" cy="1262.0" r="10.5"/><circle cx="1697.5" cy="1259.4" r="10.5"/><circle cx="1698.6" cy="1264.7" r="10.5"/></g>
<path d="M1090.6 1194.7V1209.7M1087.6 1194.7h6M1087.6 1209.7h6M1091.2 1230.8V1245.5M1088.2 1230.8h6M1088.2 1245.5h6M1091.8 1251.4V1271.9M1088.8 1251.4h6M1088.8 1271.9h6M1092.4 1262.8V1288.8M1089.4 1262.8h6M1089.4 1288.8h6M1093.0 1274.6V1299.6M1090.0 1274.6h6M1090.0 1299.6h6M1093.6 1282.8V1308.4M1090.6 1282.8h6M1090.6 1308.4h6M1094.2 1293.8V1308.7M1091.2 1293.8h6M1091.2 1308.7h6M1094.9 1294.7V1319.2M1091.9 1294.7h6M1091.9 1319.2h6M1095.5 1296.6V1323.0M1092.5 1296.6h6M1092.5 1323.0h6M1096.1 1306.8V1318.4M1093.1 1306.8h6M1093.1 1318.4h6M1096.7 1303.3V1327.6M1093.7 1303.3h6M1093.7 1327.6h6M1097.3 1305.1V1328.6M1094.3 1305.1h6M1094.3 1328.6h6M1097.9 1311.2V1325.4M1094.9 1311.2h6M1094.9 1325.4h6M1098.5 1311.2V1333.4M1095.5 1311.2h6M1095.5 1333.4h6M1099.1 1310.2V1323.9M1096.1 1310.2h6M1096.1 1323.9h6M1099.7 1306.3V1329.9M1096.7 1306.3h6M1096.7 1329.9h6M1100.3 1288.9V1337.1M1097.3 1288.9h6M1097.3 1337.1h6M1100.9 1295.3V1334.2M1097.9 1295.3h6M1097.9 1334.2h6M1101.5 1311.7V1340.2M1098.5 1311.7h6M1098.5 1340.2h6M1102.2 1299.7V1348.3M1099.2 1299.7h6M1099.2 1348.3h6M1102.8 1302.9V1350.5M1099.8 1302.9h6M1099.8 1350.5h6M1103.4 1302.8V1335.3M1100.4 1302.8h6M1100.4 1335.3h6M1104.0 1299.9V1342.1M1101.0 1299.9h6M1101.0 1342.1h6M1104.6 1305.4V1356.5M1101.6 1305.4h6M1101.6 1356.5h6M1105.2 1293.4V1344.2M1102.2 1293.4h6M1102.2 1344.2h6M1105.8 1306.5V1347.1M1102.8 1306.5h6M1102.8 1347.1h6M1106.4 1304.5V1343.8M1103.4 1304.5h6M1103.4 1343.8h6M1107.0 1295.3V1337.8M1104.0 1295.3h6M1104.0 1337.8h6M1107.6 1314.2V1345.5M1104.6 1314.2h6M1104.6 1345.5h6M1108.2 1307.5V1338.9M1105.2 1307.5h6M1105.2 1338.9h6M1108.8 1302.6V1333.7M1105.8 1302.6h6M1105.8 1333.7h6M1109.4 1288.6V1334.3M1106.4 1288.6h6M1106.4 1334.3h6M1110.1 1308.7V1344.8M1107.1 1308.7h6M1107.1 1344.8h6M1110.7 1313.7V1355.5M1107.7 1313.7h6M1107.7 1355.5h6M1111.3 1319.8V1357.0M1108.3 1319.8h6M1108.3 1357.0h6M1111.9 1296.8V1337.3M1108.9 1296.8h6M1108.9 1337.3h6M1112.5 1298.5V1328.6M1109.5 1298.5h6M1109.5 1328.6h6M1113.1 1305.5V1332.8M1110.1 1305.5h6M1110.1 1332.8h6M1113.7 1296.0V1349.9M1110.7 1296.0h6M1110.7 1349.9h6M1114.3 1296.0V1332.5M1111.3 1296.0h6M1111.3 1332.5h6M1114.9 1312.2V1341.2M1111.9 1312.2h6M1111.9 1341.2h6M1116.0 1319.4V1363.1M1113.0 1319.4h6M1113.0 1363.1h6M1117.2 1297.2V1345.2M1114.2 1297.2h6M1114.2 1345.2h6M1118.3 1300.2V1330.6M1115.3 1300.2h6M1115.3 1330.6h6M1119.4 1309.3V1352.0M1116.4 1309.3h6M1116.4 1352.0h6M1120.5 1325.5V1361.2M1117.5 1325.5h6M1117.5 1361.2h6M1121.7 1318.2V1358.8M1118.7 1318.2h6M1118.7 1358.8h6M1122.8 1329.1V1355.7M1119.8 1329.1h6M1119.8 1355.7h6M1123.9 1326.7V1353.6M1120.9 1326.7h6M1120.9 1353.6h6M1125.0 1304.4V1358.1M1122.0 1304.4h6M1122.0 1358.1h6M1126.1 1317.0V1367.2M1123.1 1317.0h6M1123.1 1367.2h6M1127.3 1306.2V1345.8M1124.3 1306.2h6M1124.3 1345.8h6M1128.4 1295.9V1337.8M1125.4 1295.9h6M1125.4 1337.8h6M1129.5 1319.0V1352.3M1126.5 1319.0h6M1126.5 1352.3h6M1130.6 1309.1V1356.9M1127.6 1309.1h6M1127.6 1356.9h6M1131.8 1293.4V1331.3M1128.8 1293.4h6M1128.8 1331.3h6M1132.9 1313.2V1365.7M1129.9 1313.2h6M1129.9 1365.7h6M1134.0 1313.9V1361.3M1131.0 1313.9h6M1131.0 1361.3h6M1135.1 1300.9V1349.9M1132.1 1300.9h6M1132.1 1349.9h6M1136.2 1319.2V1372.2M1133.2 1319.2h6M1133.2 1372.2h6M1137.4 1316.6V1349.7M1134.4 1316.6h6M1134.4 1349.7h6M1138.5 1299.6V1326.6M1135.5 1299.6h6M1135.5 1326.6h6M1139.6 1312.5V1344.1M1136.6 1312.5h6M1136.6 1344.1h6M1140.7 1307.3V1338.4M1137.7 1307.3h6M1137.7 1338.4h6M1141.9 1301.0V1329.4M1138.9 1301.0h6M1138.9 1329.4h6M1143.0 1302.4V1329.8M1140.0 1302.4h6M1140.0 1329.8h6M1144.1 1312.1V1353.7M1141.1 1312.1h6M1141.1 1353.7h6M1145.2 1317.7V1368.1M1142.2 1317.7h6M1142.2 1368.1h6M1146.3 1325.0V1363.8M1143.3 1325.0h6M1143.3 1363.8h6M1147.5 1313.1V1365.7M1144.5 1313.1h6M1144.5 1365.7h6M1148.6 1309.2V1360.7M1145.6 1309.2h6M1145.6 1360.7h6M1149.7 1332.8V1360.6M1146.7 1332.8h6M1146.7 1360.6h6M1150.8 1321.9V1364.7M1147.8 1321.9h6M1147.8 1364.7h6M1152.0 1327.4V1364.5M1149.0 1327.4h6M1149.0 1364.5h6M1153.1 1311.0V1340.4M1150.1 1311.0h6M1150.1 1340.4h6M1154.2 1311.8V1364.7M1151.2 1311.8h6M1151.2 1364.7h6M1155.3 1317.8V1351.0M1152.3 1317.8h6M1152.3 1351.0h6M1156.5 1296.8V1338.6M1153.5 1296.8h6M1153.5 1338.6h6M1157.6 1309.0V1352.9M1154.6 1309.0h6M1154.6 1352.9h6M1158.7 1317.8V1370.5M1155.7 1317.8h6M1155.7 1370.5h6M1159.8 1312.9V1357.7M1156.8 1312.9h6M1156.8 1357.7h6M1160.9 1300.1V1337.1M1157.9 1300.1h6M1157.9 1337.1h6M1162.1 1327.1V1365.7M1159.1 1327.1h6M1159.1 1365.7h6M1163.2 1313.8V1344.2M1160.2 1313.8h6M1160.2 1344.2h6M1164.3 1302.0V1355.0M1161.3 1302.0h6M1161.3 1355.0h6M1165.4 1302.2V1355.9M1162.4 1302.2h6M1162.4 1355.9h6M1166.6 1301.4V1333.6M1163.6 1301.4h6M1163.6 1333.6h6M1167.7 1324.8V1351.8M1164.7 1324.8h6M1164.7 1351.8h6M1168.8 1325.0V1358.2M1165.8 1325.0h6M1165.8 1358.2h6M1169.9 1311.0V1346.9M1166.9 1311.0h6M1166.9 1346.9h6M1171.0 1310.3V1361.6M1168.0 1310.3h6M1168.0 1361.6h6M1172.2 1293.7V1345.0M1169.2 1293.7h6M1169.2 1345.0h6M1173.3 1293.2V1342.6M1170.3 1293.2h6M1170.3 1342.6h6M1174.4 1305.5V1332.8M1171.4 1305.5h6M1171.4 1332.8h6M1175.5 1315.5V1363.6M1172.5 1315.5h6M1172.5 1363.6h6M1176.7 1312.2V1358.0M1173.7 1312.2h6M1173.7 1358.0h6M1177.8 1324.4V1368.5M1174.8 1324.4h6M1174.8 1368.5h6M1178.9 1311.6V1365.2M1175.9 1311.6h6M1175.9 1365.2h6M1180.0 1300.6V1328.1M1177.0 1300.6h6M1177.0 1328.1h6M1181.1 1300.0V1330.0M1178.1 1300.0h6M1178.1 1330.0h6M1182.3 1290.8V1338.0M1179.3 1290.8h6M1179.3 1338.0h6M1183.4 1313.6V1365.9M1180.4 1313.6h6M1180.4 1365.9h6M1184.5 1318.1V1363.0M1181.5 1318.1h6M1181.5 1363.0h6M1185.6 1308.6V1343.0M1182.6 1308.6h6M1182.6 1343.0h6M1186.8 1297.0V1339.6M1183.8 1297.0h6M1183.8 1339.6h6M1187.9 1301.2V1348.4M1184.9 1301.2h6M1184.9 1348.4h6M1189.0 1329.9V1358.9M1186.0 1329.9h6M1186.0 1358.9h6M1190.1 1298.4V1333.4M1187.1 1298.4h6M1187.1 1333.4h6M1191.2 1304.8V1338.0M1188.2 1304.8h6M1188.2 1338.0h6M1192.4 1326.4V1355.9M1189.4 1326.4h6M1189.4 1355.9h6M1193.5 1316.1V1355.5M1190.5 1316.1h6M1190.5 1355.5h6M1194.6 1298.4V1329.1M1191.6 1298.4h6M1191.6 1329.1h6M1195.7 1317.1V1349.8M1192.7 1317.1h6M1192.7 1349.8h6M1196.9 1307.2V1337.2M1193.9 1307.2h6M1193.9 1337.2h6M1198.0 1320.4V1365.4M1195.0 1320.4h6M1195.0 1365.4h6M1199.1 1302.8V1329.2M1196.1 1302.8h6M1196.1 1329.2h6M1200.2 1319.2V1365.3M1197.2 1319.2h6M1197.2 1365.3h6M1201.3 1297.7V1329.1M1198.3 1297.7h6M1198.3 1329.1h6M1202.5 1321.7V1348.7M1199.5 1321.7h6M1199.5 1348.7h6M1203.6 1316.7V1368.7M1200.6 1316.7h6M1200.6 1368.7h6M1204.7 1297.6V1329.8M1201.7 1297.6h6M1201.7 1329.8h6M1205.8 1303.0V1355.1M1202.8 1303.0h6M1202.8 1355.1h6M1207.0 1307.1V1357.4M1204.0 1307.1h6M1204.0 1357.4h6M1208.1 1293.3V1344.2M1205.1 1293.3h6M1205.1 1344.2h6M1209.2 1323.6V1353.5M1206.2 1323.6h6M1206.2 1353.5h6M1210.3 1319.7V1358.2M1207.3 1319.7h6M1207.3 1358.2h6M1211.5 1324.0V1352.7M1208.5 1324.0h6M1208.5 1352.7h6M1212.6 1316.8V1368.8M1209.6 1316.8h6M1209.6 1368.8h6M1213.7 1310.3V1359.9M1210.7 1310.3h6M1210.7 1359.9h6M1214.8 1305.4V1348.9M1211.8 1305.4h6M1211.8 1348.9h6M1215.9 1313.4V1352.1M1212.9 1313.4h6M1212.9 1352.1h6M1217.1 1312.2V1347.7M1214.1 1312.2h6M1214.1 1347.7h6M1218.2 1304.7V1353.8M1215.2 1304.7h6M1215.2 1353.8h6M1219.3 1312.4V1351.8M1216.3 1312.4h6M1216.3 1351.8h6M1220.4 1325.4V1369.0M1217.4 1325.4h6M1217.4 1369.0h6M1221.6 1326.4V1356.4M1218.6 1326.4h6M1218.6 1356.4h6M1222.7 1306.2V1338.4M1219.7 1306.2h6M1219.7 1338.4h6M1223.8 1322.3V1349.9M1220.8 1322.3h6M1220.8 1349.9h6M1224.9 1305.2V1351.2M1221.9 1305.2h6M1221.9 1351.2h6M1226.0 1323.0V1364.5M1223.0 1323.0h6M1223.0 1364.5h6M1227.2 1323.8V1353.8M1224.2 1323.8h6M1224.2 1353.8h6M1228.3 1295.5V1345.9M1225.3 1295.5h6M1225.3 1345.9h6M1229.4 1311.3V1344.7M1226.4 1311.3h6M1226.4 1344.7h6M1230.5 1297.1V1334.6M1227.5 1297.1h6M1227.5 1334.6h6M1231.7 1311.1V1341.4M1228.7 1311.1h6M1228.7 1341.4h6M1232.8 1312.9V1346.5M1229.8 1312.9h6M1229.8 1346.5h6M1233.9 1307.0V1356.5M1230.9 1307.0h6M1230.9 1356.5h6M1235.0 1313.2V1348.5M1232.0 1313.2h6M1232.0 1348.5h6M1236.1 1307.9V1338.6M1233.1 1307.9h6M1233.1 1338.6h6M1237.3 1294.9V1334.7M1234.3 1294.9h6M1234.3 1334.7h6M1238.4 1310.6V1345.5M1235.4 1310.6h6M1235.4 1345.5h6M1239.5 1292.7V1344.0M1236.5 1292.7h6M1236.5 1344.0h6M1240.6 1328.5V1357.7M1237.6 1328.5h6M1237.6 1357.7h6M1241.8 1318.1V1371.5M1238.8 1318.1h6M1238.8 1371.5h6M1242.9 1330.9V1358.5M1239.9 1330.9h6M1239.9 1358.5h6M1244.0 1294.6V1345.7M1241.0 1294.6h6M1241.0 1345.7h6M1245.1 1319.5V1364.2M1242.1 1319.5h6M1242.1 1364.2h6M1246.2 1308.4V1340.3M1243.2 1308.4h6M1243.2 1340.3h6M1247.4 1296.9V1336.3M1244.4 1296.9h6M1244.4 1336.3h6M1248.5 1322.5V1356.5M1245.5 1322.5h6M1245.5 1356.5h6M1249.6 1316.6V1349.9M1246.6 1316.6h6M1246.6 1349.9h6M1250.7 1296.9V1328.6M1247.7 1296.9h6M1247.7 1328.6h6M1251.9 1323.2V1359.4M1248.9 1323.2h6M1248.9 1359.4h6M1253.0 1302.1V1355.9M1250.0 1302.1h6M1250.0 1355.9h6M1254.1 1313.0V1367.0M1251.1 1313.0h6M1251.1 1367.0h6M1255.2 1295.8V1347.7M1252.2 1295.8h6M1252.2 1347.7h6M1256.4 1313.1V1341.8M1253.4 1313.1h6M1253.4 1341.8h6M1257.5 1328.8V1362.9M1254.5 1328.8h6M1254.5 1362.9h6M1258.6 1299.3V1350.4M1255.6 1299.3h6M1255.6 1350.4h6M1259.7 1330.3V1357.9M1256.7 1330.3h6M1256.7 1357.9h6M1260.8 1295.9V1342.2M1257.8 1295.9h6M1257.8 1342.2h6M1262.0 1325.4V1359.6M1259.0 1325.4h6M1259.0 1359.6h6M1263.1 1318.0V1371.4M1260.1 1318.0h6M1260.1 1371.4h6M1264.2 1323.4V1349.8M1261.2 1323.4h6M1261.2 1349.8h6M1265.3 1307.0V1355.6M1262.3 1307.0h6M1262.3 1355.6h6M1266.5 1299.7V1335.2M1263.5 1299.7h6M1263.5 1335.2h6M1267.6 1325.5V1355.4M1264.6 1325.5h6M1264.6 1355.4h6M1268.7 1312.8V1338.8M1265.7 1312.8h6M1265.7 1338.8h6M1269.8 1317.6V1366.9M1266.8 1317.6h6M1266.8 1366.9h6M1270.9 1301.1V1341.9M1267.9 1301.1h6M1267.9 1341.9h6M1272.1 1327.0V1358.2M1269.1 1327.0h6M1269.1 1358.2h6M1273.2 1304.0V1342.2M1270.2 1304.0h6M1270.2 1342.2h6M1274.3 1316.2V1367.8M1271.3 1316.2h6M1271.3 1367.8h6M1275.4 1326.4V1358.5M1272.4 1326.4h6M1272.4 1358.5h6M1276.6 1307.9V1349.9M1273.6 1307.9h6M1273.6 1349.9h6M1277.7 1310.4V1340.3M1274.7 1310.4h6M1274.7 1340.3h6M1278.8 1319.6V1350.6M1275.8 1319.6h6M1275.8 1350.6h6M1279.9 1302.2V1349.8M1276.9 1302.2h6M1276.9 1349.8h6M1281.0 1317.3V1363.3M1278.0 1317.3h6M1278.0 1363.3h6M1282.2 1326.4V1358.0M1279.2 1326.4h6M1279.2 1358.0h6M1283.3 1318.9V1347.1M1280.3 1318.9h6M1280.3 1347.1h6M1284.4 1303.2V1331.7M1281.4 1303.2h6M1281.4 1331.7h6M1285.5 1304.7V1347.8M1282.5 1304.7h6M1282.5 1347.8h6M1286.7 1311.5V1351.4M1283.7 1311.5h6M1283.7 1351.4h6M1287.8 1317.8V1351.5M1284.8 1317.8h6M1284.8 1351.5h6M1288.9 1301.9V1333.7M1285.9 1301.9h6M1285.9 1333.7h6M1290.0 1314.9V1358.0M1287.0 1314.9h6M1287.0 1358.0h6M1291.1 1287.7V1333.5M1288.1 1287.7h6M1288.1 1333.5h6M1292.3 1290.1V1338.8M1289.3 1290.1h6M1289.3 1338.8h6M1293.4 1304.4V1346.7M1290.4 1304.4h6M1290.4 1346.7h6M1294.5 1313.1V1344.8M1291.5 1313.1h6M1291.5 1344.8h6M1295.6 1304.7V1332.6M1292.6 1304.7h6M1292.6 1332.6h6M1296.8 1307.2V1353.7M1293.8 1307.2h6M1293.8 1353.7h6M1297.9 1299.1V1336.5M1294.9 1299.1h6M1294.9 1336.5h6M1299.0 1305.0V1351.2M1296.0 1305.0h6M1296.0 1351.2h6M1300.1 1326.4V1353.9M1297.1 1326.4h6M1297.1 1353.9h6M1301.2 1315.1V1363.8M1298.2 1315.1h6M1298.2 1363.8h6M1302.4 1315.3V1350.7M1299.4 1315.3h6M1299.4 1350.7h6M1303.5 1314.0V1363.6M1300.5 1314.0h6M1300.5 1363.6h6M1304.6 1286.5V1336.7M1301.6 1286.5h6M1301.6 1336.7h6M1305.7 1312.0V1351.8M1302.7 1312.0h6M1302.7 1351.8h6M1306.9 1318.2V1344.6M1303.9 1318.2h6M1303.9 1344.6h6M1308.0 1310.3V1361.8M1305.0 1310.3h6M1305.0 1361.8h6M1309.1 1312.7V1352.0M1306.1 1312.7h6M1306.1 1352.0h6M1310.2 1282.6V1333.0M1307.2 1282.6h6M1307.2 1333.0h6M1311.4 1316.2V1349.6M1308.4 1316.2h6M1308.4 1349.6h6M1312.5 1315.0V1346.2M1309.5 1315.0h6M1309.5 1346.2h6M1313.6 1316.6V1365.9M1310.6 1316.6h6M1310.6 1365.9h6M1314.7 1306.7V1343.0M1311.7 1306.7h6M1311.7 1343.0h6M1315.8 1319.0V1349.6M1312.8 1319.0h6M1312.8 1349.6h6M1317.0 1322.8V1359.2M1314.0 1322.8h6M1314.0 1359.2h6M1318.1 1316.8V1359.4M1315.1 1316.8h6M1315.1 1359.4h6M1319.2 1326.7V1352.8M1316.2 1326.7h6M1316.2 1352.8h6M1320.3 1310.4V1351.0M1317.3 1310.4h6M1317.3 1351.0h6M1321.5 1301.8V1340.2M1318.5 1301.8h6M1318.5 1340.2h6M1322.6 1295.1V1335.5M1319.6 1295.1h6M1319.6 1335.5h6M1323.7 1301.8V1331.2M1320.7 1301.8h6M1320.7 1331.2h6M1324.8 1304.8V1350.8M1321.8 1304.8h6M1321.8 1350.8h6M1325.9 1282.9V1331.7M1322.9 1282.9h6M1322.9 1331.7h6M1327.1 1291.2V1341.5M1324.1 1291.2h6M1324.1 1341.5h6M1328.2 1322.4V1357.4M1325.2 1322.4h6M1325.2 1357.4h6M1329.3 1287.7V1333.6M1326.3 1287.7h6M1326.3 1333.6h6M1330.4 1297.8V1334.5M1327.4 1297.8h6M1327.4 1334.5h6M1331.6 1313.2V1360.2M1328.6 1313.2h6M1328.6 1360.2h6M1332.7 1310.3V1338.0M1329.7 1310.3h6M1329.7 1338.0h6M1333.8 1288.6V1339.1M1330.8 1288.6h6M1330.8 1339.1h6M1334.9 1295.2V1347.9M1331.9 1295.2h6M1331.9 1347.9h6M1336.0 1298.3V1338.1M1333.0 1298.3h6M1333.0 1338.1h6M1337.2 1313.7V1354.1M1334.2 1313.7h6M1334.2 1354.1h6M1338.3 1316.9V1357.7M1335.3 1316.9h6M1335.3 1357.7h6M1339.4 1317.8V1358.9M1336.4 1317.8h6M1336.4 1358.9h6M1340.5 1309.5V1336.1M1337.5 1309.5h6M1337.5 1336.1h6M1341.7 1294.0V1347.1M1338.7 1294.0h6M1338.7 1347.1h6M1342.8 1309.2V1341.5M1339.8 1309.2h6M1339.8 1341.5h6M1343.9 1299.2V1330.3M1340.9 1299.2h6M1340.9 1330.3h6M1345.0 1310.6V1339.4M1342.0 1310.6h6M1342.0 1339.4h6M1346.1 1303.2V1336.2M1343.1 1303.2h6M1343.1 1336.2h6M1347.3 1292.6V1341.5M1344.3 1292.6h6M1344.3 1341.5h6M1348.4 1326.6V1353.5M1345.4 1326.6h6M1345.4 1353.5h6M1349.5 1303.1V1331.9M1346.5 1303.1h6M1346.5 1331.9h6M1350.6 1294.4V1340.0M1347.6 1294.4h6M1347.6 1340.0h6M1351.8 1310.1V1341.5M1348.8 1310.1h6M1348.8 1341.5h6M1352.9 1313.1V1339.6M1349.9 1313.1h6M1349.9 1339.6h6M1354.0 1295.1V1337.9M1351.0 1295.1h6M1351.0 1337.9h6M1355.1 1299.8V1341.9M1352.1 1299.8h6M1352.1 1341.9h6M1356.2 1317.7V1358.4M1353.2 1317.7h6M1353.2 1358.4h6M1357.4 1294.7V1340.4M1354.4 1294.7h6M1354.4 1340.4h6M1358.5 1309.2V1338.1M1355.5 1309.2h6M1355.5 1338.1h6M1359.6 1316.1V1366.4M1356.6 1316.1h6M1356.6 1366.4h6M1360.7 1297.1V1343.2M1357.7 1297.1h6M1357.7 1343.2h6M1361.9 1306.5V1333.7M1358.9 1306.5h6M1358.9 1333.7h6M1363.0 1310.9V1340.4M1360.0 1310.9h6M1360.0 1340.4h6M1364.1 1307.5V1347.3M1361.1 1307.5h6M1361.1 1347.3h6M1365.2 1292.7V1332.7M1362.2 1292.7h6M1362.2 1332.7h6M1366.4 1292.9V1326.8M1363.4 1292.9h6M1363.4 1326.8h6M1367.5 1328.3V1357.8M1364.5 1328.3h6M1364.5 1357.8h6M1368.6 1296.7V1334.0M1365.6 1296.7h6M1365.6 1334.0h6M1369.7 1313.3V1343.1M1366.7 1313.3h6M1366.7 1343.1h6M1370.8 1315.2V1357.8M1367.8 1315.2h6M1367.8 1357.8h6M1372.0 1311.4V1361.5M1369.0 1311.4h6M1369.0 1361.5h6M1373.1 1323.8V1353.9M1370.1 1323.8h6M1370.1 1353.9h6M1374.2 1289.9V1331.9M1371.2 1289.9h6M1371.2 1331.9h6M1375.3 1292.0V1338.9M1372.3 1292.0h6M1372.3 1338.9h6M1376.5 1297.9V1328.5M1373.5 1297.9h6M1373.5 1328.5h6M1377.6 1311.3V1360.4M1374.6 1311.3h6M1374.6 1360.4h6M1378.7 1300.9V1353.1M1375.7 1300.9h6M1375.7 1353.1h6M1379.8 1325.2V1362.1M1376.8 1325.2h6M1376.8 1362.1h6M1380.9 1309.3V1347.1M1377.9 1309.3h6M1377.9 1347.1h6M1382.1 1314.2V1363.7M1379.1 1314.2h6M1379.1 1363.7h6M1383.2 1312.5V1353.2M1380.2 1312.5h6M1380.2 1353.2h6M1384.3 1325.1V1362.2M1381.3 1325.1h6M1381.3 1362.2h6M1385.4 1288.6V1340.9M1382.4 1288.6h6M1382.4 1340.9h6M1386.6 1287.8V1335.6M1383.6 1287.8h6M1383.6 1335.6h6M1387.7 1294.8V1330.3M1384.7 1294.8h6M1384.7 1330.3h6M1388.8 1314.4V1347.1M1385.8 1314.4h6M1385.8 1347.1h6M1389.9 1291.4V1326.8M1386.9 1291.4h6M1386.9 1326.8h6M1391.0 1312.0V1350.2M1388.0 1312.0h6M1388.0 1350.2h6M1392.2 1307.3V1360.7M1389.2 1307.3h6M1389.2 1360.7h6M1393.3 1315.7V1364.2M1390.3 1315.7h6M1390.3 1364.2h6M1394.4 1307.8V1359.3M1391.4 1307.8h6M1391.4 1359.3h6M1395.5 1310.4V1359.2M1392.5 1310.4h6M1392.5 1359.2h6M1396.7 1300.8V1350.6M1393.7 1300.8h6M1393.7 1350.6h6M1397.8 1316.6V1344.1M1394.8 1316.6h6M1394.8 1344.1h6M1398.9 1292.5V1332.9M1395.9 1292.5h6M1395.9 1332.9h6M1400.0 1295.0V1347.8M1397.0 1295.0h6M1397.0 1347.8h6M1401.1 1284.6V1336.7M1398.1 1284.6h6M1398.1 1336.7h6M1402.3 1301.8V1334.7M1399.3 1301.8h6M1399.3 1334.7h6M1403.4 1298.8V1336.7M1400.4 1298.8h6M1400.4 1336.7h6M1404.5 1295.2V1338.9M1401.5 1295.2h6M1401.5 1338.9h6M1405.6 1315.0V1351.2M1402.6 1315.0h6M1402.6 1351.2h6M1406.8 1290.5V1331.3M1403.8 1290.5h6M1403.8 1331.3h6M1407.9 1312.6V1340.5M1404.9 1312.6h6M1404.9 1340.5h6M1409.0 1313.5V1351.6M1406.0 1313.5h6M1406.0 1351.6h6M1410.1 1289.0V1329.1M1407.1 1289.0h6M1407.1 1329.1h6M1411.2 1306.8V1333.4M1408.2 1306.8h6M1408.2 1333.4h6M1412.4 1308.5V1338.4M1409.4 1308.5h6M1409.4 1338.4h6M1413.5 1310.3V1363.4M1410.5 1310.3h6M1410.5 1363.4h6M1414.6 1311.6V1359.3M1411.6 1311.6h6M1411.6 1359.3h6M1415.7 1299.3V1351.5M1412.7 1299.3h6M1412.7 1351.5h6M1416.9 1289.4V1333.1M1413.9 1289.4h6M1413.9 1333.1h6M1418.0 1302.6V1351.3M1415.0 1302.6h6M1415.0 1351.3h6M1419.1 1310.4V1361.2M1416.1 1310.4h6M1416.1 1361.2h6M1420.2 1305.2V1356.0M1417.2 1305.2h6M1417.2 1356.0h6M1421.4 1320.7V1347.6M1418.4 1320.7h6M1418.4 1347.6h6M1422.5 1300.7V1344.7M1419.5 1300.7h6M1419.5 1344.7h6M1423.6 1299.7V1333.2M1420.6 1299.7h6M1420.6 1333.2h6M1424.7 1305.5V1350.5M1421.7 1305.5h6M1421.7 1350.5h6M1425.8 1312.5V1346.1M1422.8 1312.5h6M1422.8 1346.1h6M1427.0 1319.6V1360.8M1424.0 1319.6h6M1424.0 1360.8h6M1428.1 1282.9V1334.8M1425.1 1282.9h6M1425.1 1334.8h6M1429.2 1303.2V1346.6M1426.2 1303.2h6M1426.2 1346.6h6M1430.3 1296.0V1329.0M1427.3 1296.0h6M1427.3 1329.0h6M1431.5 1312.6V1353.2M1428.5 1312.6h6M1428.5 1353.2h6M1432.6 1309.4V1347.5M1429.6 1309.4h6M1429.6 1347.5h6M1433.7 1283.0V1335.6M1430.7 1283.0h6M1430.7 1335.6h6M1434.8 1295.1V1329.1M1431.8 1295.1h6M1431.8 1329.1h6M1435.9 1323.8V1358.4M1432.9 1323.8h6M1432.9 1358.4h6M1437.1 1289.2V1333.4M1434.1 1289.2h6M1434.1 1333.4h6M1438.2 1307.3V1336.6M1435.2 1307.3h6M1435.2 1336.6h6M1439.3 1307.4V1350.0M1436.3 1307.4h6M1436.3 1350.0h6M1440.4 1287.3V1340.1M1437.4 1287.3h6M1437.4 1340.1h6M1441.6 1288.5V1328.9M1438.6 1288.5h6M1438.6 1328.9h6M1442.7 1321.7V1355.2M1439.7 1321.7h6M1439.7 1355.2h6M1443.8 1304.7V1343.7M1440.8 1304.7h6M1440.8 1343.7h6M1444.9 1289.3V1330.2M1441.9 1289.3h6M1441.9 1330.2h6M1446.0 1304.8V1335.0M1443.0 1304.8h6M1443.0 1335.0h6M1447.2 1311.7V1341.2M1444.2 1311.7h6M1444.2 1341.2h6M1448.3 1326.1V1355.7M1445.3 1326.1h6M1445.3 1355.7h6M1449.4 1317.1V1351.4M1446.4 1317.1h6M1446.4 1351.4h6M1450.5 1301.3V1338.7M1447.5 1301.3h6M1447.5 1338.7h6M1451.7 1320.8V1354.9M1448.7 1320.8h6M1448.7 1354.9h6M1452.8 1303.9V1336.7M1449.8 1303.9h6M1449.8 1336.7h6M1453.9 1324.2V1352.6M1450.9 1324.2h6M1450.9 1352.6h6M1455.0 1303.5V1344.8M1452.0 1303.5h6M1452.0 1344.8h6M1456.1 1304.1V1353.6M1453.1 1304.1h6M1453.1 1353.6h6M1457.3 1300.0V1343.1M1454.3 1300.0h6M1454.3 1343.1h6M1458.4 1310.9V1352.8M1455.4 1310.9h6M1455.4 1352.8h6M1459.5 1287.0V1331.2M1456.5 1287.0h6M1456.5 1331.2h6M1460.6 1295.9V1327.5M1457.6 1295.9h6M1457.6 1327.5h6M1461.8 1311.2V1357.1M1458.8 1311.2h6M1458.8 1357.1h6M1462.9 1289.6V1328.5M1459.9 1289.6h6M1459.9 1328.5h6M1464.0 1310.9V1352.3M1461.0 1310.9h6M1461.0 1352.3h6M1465.1 1303.4V1346.6M1462.1 1303.4h6M1462.1 1346.6h6M1466.3 1308.1V1347.2M1463.3 1308.1h6M1463.3 1347.2h6M1467.4 1301.7V1336.4M1464.4 1301.7h6M1464.4 1336.4h6M1468.5 1317.9V1350.7M1465.5 1317.9h6M1465.5 1350.7h6M1469.6 1314.3V1346.5M1466.6 1314.3h6M1466.6 1346.5h6M1470.7 1298.3V1338.6M1467.7 1298.3h6M1467.7 1338.6h6M1471.9 1296.1V1332.8M1468.9 1296.1h6M1468.9 1332.8h6M1473.0 1303.3V1345.7M1470.0 1303.3h6M1470.0 1345.7h6M1474.1 1295.2V1321.6M1471.1 1295.2h6M1471.1 1321.6h6M1475.2 1295.6V1331.5M1472.2 1295.6h6M1472.2 1331.5h6M1476.4 1309.1V1359.2M1473.4 1309.1h6M1473.4 1359.2h6M1477.5 1315.2V1347.9M1474.5 1315.2h6M1474.5 1347.9h6M1478.6 1303.8V1345.4M1475.6 1303.8h6M1475.6 1345.4h6M1479.7 1314.0V1353.8M1476.7 1314.0h6M1476.7 1353.8h6M1480.8 1301.6V1335.6M1477.8 1301.6h6M1477.8 1335.6h6M1482.0 1309.6V1363.3M1479.0 1309.6h6M1479.0 1363.3h6M1483.1 1316.9V1351.2M1480.1 1316.9h6M1480.1 1351.2h6M1484.2 1312.7V1360.3M1481.2 1312.7h6M1481.2 1360.3h6M1485.3 1324.0V1354.4M1482.3 1324.0h6M1482.3 1354.4h6M1486.5 1296.3V1324.1M1483.5 1296.3h6M1483.5 1324.1h6M1487.6 1290.6V1341.0M1484.6 1290.6h6M1484.6 1341.0h6M1488.7 1289.7V1328.0M1485.7 1289.7h6M1485.7 1328.0h6M1489.8 1320.7V1348.4M1486.8 1320.7h6M1486.8 1348.4h6M1490.9 1296.7V1333.5M1487.9 1296.7h6M1487.9 1333.5h6M1492.1 1298.7V1337.0M1489.1 1298.7h6M1489.1 1337.0h6M1493.2 1304.5V1351.1M1490.2 1304.5h6M1490.2 1351.1h6M1494.3 1320.2V1349.3M1491.3 1320.2h6M1491.3 1349.3h6M1495.4 1314.7V1347.0M1492.4 1314.7h6M1492.4 1347.0h6M1496.6 1281.0V1333.9M1493.6 1281.0h6M1493.6 1333.9h6M1497.7 1283.7V1330.4M1494.7 1283.7h6M1494.7 1330.4h6M1498.8 1312.8V1343.1M1495.8 1312.8h6M1495.8 1343.1h6M1499.9 1294.0V1329.5M1496.9 1294.0h6M1496.9 1329.5h6M1501.0 1320.4V1356.3M1498.0 1320.4h6M1498.0 1356.3h6M1502.2 1304.6V1349.5M1499.2 1304.6h6M1499.2 1349.5h6M1503.3 1311.6V1354.8M1500.3 1311.6h6M1500.3 1354.8h6M1504.4 1283.9V1333.7M1501.4 1283.9h6M1501.4 1333.7h6M1505.5 1301.0V1350.0M1502.5 1301.0h6M1502.5 1350.0h6M1506.7 1292.9V1333.4M1503.7 1292.9h6M1503.7 1333.4h6M1507.8 1315.0V1361.7M1504.8 1315.0h6M1504.8 1361.7h6M1508.9 1284.2V1331.1M1505.9 1284.2h6M1505.9 1331.1h6M1510.0 1289.9V1337.2M1507.0 1289.9h6M1507.0 1337.2h6M1511.1 1307.9V1347.2M1508.1 1307.9h6M1508.1 1347.2h6M1512.3 1282.1V1330.1M1509.3 1282.1h6M1509.3 1330.1h6M1513.4 1307.1V1353.0M1510.4 1307.1h6M1510.4 1353.0h6M1514.5 1302.3V1353.9M1511.5 1302.3h6M1511.5 1353.9h6M1515.6 1324.0V1353.6M1512.6 1324.0h6M1512.6 1353.6h6M1516.8 1282.0V1332.4M1513.8 1282.0h6M1513.8 1332.4h6M1517.9 1293.2V1319.3M1514.9 1293.2h6M1514.9 1319.3h6M1519.0 1306.9V1354.4M1516.0 1306.9h6M1516.0 1354.4h6M1520.1 1284.4V1326.8M1517.1 1284.4h6M1517.1 1326.8h6M1521.3 1305.3V1345.2M1518.3 1305.3h6M1518.3 1345.2h6M1522.4 1297.2V1350.2M1519.4 1297.2h6M1519.4 1350.2h6M1523.5 1285.5V1327.5M1520.5 1285.5h6M1520.5 1327.5h6M1524.6 1291.9V1329.6M1521.6 1291.9h6M1521.6 1329.6h6M1525.7 1286.0V1334.0M1522.7 1286.0h6M1522.7 1334.0h6M1526.9 1292.2V1342.6M1523.9 1292.2h6M1523.9 1342.6h6M1528.0 1305.8V1348.8M1525.0 1305.8h6M1525.0 1348.8h6M1529.1 1293.0V1329.6M1526.1 1293.0h6M1526.1 1329.6h6M1530.2 1312.2V1350.8M1527.2 1312.2h6M1527.2 1350.8h6M1531.4 1310.3V1349.1M1528.4 1310.3h6M1528.4 1349.1h6M1532.5 1314.0V1360.2M1529.5 1314.0h6M1529.5 1360.2h6M1533.6 1309.9V1344.1M1530.6 1309.9h6M1530.6 1344.1h6M1534.7 1289.2V1326.2M1531.7 1289.2h6M1531.7 1326.2h6M1535.8 1308.3V1349.8M1532.8 1308.3h6M1532.8 1349.8h6M1537.0 1316.5V1353.3M1534.0 1316.5h6M1534.0 1353.3h6M1538.1 1296.2V1331.2M1535.1 1296.2h6M1535.1 1331.2h6M1539.2 1306.1V1354.2M1536.2 1306.1h6M1536.2 1354.2h6M1540.3 1291.9V1341.7M1537.3 1291.9h6M1537.3 1341.7h6M1541.5 1292.4V1332.4M1538.5 1292.4h6M1538.5 1332.4h6M1542.6 1296.1V1334.5M1539.6 1296.1h6M1539.6 1334.5h6M1543.7 1293.7V1324.8M1540.7 1293.7h6M1540.7 1324.8h6M1544.8 1301.5V1336.0M1541.8 1301.5h6M1541.8 1336.0h6M1545.9 1297.8V1327.9M1542.9 1297.8h6M1542.9 1327.9h6M1547.1 1308.7V1350.9M1544.1 1308.7h6M1544.1 1350.9h6M1548.2 1311.9V1354.2M1545.2 1311.9h6M1545.2 1354.2h6M1549.3 1304.2V1332.7M1546.3 1304.2h6M1546.3 1332.7h6M1550.4 1298.9V1350.6M1547.4 1298.9h6M1547.4 1350.6h6M1551.6 1303.4V1338.5M1548.6 1303.4h6M1548.6 1338.5h6M1552.7 1285.8V1335.4M1549.7 1285.8h6M1549.7 1335.4h6M1553.8 1279.6V1329.1M1550.8 1279.6h6M1550.8 1329.1h6M1554.9 1295.8V1348.6M1551.9 1295.8h6M1551.9 1348.6h6M1556.0 1293.7V1325.5M1553.0 1293.7h6M1553.0 1325.5h6M1557.2 1318.3V1356.2M1554.2 1318.3h6M1554.2 1356.2h6M1558.3 1308.8V1360.3M1555.3 1308.8h6M1555.3 1360.3h6M1559.4 1292.0V1318.3M1556.4 1292.0h6M1556.4 1318.3h6M1560.5 1293.0V1320.3M1557.5 1293.0h6M1557.5 1320.3h6M1561.7 1288.0V1329.8M1558.7 1288.0h6M1558.7 1329.8h6M1562.8 1309.9V1349.9M1559.8 1309.9h6M1559.8 1349.9h6M1563.9 1280.4V1332.1M1560.9 1280.4h6M1560.9 1332.1h6M1565.0 1294.5V1342.2M1562.0 1294.5h6M1562.0 1342.2h6M1566.1 1311.0V1352.0M1563.1 1311.0h6M1563.1 1352.0h6M1567.3 1307.2V1361.1M1564.3 1307.2h6M1564.3 1361.1h6M1568.4 1310.0V1350.5M1565.4 1310.0h6M1565.4 1350.5h6M1569.5 1296.4V1336.9M1566.5 1296.4h6M1566.5 1336.9h6M1570.6 1316.2V1361.4M1567.6 1316.2h6M1567.6 1361.4h6M1571.8 1297.3V1334.2M1568.8 1297.3h6M1568.8 1334.2h6M1572.9 1310.4V1346.5M1569.9 1310.4h6M1569.9 1346.5h6M1574.0 1290.5V1333.1M1571.0 1290.5h6M1571.0 1333.1h6M1575.1 1319.2V1355.0M1572.1 1319.2h6M1572.1 1355.0h6M1576.3 1299.4V1351.9M1573.3 1299.4h6M1573.3 1351.9h6M1577.4 1294.8V1339.7M1574.4 1294.8h6M1574.4 1339.7h6M1578.5 1313.4V1354.1M1575.5 1313.4h6M1575.5 1354.1h6M1579.6 1310.8V1339.6M1576.6 1310.8h6M1576.6 1339.6h6M1580.7 1310.5V1347.0M1577.7 1310.5h6M1577.7 1347.0h6M1581.9 1310.0V1347.2M1578.9 1310.0h6M1578.9 1347.2h6M1583.0 1306.2V1348.0M1580.0 1306.2h6M1580.0 1348.0h6M1584.1 1288.6V1330.6M1581.1 1288.6h6M1581.1 1330.6h6M1585.2 1301.6V1352.2M1582.2 1301.6h6M1582.2 1352.2h6M1586.4 1287.8V1340.8M1583.4 1287.8h6M1583.4 1340.8h6M1587.5 1319.4V1359.1M1584.5 1319.4h6M1584.5 1359.1h6M1588.6 1305.6V1344.0M1585.6 1305.6h6M1585.6 1344.0h6M1589.7 1303.7V1347.2M1586.7 1303.7h6M1586.7 1347.2h6M1590.8 1296.6V1350.5M1587.8 1296.6h6M1587.8 1350.5h6M1592.0 1321.1V1356.7M1589.0 1321.1h6M1589.0 1356.7h6M1593.1 1296.9V1337.7M1590.1 1296.9h6M1590.1 1337.7h6M1594.2 1311.9V1360.7M1591.2 1311.9h6M1591.2 1360.7h6M1595.3 1311.2V1341.9M1592.3 1311.2h6M1592.3 1341.9h6M1596.5 1316.8V1351.8M1593.5 1316.8h6M1593.5 1351.8h6M1597.6 1294.6V1348.0M1594.6 1294.6h6M1594.6 1348.0h6M1598.7 1311.0V1360.1M1595.7 1311.0h6M1595.7 1360.1h6M1599.8 1291.3V1331.6M1596.8 1291.3h6M1596.8 1331.6h6M1600.9 1317.9V1346.9M1597.9 1317.9h6M1597.9 1346.9h6M1602.1 1281.1V1332.1M1599.1 1281.1h6M1599.1 1332.1h6M1603.2 1299.8V1345.1M1600.2 1299.8h6M1600.2 1345.1h6M1604.3 1282.6V1331.6M1601.3 1282.6h6M1601.3 1331.6h6M1605.4 1281.0V1334.7M1602.4 1281.0h6M1602.4 1334.7h6M1606.6 1285.1V1336.0M1603.6 1285.1h6M1603.6 1336.0h6M1607.7 1292.9V1330.7M1604.7 1292.9h6M1604.7 1330.7h6M1608.8 1309.8V1340.1M1605.8 1309.8h6M1605.8 1340.1h6M1609.9 1293.2V1327.3M1606.9 1293.2h6M1606.9 1327.3h6M1611.0 1311.1V1351.4M1608.0 1311.1h6M1608.0 1351.4h6M1612.2 1300.8V1340.9M1609.2 1300.8h6M1609.2 1340.9h6M1613.3 1318.8V1350.1M1610.3 1318.8h6M1610.3 1350.1h6M1614.4 1298.1V1329.2M1611.4 1298.1h6M1611.4 1329.2h6M1615.5 1315.3V1359.0M1612.5 1315.3h6M1612.5 1359.0h6M1616.7 1290.9V1333.8M1613.7 1290.9h6M1613.7 1333.8h6M1617.8 1291.6V1327.5M1614.8 1291.6h6M1614.8 1327.5h6M1618.9 1290.8V1344.6M1615.9 1290.8h6M1615.9 1344.6h6M1620.0 1294.8V1338.6M1617.0 1294.8h6M1617.0 1338.6h6M1621.2 1310.2V1337.4M1618.2 1310.2h6M1618.2 1337.4h6M1622.3 1304.8V1342.3M1619.3 1304.8h6M1619.3 1342.3h6M1623.4 1298.7V1346.8M1620.4 1298.7h6M1620.4 1346.8h6M1624.5 1320.0V1354.6M1621.5 1320.0h6M1621.5 1354.6h6M1625.6 1298.5V1343.8M1622.6 1298.5h6M1622.6 1343.8h6M1626.8 1298.6V1324.7M1623.8 1298.6h6M1623.8 1324.7h6M1627.9 1304.8V1339.4M1624.9 1304.8h6M1624.9 1339.4h6M1629.0 1296.7V1346.3M1626.0 1296.7h6M1626.0 1346.3h6M1630.1 1312.2V1354.6M1627.1 1312.2h6M1627.1 1354.6h6M1631.3 1312.2V1356.9M1628.3 1312.2h6M1628.3 1356.9h6M1632.4 1304.3V1335.8M1629.4 1304.3h6M1629.4 1335.8h6M1633.5 1295.7V1335.6M1630.5 1295.7h6M1630.5 1335.6h6M1634.6 1291.5V1333.0M1631.6 1291.5h6M1631.6 1333.0h6M1635.7 1303.1V1336.6M1632.7 1303.1h6M1632.7 1336.6h6M1636.9 1298.0V1342.1M1633.9 1298.0h6M1633.9 1342.1h6M1638.0 1284.1V1325.0M1635.0 1284.1h6M1635.0 1325.0h6M1639.1 1280.8V1334.7M1636.1 1280.8h6M1636.1 1334.7h6M1640.2 1291.0V1333.0M1637.2 1291.0h6M1637.2 1333.0h6M1641.4 1311.8V1349.3M1638.4 1311.8h6M1638.4 1349.3h6M1642.5 1305.5V1334.9M1639.5 1305.5h6M1639.5 1334.9h6M1643.6 1290.3V1320.7M1640.6 1290.3h6M1640.6 1320.7h6M1644.7 1286.2V1333.5M1641.7 1286.2h6M1641.7 1333.5h6M1645.8 1320.3V1349.2M1642.8 1320.3h6M1642.8 1349.2h6M1647.0 1296.4V1325.2M1644.0 1296.4h6M1644.0 1325.2h6M1648.1 1290.6V1321.3M1645.1 1290.6h6M1645.1 1321.3h6M1649.2 1288.4V1329.0M1646.2 1288.4h6M1646.2 1329.0h6M1650.3 1294.9V1344.0M1647.3 1294.9h6M1647.3 1344.0h6M1651.5 1308.0V1351.1M1648.5 1308.0h6M1648.5 1351.1h6M1652.6 1294.9V1343.5M1649.6 1294.9h6M1649.6 1343.5h6M1653.7 1321.5V1349.3M1650.7 1321.5h6M1650.7 1349.3h6M1654.8 1317.9V1344.2M1651.8 1317.9h6M1651.8 1344.2h6M1655.9 1289.3V1336.9M1652.9 1289.3h6M1652.9 1336.9h6M1657.1 1313.2V1348.2M1654.1 1313.2h6M1654.1 1348.2h6M1658.2 1309.5V1355.5M1655.2 1309.5h6M1655.2 1355.5h6M1659.3 1296.5V1332.4M1656.3 1296.5h6M1656.3 1332.4h6M1660.4 1290.9V1321.6M1657.4 1290.9h6M1657.4 1321.6h6M1661.6 1299.6V1333.0M1658.6 1299.6h6M1658.6 1333.0h6M1662.7 1318.3V1347.1M1659.7 1318.3h6M1659.7 1347.1h6M1663.8 1288.8V1340.2M1660.8 1288.8h6M1660.8 1340.2h6M1664.9 1287.5V1329.8M1661.9 1287.5h6M1661.9 1329.8h6M1666.0 1284.1V1319.8M1663.0 1284.1h6M1663.0 1319.8h6M1667.2 1304.4V1343.0M1664.2 1304.4h6M1664.2 1343.0h6M1668.3 1302.4V1339.2M1665.3 1302.4h6M1665.3 1339.2h6M1669.4 1296.6V1324.1M1666.4 1296.6h6M1666.4 1324.1h6M1670.5 1282.2V1333.1M1667.5 1282.2h6M1667.5 1333.1h6M1671.7 1292.7V1335.0M1668.7 1292.7h6M1668.7 1335.0h6M1672.8 1289.2V1342.1M1669.8 1289.2h6M1669.8 1342.1h6M1673.9 1305.9V1344.2M1670.9 1305.9h6M1670.9 1344.2h6M1675.0 1313.0V1356.3M1672.0 1313.0h6M1672.0 1356.3h6M1676.2 1298.0V1331.0M1673.2 1298.0h6M1673.2 1331.0h6M1677.3 1304.4V1331.6M1674.3 1304.4h6M1674.3 1331.6h6M1678.4 1305.1V1357.1M1675.4 1305.1h6M1675.4 1357.1h6M1679.5 1288.1V1338.0M1676.5 1288.1h6M1676.5 1338.0h6M1680.6 1318.1V1352.9M1677.6 1318.1h6M1677.6 1352.9h6M1681.8 1306.3V1357.5M1678.8 1306.3h6M1678.8 1357.5h6M1682.9 1303.3V1352.2M1679.9 1303.3h6M1679.9 1352.2h6M1684.0 1297.9V1332.4M1681.0 1297.9h6M1681.0 1332.4h6M1685.1 1292.4V1335.3M1682.1 1292.4h6M1682.1 1335.3h6M1686.3 1304.3V1357.2M1683.3 1304.3h6M1683.3 1357.2h6M1687.4 1307.0V1346.9M1684.4 1307.0h6M1684.4 1346.9h6M1688.5 1305.7V1358.3M1685.5 1305.7h6M1685.5 1358.3h6M1689.6 1288.8V1321.6M1686.6 1288.8h6M1686.6 1321.6h6M1690.7 1302.9V1339.8M1687.7 1302.9h6M1687.7 1339.8h6M1691.9 1311.7V1357.8M1688.9 1311.7h6M1688.9 1357.8h6M1693.0 1299.6V1331.8M1690.0 1299.6h6M1690.0 1331.8h6M1694.1 1295.5V1330.1M1691.1 1295.5h6M1691.1 1330.1h6M1695.2 1277.5V1328.0M1692.2 1277.5h6M1692.2 1328.0h6M1696.4 1306.7V1346.2M1693.4 1306.7h6M1693.4 1346.2h6M1697.5 1309.4V1357.6M1694.5 1309.4h6M1694.5 1357.6h6M1698.6 1304.6V1337.4M1695.6 1304.6h6M1695.6 1337.4h6" stroke="#c8222a" stroke-width="1.0" fill="none" opacity="0.65"/>
<g fill="#c4060e"><rect x="1081.1" y="1192.7" width="19" height="19"/><rect x="1081.7" y="1228.7" width="19" height="19"/><rect x="1082.3" y="1252.2" width="19" height="19"/><rect x="1082.9" y="1266.3" width="19" height="19"/><rect x="1083.5" y="1277.6" width="19" height="19"/><rect x="1084.1" y="1286.1" width="19" height="19"/><rect x="1084.7" y="1291.8" width="19" height="19"/><rect x="1085.4" y="1297.4" width="19" height="19"/><rect x="1086.0" y="1300.3" width="19" height="19"/><rect x="1086.6" y="1303.1" width="19" height="19"/><rect x="1087.2" y="1305.9" width="19" height="19"/><rect x="1087.8" y="1307.4" width="19" height="19"/><rect x="1088.4" y="1308.8" width="19" height="19"/><rect x="1089.0" y="1312.8" width="19" height="19"/><rect x="1089.6" y="1307.6" width="19" height="19"/><rect x="1090.2" y="1308.6" width="19" height="19"/><rect x="1090.8" y="1303.5" width="19" height="19"/><rect x="1091.4" y="1305.3" width="19" height="19"/><rect x="1092.0" y="1316.5" width="19" height="19"/><rect x="1092.7" y="1314.5" width="19" height="19"/><rect x="1093.3" y="1317.2" width="19" height="19"/><rect x="1093.9" y="1309.6" width="19" height="19"/><rect x="1094.5" y="1311.5" width="19" height="19"/><rect x="1095.1" y="1321.5" width="19" height="19"/><rect x="1095.7" y="1309.3" width="19" height="19"/><rect x="1096.3" y="1317.3" width="19" height="19"/><rect x="1096.9" y="1314.7" width="19" height="19"/><rect x="1097.5" y="1307.0" width="19" height="19"/><rect x="1098.1" y="1320.3" width="19" height="19"/><rect x="1098.7" y="1313.7" width="19" height="19"/><rect x="1099.3" y="1308.6" width="19" height="19"/><rect x="1099.9" y="1301.9" width="19" height="19"/><rect x="1100.6" y="1317.3" width="19" height="19"/><rect x="1101.2" y="1325.1" width="19" height="19"/><rect x="1101.8" y="1328.9" width="19" height="19"/><rect x="1102.4" y="1307.6" width="19" height="19"/><rect x="1103.0" y="1304.1" width="19" height="19"/><rect x="1103.6" y="1309.6" width="19" height="19"/><rect x="1104.2" y="1313.4" width="19" height="19"/><rect x="1104.8" y="1304.7" width="19" height="19"/><rect x="1105.4" y="1317.2" width="19" height="19"/><rect x="1106.5" y="1331.7" width="19" height="19"/><rect x="1107.7" y="1311.7" width="19" height="19"/><rect x="1108.8" y="1305.9" width="19" height="19"/><rect x="1109.9" y="1321.1" width="19" height="19"/><rect x="1111.0" y="1333.9" width="19" height="19"/><rect x="1112.2" y="1329.0" width="19" height="19"/><rect x="1113.3" y="1332.9" width="19" height="19"/><rect x="1114.4" y="1330.6" width="19" height="19"/><rect x="1115.5" y="1321.8" width="19" height="19"/><rect x="1116.6" y="1332.6" width="19" height="19"/><rect x="1117.8" y="1316.5" width="19" height="19"/><rect x="1118.9" y="1307.3" width="19" height="19"/><rect x="1120.0" y="1326.1" width="19" height="19"/><rect x="1121.1" y="1323.5" width="19" height="19"/><rect x="1122.3" y="1302.9" width="19" height="19"/><rect x="1123.4" y="1330.0" width="19" height="19"/><rect x="1124.5" y="1328.1" width="19" height="19"/><rect x="1125.6" y="1315.9" width="19" height="19"/><rect x="1126.7" y="1336.2" width="19" height="19"/><rect x="1127.9" y="1323.7" width="19" height="19"/><rect x="1129.0" y="1303.6" width="19" height="19"/><rect x="1130.1" y="1318.8" width="19" height="19"/><rect x="1131.2" y="1313.3" width="19" height="19"/><rect x="1132.4" y="1305.7" width="19" height="19"/><rect x="1133.5" y="1306.6" width="19" height="19"/><rect x="1134.6" y="1323.4" width="19" height="19"/><rect x="1135.7" y="1333.4" width="19" height="19"/><rect x="1136.8" y="1334.9" width="19" height="19"/><rect x="1138.0" y="1329.9" width="19" height="19"/><rect x="1139.1" y="1325.4" width="19" height="19"/><rect x="1140.2" y="1337.2" width="19" height="19"/><rect x="1141.3" y="1333.8" width="19" height="19"/><rect x="1142.5" y="1336.5" width="19" height="19"/><rect x="1143.6" y="1316.2" width="19" height="19"/><rect x="1144.7" y="1328.7" width="19" height="19"/><rect x="1145.8" y="1324.9" width="19" height="19"/><rect x="1147.0" y="1308.2" width="19" height="19"/><rect x="1148.1" y="1321.5" width="19" height="19"/><rect x="1149.2" y="1334.6" width="19" height="19"/><rect x="1150.3" y="1325.8" width="19" height="19"/><rect x="1151.4" y="1309.1" width="19" height="19"/><rect x="1152.6" y="1336.9" width="19" height="19"/><rect x="1153.7" y="1319.5" width="19" height="19"/><rect x="1154.8" y="1319.0" width="19" height="19"/><rect x="1155.9" y="1319.5" width="19" height="19"/><rect x="1157.1" y="1308.0" width="19" height="19"/><rect x="1158.2" y="1328.8" width="19" height="19"/><rect x="1159.3" y="1332.1" width="19" height="19"/><rect x="1160.4" y="1319.5" width="19" height="19"/><rect x="1161.5" y="1326.5" width="19" height="19"/><rect x="1162.7" y="1309.8" width="19" height="19"/><rect x="1163.8" y="1308.4" width="19" height="19"/><rect x="1164.9" y="1309.6" width="19" height="19"/><rect x="1166.0" y="1330.1" width="19" height="19"/><rect x="1167.2" y="1325.6" width="19" height="19"/><rect x="1168.3" y="1336.9" width="19" height="19"/><rect x="1169.4" y="1328.9" width="19" height="19"/><rect x="1170.5" y="1304.8" width="19" height="19"/><rect x="1171.6" y="1305.5" width="19" height="19"/><rect x="1172.8" y="1304.9" width="19" height="19"/><rect x="1173.9" y="1330.2" width="19" height="19"/><rect x="1175.0" y="1331.1" width="19" height="19"/><rect x="1176.1" y="1316.3" width="19" height="19"/><rect x="1177.3" y="1308.8" width="19" height="19"/><rect x="1178.4" y="1315.3" width="19" height="19"/><rect x="1179.5" y="1334.9" width="19" height="19"/><rect x="1180.6" y="1306.4" width="19" height="19"/><rect x="1181.7" y="1311.9" width="19" height="19"/><rect x="1182.9" y="1331.6" width="19" height="19"/><rect x="1184.0" y="1326.3" width="19" height="19"/><rect x="1185.1" y="1304.2" width="19" height="19"/><rect x="1186.2" y="1323.9" width="19" height="19"/><rect x="1187.4" y="1312.7" width="19" height="19"/><rect x="1188.5" y="1333.4" width="19" height="19"/><rect x="1189.6" y="1306.5" width="19" height="19"/><rect x="1190.7" y="1332.7" width="19" height="19"/><rect x="1191.8" y="1303.9" width="19" height="19"/><rect x="1193.0" y="1325.7" width="19" height="19"/><rect x="1194.1" y="1333.2" width="19" height="19"/><rect x="1195.2" y="1304.2" width="19" height="19"/><rect x="1196.3" y="1319.6" width="19" height="19"/><rect x="1197.5" y="1322.8" width="19" height="19"/><rect x="1198.6" y="1309.2" width="19" height="19"/><rect x="1199.7" y="1329.1" width="19" height="19"/><rect x="1200.8" y="1329.5" width="19" height="19"/><rect x="1202.0" y="1328.8" width="19" height="19"/><rect x="1203.1" y="1333.3" width="19" height="19"/><rect x="1204.2" y="1325.6" width="19" height="19"/><rect x="1205.3" y="1317.7" width="19" height="19"/><rect x="1206.4" y="1323.3" width="19" height="19"/><rect x="1207.6" y="1320.5" width="19" height="19"/><rect x="1208.7" y="1319.7" width="19" height="19"/><rect x="1209.8" y="1322.6" width="19" height="19"/><rect x="1210.9" y="1337.7" width="19" height="19"/><rect x="1212.1" y="1331.9" width="19" height="19"/><rect x="1213.2" y="1312.8" width="19" height="19"/><rect x="1214.3" y="1326.6" width="19" height="19"/><rect x="1215.4" y="1318.7" width="19" height="19"/><rect x="1216.5" y="1334.2" width="19" height="19"/><rect x="1217.7" y="1329.3" width="19" height="19"/><rect x="1218.8" y="1311.2" width="19" height="19"/><rect x="1219.9" y="1318.5" width="19" height="19"/><rect x="1221.0" y="1306.4" width="19" height="19"/><rect x="1222.2" y="1316.7" width="19" height="19"/><rect x="1223.3" y="1320.2" width="19" height="19"/><rect x="1224.4" y="1322.3" width="19" height="19"/><rect x="1225.5" y="1321.4" width="19" height="19"/><rect x="1226.6" y="1313.7" width="19" height="19"/><rect x="1227.8" y="1305.3" width="19" height="19"/><rect x="1228.9" y="1318.5" width="19" height="19"/><rect x="1230.0" y="1308.8" width="19" height="19"/><rect x="1231.1" y="1333.6" width="19" height="19"/><rect x="1232.3" y="1335.3" width="19" height="19"/><rect x="1233.4" y="1335.2" width="19" height="19"/><rect x="1234.5" y="1310.6" width="19" height="19"/><rect x="1235.6" y="1332.3" width="19" height="19"/><rect x="1236.7" y="1314.8" width="19" height="19"/><rect x="1237.9" y="1307.1" width="19" height="19"/><rect x="1239.0" y="1330.0" width="19" height="19"/><rect x="1240.1" y="1323.7" width="19" height="19"/><rect x="1241.2" y="1303.3" width="19" height="19"/><rect x="1242.4" y="1331.8" width="19" height="19"/><rect x="1243.5" y="1319.5" width="19" height="19"/><rect x="1244.6" y="1330.5" width="19" height="19"/><rect x="1245.7" y="1312.2" width="19" height="19"/><rect x="1246.9" y="1318.0" width="19" height="19"/><rect x="1248.0" y="1336.4" width="19" height="19"/><rect x="1249.1" y="1315.4" width="19" height="19"/><rect x="1250.2" y="1334.6" width="19" height="19"/><rect x="1251.3" y="1309.5" width="19" height="19"/><rect x="1252.5" y="1333.0" width="19" height="19"/><rect x="1253.6" y="1335.2" width="19" height="19"/><rect x="1254.7" y="1327.1" width="19" height="19"/><rect x="1255.8" y="1321.8" width="19" height="19"/><rect x="1257.0" y="1307.9" width="19" height="19"/><rect x="1258.1" y="1331.0" width="19" height="19"/><rect x="1259.2" y="1316.3" width="19" height="19"/><rect x="1260.3" y="1332.8" width="19" height="19"/><rect x="1261.4" y="1312.0" width="19" height="19"/><rect x="1262.6" y="1333.1" width="19" height="19"/><rect x="1263.7" y="1313.6" width="19" height="19"/><rect x="1264.8" y="1332.5" width="19" height="19"/><rect x="1265.9" y="1332.9" width="19" height="19"/><rect x="1267.1" y="1319.4" width="19" height="19"/><rect x="1268.2" y="1315.9" width="19" height="19"/><rect x="1269.3" y="1325.6" width="19" height="19"/><rect x="1270.4" y="1316.5" width="19" height="19"/><rect x="1271.5" y="1330.8" width="19" height="19"/><rect x="1272.7" y="1332.7" width="19" height="19"/><rect x="1273.8" y="1323.5" width="19" height="19"/><rect x="1274.9" y="1307.9" width="19" height="19"/><rect x="1276.0" y="1316.8" width="19" height="19"/><rect x="1277.2" y="1321.9" width="19" height="19"/><rect x="1278.3" y="1325.1" width="19" height="19"/><rect x="1279.4" y="1308.3" width="19" height="19"/><rect x="1280.5" y="1327.0" width="19" height="19"/><rect x="1281.6" y="1301.1" width="19" height="19"/><rect x="1282.8" y="1305.0" width="19" height="19"/><rect x="1283.9" y="1316.1" width="19" height="19"/><rect x="1285.0" y="1319.5" width="19" height="19"/><rect x="1286.1" y="1309.2" width="19" height="19"/><rect x="1287.3" y="1321.0" width="19" height="19"/><rect x="1288.4" y="1308.3" width="19" height="19"/><rect x="1289.5" y="1318.6" width="19" height="19"/><rect x="1290.6" y="1330.6" width="19" height="19"/><rect x="1291.7" y="1330.0" width="19" height="19"/><rect x="1292.9" y="1323.5" width="19" height="19"/><rect x="1294.0" y="1329.3" width="19" height="19"/><rect x="1295.1" y="1302.1" width="19" height="19"/><rect x="1296.2" y="1322.4" width="19" height="19"/><rect x="1297.4" y="1321.9" width="19" height="19"/><rect x="1298.5" y="1326.5" width="19" height="19"/><rect x="1299.6" y="1322.8" width="19" height="19"/><rect x="1300.7" y="1298.3" width="19" height="19"/><rect x="1301.9" y="1323.4" width="19" height="19"/><rect x="1303.0" y="1321.1" width="19" height="19"/><rect x="1304.1" y="1331.7" width="19" height="19"/><rect x="1305.2" y="1315.4" width="19" height="19"/><rect x="1306.3" y="1324.8" width="19" height="19"/><rect x="1307.5" y="1331.5" width="19" height="19"/><rect x="1308.6" y="1328.6" width="19" height="19"/><rect x="1309.7" y="1330.3" width="19" height="19"/><rect x="1310.8" y="1321.2" width="19" height="19"/><rect x="1312.0" y="1311.5" width="19" height="19"/><rect x="1313.1" y="1305.8" width="19" height="19"/><rect x="1314.2" y="1307.0" width="19" height="19"/><rect x="1315.3" y="1318.3" width="19" height="19"/><rect x="1316.4" y="1297.8" width="19" height="19"/><rect x="1317.6" y="1306.8" width="19" height="19"/><rect x="1318.7" y="1330.4" width="19" height="19"/><rect x="1319.8" y="1301.1" width="19" height="19"/><rect x="1320.9" y="1306.6" width="19" height="19"/><rect x="1322.1" y="1327.2" width="19" height="19"/><rect x="1323.2" y="1314.7" width="19" height="19"/><rect x="1324.3" y="1304.4" width="19" height="19"/><rect x="1325.4" y="1312.0" width="19" height="19"/><rect x="1326.5" y="1308.7" width="19" height="19"/><rect x="1327.7" y="1324.4" width="19" height="19"/><rect x="1328.8" y="1327.8" width="19" height="19"/><rect x="1329.9" y="1328.9" width="19" height="19"/><rect x="1331.0" y="1313.3" width="19" height="19"/><rect x="1332.2" y="1311.0" width="19" height="19"/><rect x="1333.3" y="1315.8" width="19" height="19"/><rect x="1334.4" y="1305.2" width="19" height="19"/><rect x="1335.5" y="1315.5" width="19" height="19"/><rect x="1336.6" y="1310.2" width="19" height="19"/><rect x="1337.8" y="1307.6" width="19" height="19"/><rect x="1338.9" y="1330.5" width="19" height="19"/><rect x="1340.0" y="1308.0" width="19" height="19"/><rect x="1341.1" y="1307.7" width="19" height="19"/><rect x="1342.3" y="1316.3" width="19" height="19"/><rect x="1343.4" y="1316.9" width="19" height="19"/><rect x="1344.5" y="1307.0" width="19" height="19"/><rect x="1345.6" y="1311.4" width="19" height="19"/><rect x="1346.7" y="1328.5" width="19" height="19"/><rect x="1347.9" y="1308.0" width="19" height="19"/><rect x="1349.0" y="1314.2" width="19" height="19"/><rect x="1350.1" y="1331.7" width="19" height="19"/><rect x="1351.2" y="1310.7" width="19" height="19"/><rect x="1352.4" y="1310.6" width="19" height="19"/><rect x="1353.5" y="1316.1" width="19" height="19"/><rect x="1354.6" y="1317.9" width="19" height="19"/><rect x="1355.7" y="1303.2" width="19" height="19"/><rect x="1356.9" y="1300.3" width="19" height="19"/><rect x="1358.0" y="1333.6" width="19" height="19"/><rect x="1359.1" y="1305.9" width="19" height="19"/><rect x="1360.2" y="1318.7" width="19" height="19"/><rect x="1361.3" y="1327.0" width="19" height="19"/><rect x="1362.5" y="1327.0" width="19" height="19"/><rect x="1363.6" y="1329.4" width="19" height="19"/><rect x="1364.7" y="1301.4" width="19" height="19"/><rect x="1365.8" y="1306.0" width="19" height="19"/><rect x="1367.0" y="1303.7" width="19" height="19"/><rect x="1368.1" y="1326.3" width="19" height="19"/><rect x="1369.2" y="1317.5" width="19" height="19"/><rect x="1370.3" y="1334.2" width="19" height="19"/><rect x="1371.4" y="1318.7" width="19" height="19"/><rect x="1372.6" y="1329.4" width="19" height="19"/><rect x="1373.7" y="1323.3" width="19" height="19"/><rect x="1374.8" y="1334.2" width="19" height="19"/><rect x="1375.9" y="1305.2" width="19" height="19"/><rect x="1377.1" y="1302.2" width="19" height="19"/><rect x="1378.2" y="1303.0" width="19" height="19"/><rect x="1379.3" y="1321.3" width="19" height="19"/><rect x="1380.4" y="1299.6" width="19" height="19"/><rect x="1381.5" y="1321.6" width="19" height="19"/><rect x="1382.7" y="1324.5" width="19" height="19"/><rect x="1383.8" y="1330.5" width="19" height="19"/><rect x="1384.9" y="1324.1" width="19" height="19"/><rect x="1386.0" y="1325.3" width="19" height="19"/><rect x="1387.2" y="1316.2" width="19" height="19"/><rect x="1388.3" y="1320.9" width="19" height="19"/><rect x="1389.4" y="1303.2" width="19" height="19"/><rect x="1390.5" y="1311.9" width="19" height="19"/><rect x="1391.6" y="1301.2" width="19" height="19"/><rect x="1392.8" y="1308.7" width="19" height="19"/><rect x="1393.9" y="1308.3" width="19" height="19"/><rect x="1395.0" y="1307.5" width="19" height="19"/><rect x="1396.1" y="1323.6" width="19" height="19"/><rect x="1397.3" y="1301.4" width="19" height="19"/><rect x="1398.4" y="1317.1" width="19" height="19"/><rect x="1399.5" y="1323.0" width="19" height="19"/><rect x="1400.6" y="1299.6" width="19" height="19"/><rect x="1401.7" y="1310.6" width="19" height="19"/><rect x="1402.9" y="1313.9" width="19" height="19"/><rect x="1404.0" y="1327.4" width="19" height="19"/><rect x="1405.1" y="1325.9" width="19" height="19"/><rect x="1406.2" y="1315.9" width="19" height="19"/><rect x="1407.4" y="1301.7" width="19" height="19"/><rect x="1408.5" y="1317.5" width="19" height="19"/><rect x="1409.6" y="1326.3" width="19" height="19"/><rect x="1410.7" y="1321.1" width="19" height="19"/><rect x="1411.9" y="1324.6" width="19" height="19"/><rect x="1413.0" y="1313.2" width="19" height="19"/><rect x="1414.1" y="1307.0" width="19" height="19"/><rect x="1415.2" y="1318.5" width="19" height="19"/><rect x="1416.3" y="1319.8" width="19" height="19"/><rect x="1417.5" y="1330.7" width="19" height="19"/><rect x="1418.6" y="1299.4" width="19" height="19"/><rect x="1419.7" y="1315.4" width="19" height="19"/><rect x="1420.8" y="1303.0" width="19" height="19"/><rect x="1422.0" y="1323.4" width="19" height="19"/><rect x="1423.1" y="1318.9" width="19" height="19"/><rect x="1424.2" y="1299.8" width="19" height="19"/><rect x="1425.3" y="1302.6" width="19" height="19"/><rect x="1426.4" y="1331.6" width="19" height="19"/><rect x="1427.6" y="1301.8" width="19" height="19"/><rect x="1428.7" y="1312.5" width="19" height="19"/><rect x="1429.8" y="1319.2" width="19" height="19"/><rect x="1430.9" y="1304.2" width="19" height="19"/><rect x="1432.1" y="1299.2" width="19" height="19"/><rect x="1433.2" y="1329.0" width="19" height="19"/><rect x="1434.3" y="1314.7" width="19" height="19"/><rect x="1435.4" y="1300.2" width="19" height="19"/><rect x="1436.5" y="1310.4" width="19" height="19"/><rect x="1437.7" y="1317.0" width="19" height="19"/><rect x="1438.8" y="1331.4" width="19" height="19"/><rect x="1439.9" y="1324.7" width="19" height="19"/><rect x="1441.0" y="1310.5" width="19" height="19"/><rect x="1442.2" y="1328.4" width="19" height="19"/><rect x="1443.3" y="1310.8" width="19" height="19"/><rect x="1444.4" y="1328.9" width="19" height="19"/><rect x="1445.5" y="1314.7" width="19" height="19"/><rect x="1446.6" y="1319.4" width="19" height="19"/><rect x="1447.8" y="1312.0" width="19" height="19"/><rect x="1448.9" y="1322.4" width="19" height="19"/><rect x="1450.0" y="1299.6" width="19" height="19"/><rect x="1451.1" y="1302.2" width="19" height="19"/><rect x="1452.3" y="1324.6" width="19" height="19"/><rect x="1453.4" y="1299.5" width="19" height="19"/><rect x="1454.5" y="1322.1" width="19" height="19"/><rect x="1455.6" y="1315.5" width="19" height="19"/><rect x="1456.8" y="1318.2" width="19" height="19"/><rect x="1457.9" y="1309.6" width="19" height="19"/><rect x="1459.0" y="1324.8" width="19" height="19"/><rect x="1460.1" y="1320.9" width="19" height="19"/><rect x="1461.2" y="1309.0" width="19" height="19"/><rect x="1462.4" y="1305.0" width="19" height="19"/><rect x="1463.5" y="1315.0" width="19" height="19"/><rect x="1464.6" y="1298.9" width="19" height="19"/><rect x="1465.7" y="1304.0" width="19" height="19"/><rect x="1466.9" y="1324.7" width="19" height="19"/><rect x="1468.0" y="1322.1" width="19" height="19"/><rect x="1469.1" y="1315.1" width="19" height="19"/><rect x="1470.2" y="1324.4" width="19" height="19"/><rect x="1471.3" y="1309.1" width="19" height="19"/><rect x="1472.5" y="1327.0" width="19" height="19"/><rect x="1473.6" y="1324.6" width="19" height="19"/><rect x="1474.7" y="1327.0" width="19" height="19"/><rect x="1475.8" y="1329.7" width="19" height="19"/><rect x="1477.0" y="1300.7" width="19" height="19"/><rect x="1478.1" y="1306.3" width="19" height="19"/><rect x="1479.2" y="1299.4" width="19" height="19"/><rect x="1480.3" y="1325.1" width="19" height="19"/><rect x="1481.4" y="1305.6" width="19" height="19"/><rect x="1482.6" y="1308.3" width="19" height="19"/><rect x="1483.7" y="1318.3" width="19" height="19"/><rect x="1484.8" y="1325.3" width="19" height="19"/><rect x="1485.9" y="1321.4" width="19" height="19"/><rect x="1487.1" y="1297.9" width="19" height="19"/><rect x="1488.2" y="1297.5" width="19" height="19"/><rect x="1489.3" y="1318.4" width="19" height="19"/><rect x="1490.4" y="1302.3" width="19" height="19"/><rect x="1491.5" y="1328.9" width="19" height="19"/><rect x="1492.7" y="1317.6" width="19" height="19"/><rect x="1493.8" y="1323.7" width="19" height="19"/><rect x="1494.9" y="1299.3" width="19" height="19"/><rect x="1496.0" y="1316.0" width="19" height="19"/><rect x="1497.2" y="1303.6" width="19" height="19"/><rect x="1498.3" y="1328.8" width="19" height="19"/><rect x="1499.4" y="1298.1" width="19" height="19"/><rect x="1500.5" y="1304.0" width="19" height="19"/><rect x="1501.6" y="1318.0" width="19" height="19"/><rect x="1502.8" y="1296.6" width="19" height="19"/><rect x="1503.9" y="1320.5" width="19" height="19"/><rect x="1505.0" y="1318.6" width="19" height="19"/><rect x="1506.1" y="1329.3" width="19" height="19"/><rect x="1507.3" y="1297.7" width="19" height="19"/><rect x="1508.4" y="1296.7" width="19" height="19"/><rect x="1509.5" y="1321.2" width="19" height="19"/><rect x="1510.6" y="1296.1" width="19" height="19"/><rect x="1511.8" y="1315.8" width="19" height="19"/><rect x="1512.9" y="1314.2" width="19" height="19"/><rect x="1514.0" y="1297.0" width="19" height="19"/><rect x="1515.1" y="1301.3" width="19" height="19"/><rect x="1516.2" y="1300.5" width="19" height="19"/><rect x="1517.4" y="1307.9" width="19" height="19"/><rect x="1518.5" y="1317.8" width="19" height="19"/><rect x="1519.6" y="1301.8" width="19" height="19"/><rect x="1520.7" y="1322.0" width="19" height="19"/><rect x="1521.9" y="1320.2" width="19" height="19"/><rect x="1523.0" y="1327.6" width="19" height="19"/><rect x="1524.1" y="1317.5" width="19" height="19"/><rect x="1525.2" y="1298.2" width="19" height="19"/><rect x="1526.3" y="1319.6" width="19" height="19"/><rect x="1527.5" y="1325.4" width="19" height="19"/><rect x="1528.6" y="1304.2" width="19" height="19"/><rect x="1529.7" y="1320.6" width="19" height="19"/><rect x="1530.8" y="1307.3" width="19" height="19"/><rect x="1532.0" y="1302.9" width="19" height="19"/><rect x="1533.1" y="1305.8" width="19" height="19"/><rect x="1534.2" y="1299.7" width="19" height="19"/><rect x="1535.3" y="1309.2" width="19" height="19"/><rect x="1536.4" y="1303.3" width="19" height="19"/><rect x="1537.6" y="1320.3" width="19" height="19"/><rect x="1538.7" y="1323.6" width="19" height="19"/><rect x="1539.8" y="1308.9" width="19" height="19"/><rect x="1540.9" y="1315.3" width="19" height="19"/><rect x="1542.1" y="1311.4" width="19" height="19"/><rect x="1543.2" y="1301.1" width="19" height="19"/><rect x="1544.3" y="1294.8" width="19" height="19"/><rect x="1545.4" y="1312.7" width="19" height="19"/><rect x="1546.5" y="1300.1" width="19" height="19"/><rect x="1547.7" y="1327.8" width="19" height="19"/><rect x="1548.8" y="1325.1" width="19" height="19"/><rect x="1549.9" y="1295.6" width="19" height="19"/><rect x="1551.0" y="1297.2" width="19" height="19"/><rect x="1552.2" y="1299.4" width="19" height="19"/><rect x="1553.3" y="1320.4" width="19" height="19"/><rect x="1554.4" y="1296.8" width="19" height="19"/><rect x="1555.5" y="1308.9" width="19" height="19"/><rect x="1556.6" y="1322.0" width="19" height="19"/><rect x="1557.8" y="1324.7" width="19" height="19"/><rect x="1558.9" y="1320.8" width="19" height="19"/><rect x="1560.0" y="1307.1" width="19" height="19"/><rect x="1561.1" y="1329.3" width="19" height="19"/><rect x="1562.3" y="1306.3" width="19" height="19"/><rect x="1563.4" y="1318.9" width="19" height="19"/><rect x="1564.5" y="1302.3" width="19" height="19"/><rect x="1565.6" y="1327.6" width="19" height="19"/><rect x="1566.8" y="1316.2" width="19" height="19"/><rect x="1567.9" y="1307.8" width="19" height="19"/><rect x="1569.0" y="1324.2" width="19" height="19"/><rect x="1570.1" y="1315.7" width="19" height="19"/><rect x="1571.2" y="1319.3" width="19" height="19"/><rect x="1572.4" y="1319.1" width="19" height="19"/><rect x="1573.5" y="1317.6" width="19" height="19"/><rect x="1574.6" y="1300.1" width="19" height="19"/><rect x="1575.7" y="1317.4" width="19" height="19"/><rect x="1576.9" y="1304.8" width="19" height="19"/><rect x="1578.0" y="1329.7" width="19" height="19"/><rect x="1579.1" y="1315.3" width="19" height="19"/><rect x="1580.2" y="1315.9" width="19" height="19"/><rect x="1581.3" y="1314.0" width="19" height="19"/><rect x="1582.5" y="1329.4" width="19" height="19"/><rect x="1583.6" y="1307.8" width="19" height="19"/><rect x="1584.7" y="1326.8" width="19" height="19"/><rect x="1585.8" y="1317.1" width="19" height="19"/><rect x="1587.0" y="1324.8" width="19" height="19"/><rect x="1588.1" y="1311.8" width="19" height="19"/><rect x="1589.2" y="1326.0" width="19" height="19"/><rect x="1590.3" y="1302.0" width="19" height="19"/><rect x="1591.4" y="1322.9" width="19" height="19"/><rect x="1592.6" y="1297.1" width="19" height="19"/><rect x="1593.7" y="1313.0" width="19" height="19"/><rect x="1594.8" y="1297.6" width="19" height="19"/><rect x="1595.9" y="1298.3" width="19" height="19"/><rect x="1597.1" y="1301.0" width="19" height="19"/><rect x="1598.2" y="1302.3" width="19" height="19"/><rect x="1599.3" y="1315.4" width="19" height="19"/><rect x="1600.4" y="1300.7" width="19" height="19"/><rect x="1601.5" y="1321.8" width="19" height="19"/><rect x="1602.7" y="1311.4" width="19" height="19"/><rect x="1603.8" y="1324.9" width="19" height="19"/><rect x="1604.9" y="1304.1" width="19" height="19"/><rect x="1606.0" y="1327.7" width="19" height="19"/><rect x="1607.2" y="1302.9" width="19" height="19"/><rect x="1608.3" y="1300.0" width="19" height="19"/><rect x="1609.4" y="1308.2" width="19" height="19"/><rect x="1610.5" y="1307.2" width="19" height="19"/><rect x="1611.7" y="1314.3" width="19" height="19"/><rect x="1612.8" y="1314.0" width="19" height="19"/><rect x="1613.9" y="1313.2" width="19" height="19"/><rect x="1615.0" y="1327.8" width="19" height="19"/><rect x="1616.1" y="1311.6" width="19" height="19"/><rect x="1617.3" y="1302.1" width="19" height="19"/><rect x="1618.4" y="1312.6" width="19" height="19"/><rect x="1619.5" y="1312.0" width="19" height="19"/><rect x="1620.6" y="1323.9" width="19" height="19"/><rect x="1621.8" y="1325.1" width="19" height="19"/><rect x="1622.9" y="1310.6" width="19" height="19"/><rect x="1624.0" y="1306.1" width="19" height="19"/><rect x="1625.1" y="1302.7" width="19" height="19"/><rect x="1626.2" y="1310.3" width="19" height="19"/><rect x="1627.4" y="1310.5" width="19" height="19"/><rect x="1628.5" y="1295.0" width="19" height="19"/><rect x="1629.6" y="1298.2" width="19" height="19"/><rect x="1630.7" y="1302.5" width="19" height="19"/><rect x="1631.9" y="1321.0" width="19" height="19"/><rect x="1633.0" y="1310.7" width="19" height="19"/><rect x="1634.1" y="1296.0" width="19" height="19"/><rect x="1635.2" y="1300.3" width="19" height="19"/><rect x="1636.3" y="1325.2" width="19" height="19"/><rect x="1637.5" y="1301.3" width="19" height="19"/><rect x="1638.6" y="1296.4" width="19" height="19"/><rect x="1639.7" y="1299.2" width="19" height="19"/><rect x="1640.8" y="1310.0" width="19" height="19"/><rect x="1642.0" y="1320.1" width="19" height="19"/><rect x="1643.1" y="1309.7" width="19" height="19"/><rect x="1644.2" y="1325.9" width="19" height="19"/><rect x="1645.3" y="1321.6" width="19" height="19"/><rect x="1646.4" y="1303.6" width="19" height="19"/><rect x="1647.6" y="1321.2" width="19" height="19"/><rect x="1648.7" y="1323.0" width="19" height="19"/><rect x="1649.8" y="1305.0" width="19" height="19"/><rect x="1650.9" y="1296.7" width="19" height="19"/><rect x="1652.1" y="1306.8" width="19" height="19"/><rect x="1653.2" y="1323.2" width="19" height="19"/><rect x="1654.3" y="1305.0" width="19" height="19"/><rect x="1655.4" y="1299.2" width="19" height="19"/><rect x="1656.5" y="1292.5" width="19" height="19"/><rect x="1657.7" y="1314.2" width="19" height="19"/><rect x="1658.8" y="1311.3" width="19" height="19"/><rect x="1659.9" y="1300.8" width="19" height="19"/><rect x="1661.0" y="1298.2" width="19" height="19"/><rect x="1662.2" y="1304.4" width="19" height="19"/><rect x="1663.3" y="1306.2" width="19" height="19"/><rect x="1664.4" y="1315.6" width="19" height="19"/><rect x="1665.5" y="1325.1" width="19" height="19"/><rect x="1666.7" y="1305.0" width="19" height="19"/><rect x="1667.8" y="1308.5" width="19" height="19"/><rect x="1668.9" y="1321.6" width="19" height="19"/><rect x="1670.0" y="1303.6" width="19" height="19"/><rect x="1671.1" y="1326.0" width="19" height="19"/><rect x="1672.3" y="1322.4" width="19" height="19"/><rect x="1673.4" y="1318.3" width="19" height="19"/><rect x="1674.5" y="1305.6" width="19" height="19"/><rect x="1675.6" y="1304.4" width="19" height="19"/><rect x="1676.8" y="1321.2" width="19" height="19"/><rect x="1677.9" y="1317.4" width="19" height="19"/><rect x="1679.0" y="1322.5" width="19" height="19"/><rect x="1680.1" y="1295.7" width="19" height="19"/><rect x="1681.2" y="1311.8" width="19" height="19"/><rect x="1682.4" y="1325.3" width="19" height="19"/><rect x="1683.5" y="1306.2" width="19" height="19"/><rect x="1684.6" y="1303.3" width="19" height="19"/><rect x="1685.7" y="1293.2" width="19" height="19"/><rect x="1686.9" y="1317.0" width="19" height="19"/><rect x="1688.0" y="1324.0" width="19" height="19"/><rect x="1689.1" y="1311.5" width="19" height="19"/></g>
<polyline points="1283.4,1505.1 1342.0,1505.1 1342.0,1412.9 1377.5,1412.9 1377.5,1505.1 1387.5,1505.1" fill="none" stroke="#000" stroke-width="5.2" stroke-linejoin="miter" stroke-linecap="butt"/>
<line x1="1400.5" y1="1505.1" x2="1412.5" y2="1505.1" stroke="#000" stroke-width="5.2" stroke-linecap="butt"/>
<polyline points="1424.0,1505.1 1437.8,1505.1 1437.8,1412.9 1472.8,1412.9 1472.8,1505.1 1482.5,1505.1" fill="none" stroke="#000" stroke-width="5.2" stroke-linejoin="miter" stroke-linecap="butt"/>
<line x1="1495.5" y1="1505.1" x2="1507.5" y2="1505.1" stroke="#000" stroke-width="5.2" stroke-linecap="butt"/>
<polyline points="1519.0,1505.1 1531.5,1505.1 1531.5,1412.9 1568.4,1412.9 1568.4,1505.1 1625.5,1505.1" fill="none" stroke="#000" stroke-width="5.2" stroke-linejoin="miter" stroke-linecap="butt"/>
<text x="1339.8" y="1399.7" font-family='"Liberation Sans",sans-serif' font-size="33.98" font-weight="bold" textLength="229.2" lengthAdjust="spacingAndGlyphs" fill="#000">-10 mV, 20 ms</text>
<text x="1111.4" y="1484.8" font-family='"Liberation Sans",sans-serif' font-size="33.98" font-weight="bold" textLength="209.3" lengthAdjust="spacingAndGlyphs" fill="#000">-60 mV, 2 ms</text>
<text x="1287.8" y="1538.0" font-family='"Liberation Sans",sans-serif' font-size="32.69" font-weight="bold" textLength="336.0" lengthAdjust="spacingAndGlyphs" fill="#000">1000 pulses/12.5 ms</text>
<text x="3.6" y="1712.4" font-family='"Liberation Sans",sans-serif' font-size="43.9" font-weight="bold" textLength="32.7" lengthAdjust="spacingAndGlyphs" fill="#000">G</text>
<line x1="148.0" y1="1694.6" x2="449.5" y2="1694.6" stroke="#e4e4e4" stroke-width="1" stroke-linecap="butt"/>
<line x1="545.0" y1="1694.6" x2="842.0" y2="1694.6" stroke="#ece4e4" stroke-width="1" stroke-linecap="butt"/>
<path d="M119.0,1694.1 C122.0,1694.1 133.2,1693.9 137.0,1694.1 C140.7,1694.3 139.9,1694.2 141.4,1695.2 C142.9,1696.2 144.3,1697.1 145.9,1700.2 C147.5,1703.2 149.4,1708.0 151.1,1713.6 C152.7,1719.2 154.4,1726.7 156.0,1733.8 C157.6,1740.8 159.0,1748.7 160.5,1756.1 C162.0,1763.6 163.5,1771.5 165.0,1778.5 C166.4,1785.6 167.9,1792.7 169.4,1798.7 C170.9,1804.7 172.2,1809.3 173.9,1814.4 C175.6,1819.4 177.5,1824.6 179.5,1828.9 C181.6,1833.2 184.2,1837.6 186.2,1840.1 C188.3,1842.6 190.0,1843.2 191.8,1843.9 C193.7,1844.7 195.6,1845.0 197.4,1844.8 C199.3,1844.7 201.0,1844.4 203.0,1843.0 C205.1,1841.7 207.5,1839.3 209.7,1836.8 C212.0,1834.2 214.2,1831.0 216.5,1827.8 C218.7,1824.6 220.6,1821.8 223.2,1817.7 C225.8,1813.6 229.2,1807.8 232.1,1803.2 C235.1,1798.5 237.7,1794.4 241.1,1789.7 C244.5,1785.1 248.6,1779.7 252.3,1775.2 C256.0,1770.7 259.8,1766.6 263.5,1762.9 C267.2,1759.1 271.0,1755.9 274.7,1752.8 C278.4,1749.7 282.2,1747.0 285.9,1744.5 C289.6,1742.0 293.4,1739.8 297.1,1737.8 C300.8,1735.7 304.6,1733.8 308.3,1732.2 C312.0,1730.6 315.8,1729.3 319.5,1728.2 C323.2,1727.0 326.2,1726.2 330.7,1725.2 C335.2,1724.3 340.0,1723.6 346.4,1722.6 C352.7,1721.5 361.3,1720.1 368.8,1719.0 C376.2,1717.9 383.7,1716.7 391.2,1715.8 C398.6,1714.9 406.1,1714.2 413.6,1713.6 C421.0,1713.0 429.8,1712.7 436.0,1712.5 C442.1,1712.2 448.1,1712.1 450.5,1712.0" fill="none" stroke="#6e6e6e" stroke-width="1.8" stroke-linecap="round" stroke-linejoin="round"/>
<path d="M119.0,1694.1 C122.0,1694.1 133.2,1693.9 137.0,1694.1 C140.7,1694.3 139.9,1694.2 141.4,1695.2 C142.9,1696.2 144.4,1697.1 145.9,1700.2 C147.4,1703.2 148.9,1708.0 150.4,1713.6 C151.9,1719.2 153.4,1726.3 154.9,1733.8 C156.4,1741.2 157.9,1749.4 159.4,1758.4 C160.8,1767.3 162.5,1778.9 163.8,1787.5 C165.1,1796.1 166.1,1802.4 167.2,1809.9 C168.3,1817.4 169.4,1825.2 170.6,1832.3 C171.7,1839.4 172.6,1845.7 173.9,1852.5 C175.2,1859.2 176.7,1866.5 178.4,1872.6 C180.1,1878.8 182.1,1884.9 184.0,1889.4 C185.9,1893.9 187.5,1897.2 189.6,1899.5 C191.6,1901.8 194.1,1903.1 196.3,1903.3 C198.5,1903.5 200.8,1902.6 203.0,1900.6 C205.3,1898.7 207.5,1895.4 209.7,1891.7 C212.0,1887.9 214.2,1883.1 216.5,1878.2 C218.7,1873.4 220.9,1867.9 223.2,1862.5 C225.4,1857.1 227.3,1851.9 229.9,1845.7 C232.5,1839.6 235.9,1831.9 238.9,1825.6 C241.8,1819.2 244.8,1813.3 247.8,1807.7 C250.8,1802.1 253.4,1797.4 256.8,1792.0 C260.1,1786.6 264.2,1780.2 268.0,1775.2 C271.7,1770.1 275.4,1765.9 279.2,1761.7 C282.9,1757.6 286.6,1753.9 290.4,1750.6 C294.1,1747.2 297.8,1744.2 301.6,1741.6 C305.3,1739.0 309.0,1736.9 312.8,1734.9 C316.5,1732.9 320.2,1731.2 324.0,1729.7 C327.7,1728.2 331.4,1727.0 335.2,1725.9 C338.9,1724.8 340.8,1724.3 346.4,1723.2 C352.0,1722.1 361.3,1720.4 368.8,1719.2 C376.2,1718.0 383.7,1716.8 391.2,1715.8 C398.6,1714.9 406.1,1714.2 413.6,1713.6 C421.0,1713.0 429.8,1712.7 436.0,1712.5 C442.1,1712.2 448.1,1712.1 450.5,1712.0" fill="none" stroke="#111" stroke-width="1.8" stroke-linecap="round" stroke-linejoin="round"/>
<path d="M510.2,1694.8 C514.3,1694.8 529.8,1694.6 534.8,1694.8 C539.8,1695.0 538.7,1695.0 540.4,1696.1 C542.1,1697.2 543.5,1698.7 544.9,1701.3 C546.3,1703.8 547.6,1707.4 548.7,1711.4 C549.8,1715.3 550.6,1719.6 551.6,1724.8 C552.6,1730.0 553.6,1736.0 554.5,1742.7 C555.4,1749.4 556.2,1756.9 557.2,1765.1 C558.2,1773.3 559.4,1783.0 560.6,1792.0 C561.7,1800.9 562.8,1810.3 563.9,1818.9 C565.0,1827.4 566.1,1835.7 567.3,1843.5 C568.4,1851.3 569.4,1858.8 570.6,1865.9 C571.9,1873.0 573.4,1880.6 574.7,1886.1 C576.0,1891.5 577.3,1895.6 578.5,1898.4 C579.7,1901.2 580.5,1902.1 581.8,1902.8 C583.1,1903.6 585.0,1903.6 586.3,1903.1 C587.6,1902.5 588.4,1901.6 589.7,1899.5 C591.0,1897.4 592.5,1894.3 594.1,1890.5 C595.8,1886.8 597.7,1882.3 599.7,1877.1 C601.8,1871.9 604.2,1865.1 606.5,1859.2 C608.7,1853.2 610.8,1847.6 613.2,1841.3 C615.6,1834.9 618.4,1827.4 621.0,1821.1 C623.6,1814.8 626.1,1809.2 628.9,1803.2 C631.7,1797.2 634.8,1790.9 637.8,1785.3 C640.8,1779.7 643.8,1774.1 646.8,1769.6 C649.8,1765.1 652.4,1761.9 655.7,1758.4 C659.1,1754.8 662.8,1751.7 666.9,1748.3 C671.0,1745.0 675.5,1741.4 680.4,1738.2 C685.2,1735.1 691.2,1731.7 696.1,1729.3 C700.9,1726.8 705.4,1725.0 709.5,1723.7 C713.6,1722.4 717.0,1721.9 720.7,1721.4 C724.4,1720.9 728.2,1721.4 731.9,1720.8 C735.6,1720.1 738.6,1718.6 743.1,1717.6 C747.6,1716.6 752.4,1715.8 758.8,1714.7 C765.1,1713.7 773.7,1712.4 781.2,1711.4 C788.6,1710.3 796.8,1709.2 803.6,1708.4 C810.3,1707.7 814.9,1707.2 821.5,1706.9 C828.0,1706.5 839.2,1706.3 842.8,1706.2" fill="none" stroke="#111" stroke-width="1.8" stroke-linecap="round" stroke-linejoin="round"/>
<path d="M510.2,1694.8 C515.0,1694.8 532.9,1694.4 539.3,1694.8 C545.6,1695.1 545.2,1695.5 548.2,1696.8 C551.2,1698.1 554.2,1700.0 557.2,1702.4 C560.2,1704.8 563.2,1708.4 566.1,1711.4 C569.1,1714.3 572.1,1717.8 575.1,1720.3 C578.1,1722.9 581.1,1725.0 584.1,1726.6 C587.1,1728.2 590.2,1729.1 593.0,1729.7 C595.8,1730.4 597.9,1730.5 600.9,1730.4 C603.9,1730.2 607.0,1729.9 610.9,1728.8 C614.9,1727.7 619.9,1725.3 624.4,1723.7 C628.9,1722.1 633.3,1720.5 637.8,1719.2 C642.3,1717.9 646.4,1716.7 651.3,1715.8 C656.1,1715.0 661.7,1715.0 666.9,1714.0 C672.2,1713.1 677.4,1711.4 682.6,1710.2 C687.8,1709.1 693.1,1708.0 698.3,1707.3 C703.5,1706.6 709.1,1706.3 714.0,1706.0 C718.8,1705.6 722.6,1705.7 727.4,1705.3 C732.3,1704.9 737.9,1704.0 743.1,1703.5 C748.3,1703.0 752.4,1702.8 758.8,1702.4 C765.1,1701.9 773.7,1701.3 781.2,1700.8 C788.6,1700.4 797.6,1700.1 803.6,1699.7 C809.5,1699.3 812.5,1699.0 817.0,1698.6 C821.5,1698.2 826.1,1697.7 830.4,1697.5 C834.7,1697.2 840.7,1697.3 842.8,1697.2" fill="none" stroke="#b8202c" stroke-width="2.0" stroke-linecap="round" stroke-linejoin="round"/>
<line x1="113.4" y1="1846.2" x2="150.5" y2="1809.4" stroke="#111" stroke-width="1.6" stroke-linecap="butt"/>
<polygon points="162.3,1797.6 157.2,1816.2 143.7,1802.6" fill="#0a0a0a"/>
<line x1="509.0" y1="1778.1" x2="545.2" y2="1742.8" stroke="#111" stroke-width="1.6" stroke-linecap="butt"/>
<polygon points="557.2,1731.1 551.9,1749.6 538.5,1735.9" fill="#0a0a0a"/>
<text x="21.7" y="1878.0" font-family='"Liberation Sans",sans-serif' font-size="29.39" font-weight="bold" textLength="88.3" lengthAdjust="spacingAndGlyphs" fill="#000">10 µM</text>
<text x="416.6" y="1810.6" font-family='"Liberation Sans",sans-serif' font-size="29.39" font-weight="bold" textLength="89.2" lengthAdjust="spacingAndGlyphs" fill="#000">10 µM</text>
<line x1="240.1" y1="1863.3" x2="301.5" y2="1863.3" stroke="#111" stroke-width="3.2" stroke-linecap="butt"/>
<line x1="240.1" y1="1899.6" x2="301.5" y2="1899.6" stroke="#777" stroke-width="3.2" stroke-linecap="butt"/>
<text x="315.8" y="1872.7" font-family='"DejaVu Sans","Liberation Sans",sans-serif' font-size="27.5" textLength="223.9" lengthAdjust="spacingAndGlyphs" fill="#000" stroke="#fff" stroke-width="0.4">Nav1.4 - Before</text>
<text x="315.7" y="1908.8" font-family='"DejaVu Sans","Liberation Sans",sans-serif' font-size="27.5" textLength="204.8" lengthAdjust="spacingAndGlyphs" fill="#000" stroke="#fff" stroke-width="0.4">Nav1.4 - After</text>
<line x1="627.2" y1="1863.3" x2="689.1" y2="1863.3" stroke="#111" stroke-width="3.2" stroke-linecap="butt"/>
<line x1="627.2" y1="1899.6" x2="689.1" y2="1899.6" stroke="#b8202c" stroke-width="3.2" stroke-linecap="butt"/>
<text x="702.1" y="1872.7" font-family='"DejaVu Sans","Liberation Sans",sans-serif' font-size="27.5" textLength="224.7" lengthAdjust="spacingAndGlyphs" fill="#000" stroke="#fff" stroke-width="0.4">Nav1.4 - Before</text>
<text x="702.0" y="1908.8" font-family='"DejaVu Sans","Liberation Sans",sans-serif' font-size="27.5" textLength="204.8" lengthAdjust="spacingAndGlyphs" fill="#000" stroke="#fff" stroke-width="0.4">Nav1.4 - After</text>
<rect x="236.2" y="2158.5" width="173.8" height="164.7" fill="#bfbfbf"/>
<rect x="516.1" y="2026.4" width="173.8" height="296.8" fill="#b8221a"/>
<line x1="136.9" y1="1889.6" x2="136.9" y2="2325.5" stroke="#000" stroke-width="4.7" stroke-linecap="butt"/>
<line x1="127.7" y1="2323.2" x2="788.6" y2="2323.2" stroke="#000" stroke-width="4.7" stroke-linecap="butt"/>
<line x1="128.0" y1="1959.7" x2="136.9" y2="1959.7" stroke="#000" stroke-width="4.4" stroke-linecap="butt"/>
<line x1="128.0" y1="2141.4" x2="136.9" y2="2141.4" stroke="#000" stroke-width="4.4" stroke-linecap="butt"/>
<line x1="323.1" y1="2323.2" x2="323.1" y2="2333.0" stroke="#000" stroke-width="4.4" stroke-linecap="butt"/>
<line x1="603.0" y1="2323.2" x2="603.0" y2="2333.0" stroke="#000" stroke-width="4.4" stroke-linecap="butt"/>
<text x="67.2" y="1972.6" font-family='"Liberation Sans",sans-serif' font-size="34" textLength="57.8" lengthAdjust="spacingAndGlyphs" fill="#000">100</text>
<text x="85.5" y="2154.3" font-family='"Liberation Sans",sans-serif' font-size="34" textLength="39.6" lengthAdjust="spacingAndGlyphs" fill="#000">50</text>
<text x="106.7" y="2335.9" font-family='"Liberation Sans",sans-serif' font-size="34" textLength="18.3" lengthAdjust="spacingAndGlyphs" fill="#000">0</text>
<text x="255.1" y="2366.7" font-family='"Liberation Sans",sans-serif' font-size="34" textLength="134.3" lengthAdjust="spacingAndGlyphs" fill="#000">-110 mV</text>
<text x="542.6" y="2366.7" font-family='"Liberation Sans",sans-serif' font-size="34" textLength="118.5" lengthAdjust="spacingAndGlyphs" fill="#000">-70 mV</text>
<text transform="translate(43.2 2315.2) rotate(-90)" font-family='"Liberation Sans",sans-serif' font-size="35.00" font-weight="normal" textLength="417.5" lengthAdjust="spacingAndGlyphs" fill="#000">%Peak Current Block (CBD)</text>
<line x1="323.1" y1="2137.5" x2="323.1" y2="2166.4" stroke="#000" stroke-width="5.3" stroke-linecap="butt"/>
<line x1="275.8" y1="2137.5" x2="369.8" y2="2137.5" stroke="#000" stroke-width="5.3" stroke-linecap="round"/>
<line x1="275.8" y1="2166.4" x2="369.8" y2="2166.4" stroke="#000" stroke-width="5.3" stroke-linecap="round"/>
<line x1="603.3" y1="2007.1" x2="603.3" y2="2032.7" stroke="#000" stroke-width="5.3" stroke-linecap="butt"/>
<line x1="556.0" y1="2007.1" x2="649.4" y2="2007.1" stroke="#000" stroke-width="5.3" stroke-linecap="round"/>
<line x1="556.0" y1="2032.7" x2="649.4" y2="2032.7" stroke="#000" stroke-width="5.3" stroke-linecap="round"/>
<circle cx="306.0" cy="2123.5" r="8.4" fill="#0a0a0a" stroke="none" stroke-width="0"/>
<circle cx="340.2" cy="2127.7" r="8.4" fill="#0a0a0a" stroke="none" stroke-width="0"/>
<circle cx="306.0" cy="2146.2" r="8.4" fill="#0a0a0a" stroke="none" stroke-width="0"/>
<circle cx="340.2" cy="2159.1" r="8.4" fill="#0a0a0a" stroke="none" stroke-width="0"/>
<circle cx="323.1" cy="2204.0" r="8.4" fill="#0a0a0a" stroke="none" stroke-width="0"/>
<rect x="577.8" y="1991.0" width="16.3" height="16.3" fill="#0a0a0a" stroke="none" stroke-width="0"/>
<rect x="612.0" y="2007.6" width="16.3" height="16.3" fill="#0a0a0a" stroke="none" stroke-width="0"/>
<rect x="594.9" y="2035.8" width="16.3" height="16.3" fill="#0a0a0a" stroke="none" stroke-width="0"/>
<line x1="277.8" y1="1970.8" x2="638.5" y2="1970.8" stroke="#333" stroke-width="1.7" stroke-linecap="butt"/>
<text x="445.0" y="1978.5" font-family='"Liberation Sans",sans-serif' font-size="58" font-weight="bold" textLength="23.9" lengthAdjust="spacingAndGlyphs" fill="#000">*</text>
<text x="929.6" y="1712.4" font-family='"Liberation Sans",sans-serif' font-size="43.9" font-weight="bold" textLength="30.1" lengthAdjust="spacingAndGlyphs" fill="#000">H</text>
<text x="1047.5" y="1748.2" font-family='"Liberation Sans",sans-serif' font-size="49.66" font-weight="bold" textLength="666.8" lengthAdjust="spacingAndGlyphs" fill="#000">State-Dependence Protocol</text>
<text x="1307.6" y="1863.3" font-family='"Liberation Sans",sans-serif' font-size="32.83" font-weight="bold" textLength="198.3" lengthAdjust="spacingAndGlyphs" fill="#000">20 ms, 0 mV</text>
<text x="1064.7" y="2291.5" font-family='"Liberation Sans",sans-serif' font-size="32.69" font-weight="bold" textLength="204.4" lengthAdjust="spacingAndGlyphs" fill="#000">-110/-70 mV</text>
<polyline points="1057.7,2319.1 1301.8,2319.1 1301.8,1878.5 1514.4,1878.5 1514.4,2315.2 1723.5,2315.2" fill="none" stroke="#000" stroke-width="5.8" stroke-linejoin="miter" stroke-linecap="butt"/>
</svg>
</body></html>
